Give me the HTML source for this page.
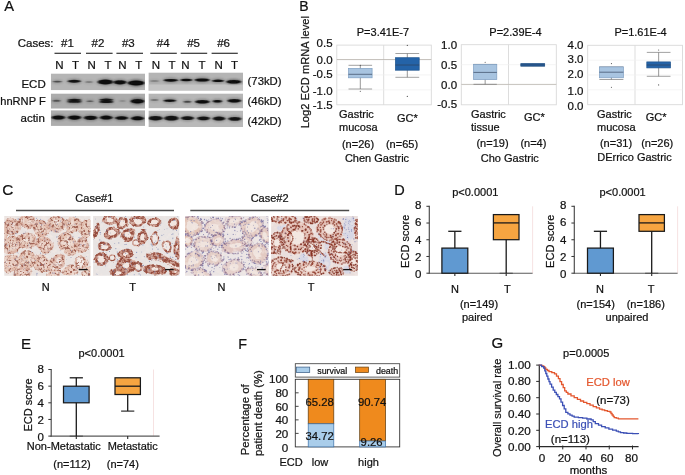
<!DOCTYPE html>
<html><head><meta charset="utf-8"><title>Figure</title>
<style>
html,body{margin:0;padding:0;background:#fff;}
body{width:685px;height:475px;overflow:hidden;}
svg{display:block;font-family:"Liberation Sans",Arial,sans-serif;}
svg text{opacity:0.995;}
</style></head><body>
<svg width="685" height="475" viewBox="0 0 685 475">
<rect width="685" height="475" fill="#fff"/>
<defs>
<filter id="b1" x="-20%" y="-60%" width="140%" height="220%"><feGaussianBlur stdDeviation="1.05 0.65"/></filter>
<filter id="b2" x="-20%" y="-60%" width="140%" height="220%"><feGaussianBlur stdDeviation="0.85 0.55"/></filter>
<filter id="halo" x="-30%" y="-100%" width="160%" height="300%"><feGaussianBlur stdDeviation="1.6 1.3"/></filter>
<filter id="bg" x="0" y="0" width="100%" height="100%"><feGaussianBlur stdDeviation="3"/></filter>
<filter id="soft" x="-10%" y="-10%" width="120%" height="120%"><feGaussianBlur stdDeviation="0.7"/></filter>
<filter id="soft2" x="-10%" y="-10%" width="120%" height="120%"><feGaussianBlur stdDeviation="1.2"/></filter>
<filter id="soft3" x="-10%" y="-10%" width="120%" height="120%"><feGaussianBlur stdDeviation="0.45"/></filter>
</defs>
<text x="4.20" y="11.16" font-size="14.7" text-anchor="start" fill="#111" stroke="#111" stroke-width="0.22">A</text>
<text x="17.70" y="47.42" font-size="11.5" text-anchor="start" fill="#111" stroke="#111" stroke-width="0.22">Cases:</text>
<text x="67.50" y="47.42" font-size="11.5" text-anchor="middle" fill="#111" stroke="#111" stroke-width="0.22">#1</text>
<text x="97.90" y="47.42" font-size="11.5" text-anchor="middle" fill="#111" stroke="#111" stroke-width="0.22">#2</text>
<text x="128.30" y="47.42" font-size="11.5" text-anchor="middle" fill="#111" stroke="#111" stroke-width="0.22">#3</text>
<text x="163.20" y="47.42" font-size="11.5" text-anchor="middle" fill="#111" stroke="#111" stroke-width="0.22">#4</text>
<text x="193.60" y="47.42" font-size="11.5" text-anchor="middle" fill="#111" stroke="#111" stroke-width="0.22">#5</text>
<text x="223.60" y="47.42" font-size="11.5" text-anchor="middle" fill="#111" stroke="#111" stroke-width="0.22">#6</text>
<line x1="54.50" y1="53.30" x2="81.00" y2="53.30" stroke="#333" stroke-width="1.2"/>
<line x1="86.00" y1="53.30" x2="112.60" y2="53.30" stroke="#333" stroke-width="1.2"/>
<line x1="116.40" y1="53.30" x2="143.00" y2="53.30" stroke="#333" stroke-width="1.2"/>
<line x1="150.30" y1="53.30" x2="176.80" y2="53.30" stroke="#333" stroke-width="1.2"/>
<line x1="180.70" y1="53.30" x2="207.20" y2="53.30" stroke="#333" stroke-width="1.2"/>
<line x1="211.60" y1="53.30" x2="237.80" y2="53.30" stroke="#333" stroke-width="1.2"/>
<text x="59.40" y="68.72" font-size="11.5" text-anchor="middle" fill="#111" stroke="#111" stroke-width="0.22">N</text>
<text x="75.50" y="68.72" font-size="11.5" text-anchor="middle" fill="#111" stroke="#111" stroke-width="0.22">T</text>
<text x="91.70" y="68.72" font-size="11.5" text-anchor="middle" fill="#111" stroke="#111" stroke-width="0.22">N</text>
<text x="108.00" y="68.72" font-size="11.5" text-anchor="middle" fill="#111" stroke="#111" stroke-width="0.22">T</text>
<text x="122.50" y="68.72" font-size="11.5" text-anchor="middle" fill="#111" stroke="#111" stroke-width="0.22">N</text>
<text x="138.80" y="68.72" font-size="11.5" text-anchor="middle" fill="#111" stroke="#111" stroke-width="0.22">T</text>
<text x="155.80" y="68.72" font-size="11.5" text-anchor="middle" fill="#111" stroke="#111" stroke-width="0.22">N</text>
<text x="171.90" y="68.72" font-size="11.5" text-anchor="middle" fill="#111" stroke="#111" stroke-width="0.22">T</text>
<text x="185.40" y="68.72" font-size="11.5" text-anchor="middle" fill="#111" stroke="#111" stroke-width="0.22">N</text>
<text x="201.90" y="68.72" font-size="11.5" text-anchor="middle" fill="#111" stroke="#111" stroke-width="0.22">T</text>
<text x="218.60" y="68.72" font-size="11.5" text-anchor="middle" fill="#111" stroke="#111" stroke-width="0.22">N</text>
<text x="234.40" y="68.72" font-size="11.5" text-anchor="middle" fill="#111" stroke="#111" stroke-width="0.22">T</text>
<text x="45.70" y="87.92" font-size="11.5" text-anchor="end" fill="#111" stroke="#111" stroke-width="0.22">ECD</text>
<text x="45.70" y="105.27" font-size="11.1" text-anchor="end" fill="#111" stroke="#111" stroke-width="0.22">hnRNP F</text>
<text x="44.80" y="121.92" font-size="11.5" text-anchor="end" fill="#111" stroke="#111" stroke-width="0.22">actin</text>
<text x="247.60" y="85.35" font-size="11.3" text-anchor="start" fill="#111" stroke="#111" stroke-width="0.22">(73kD)</text>
<text x="247.60" y="105.35" font-size="11.3" text-anchor="start" fill="#111" stroke="#111" stroke-width="0.22">(46kD)</text>
<text x="247.60" y="125.35" font-size="11.3" text-anchor="start" fill="#111" stroke="#111" stroke-width="0.22">(42kD)</text>
<clipPath id="cb1"><rect x="50.8" y="73.4" width="94.2" height="16.89999999999999"/></clipPath>
<g clip-path="url(#cb1)">
<rect x="50.80" y="73.40" width="94.20" height="16.90" fill="#b5b5b5" stroke="none" stroke-width="1"/>
<ellipse cx="57.3" cy="81.6" rx="5.4" ry="2.2" fill="#222" opacity="0.17" filter="url(#halo)"/>
<ellipse cx="57.3" cy="81.6" rx="4.2" ry="0.9" fill="#0a0a0a" opacity="0.55" filter="url(#b2)"/>
<ellipse cx="74.2" cy="81.3" rx="7.6000000000000005" ry="2.8" fill="#222" opacity="0.28" filter="url(#halo)"/>
<ellipse cx="74.2" cy="81.3" rx="6.4" ry="1.5" fill="#0a0a0a" opacity="0.95" filter="url(#b1)"/>
<ellipse cx="89" cy="82" rx="4.8" ry="2.0" fill="#222" opacity="0.10" filter="url(#halo)"/>
<ellipse cx="89" cy="82" rx="3.6" ry="0.7" fill="#0a0a0a" opacity="0.35" filter="url(#b2)"/>
<ellipse cx="105.4" cy="82" rx="8.799999999999999" ry="3.7" fill="#222" opacity="0.30" filter="url(#halo)"/>
<ellipse cx="105.4" cy="82" rx="7.6" ry="2.4" fill="#0a0a0a" opacity="1" filter="url(#b1)"/>
<ellipse cx="120" cy="82.3" rx="7.5" ry="3.4000000000000004" fill="#222" opacity="0.30" filter="url(#halo)"/>
<ellipse cx="120" cy="82.3" rx="6.3" ry="2.1" fill="#0a0a0a" opacity="1" filter="url(#b1)"/>
<ellipse cx="136.2" cy="83" rx="9.399999999999999" ry="3.9000000000000004" fill="#222" opacity="0.30" filter="url(#halo)"/>
<ellipse cx="136.2" cy="83" rx="8.2" ry="2.6" fill="#0a0a0a" opacity="1" filter="url(#b1)"/>
<ellipse cx="136" cy="83" rx="7.2" ry="2.9000000000000004" fill="#222" opacity="0.30" filter="url(#halo)"/>
<ellipse cx="136" cy="83" rx="6" ry="1.6" fill="#0a0a0a" opacity="1" filter="url(#b1)"/>
</g>
<clipPath id="cb2"><rect x="50.8" y="93.4" width="94.2" height="15.299999999999997"/></clipPath>
<g clip-path="url(#cb2)">
<rect x="50.80" y="93.40" width="94.20" height="15.30" fill="#acacac" stroke="none" stroke-width="1"/>
<ellipse cx="56.5" cy="100.7" rx="4.8" ry="2.3" fill="#222" opacity="0.15" filter="url(#halo)"/>
<ellipse cx="56.5" cy="100.7" rx="3.6" ry="1.0" fill="#0a0a0a" opacity="0.5" filter="url(#b2)"/>
<ellipse cx="74.4" cy="100" rx="8.0" ry="2.5" fill="#222" opacity="0.28" filter="url(#halo)"/>
<ellipse cx="74.4" cy="100" rx="6.8" ry="1.2" fill="#0a0a0a" opacity="0.95" filter="url(#b2)"/>
<ellipse cx="74.4" cy="101.8" rx="8.0" ry="2.3" fill="#222" opacity="0.27" filter="url(#halo)"/>
<ellipse cx="74.4" cy="101.8" rx="6.8" ry="1.0" fill="#0a0a0a" opacity="0.9" filter="url(#b2)"/>
<ellipse cx="90" cy="101.3" rx="4.4" ry="2.0" fill="#222" opacity="0.15" filter="url(#halo)"/>
<ellipse cx="90" cy="101.3" rx="3.2" ry="0.7" fill="#0a0a0a" opacity="0.5" filter="url(#b2)"/>
<ellipse cx="106.3" cy="99.8" rx="7.8" ry="2.5" fill="#222" opacity="0.28" filter="url(#halo)"/>
<ellipse cx="106.3" cy="99.8" rx="6.6" ry="1.2" fill="#0a0a0a" opacity="0.95" filter="url(#b2)"/>
<ellipse cx="106.3" cy="101.9" rx="7.8" ry="2.4000000000000004" fill="#222" opacity="0.28" filter="url(#halo)"/>
<ellipse cx="106.3" cy="101.9" rx="6.6" ry="1.1" fill="#0a0a0a" opacity="0.95" filter="url(#b2)"/>
<ellipse cx="122.5" cy="101" rx="4.4" ry="2.0" fill="#222" opacity="0.06" filter="url(#halo)"/>
<ellipse cx="122.5" cy="101" rx="3.2" ry="0.7" fill="#0a0a0a" opacity="0.2" filter="url(#b2)"/>
<ellipse cx="137.5" cy="101.3" rx="7.8" ry="3.5" fill="#222" opacity="0.30" filter="url(#halo)"/>
<ellipse cx="137.5" cy="101.3" rx="6.6" ry="2.2" fill="#0a0a0a" opacity="1" filter="url(#b1)"/>
<ellipse cx="137.5" cy="101.3" rx="6.2" ry="2.7" fill="#222" opacity="0.30" filter="url(#halo)"/>
<ellipse cx="137.5" cy="101.3" rx="5" ry="1.4" fill="#0a0a0a" opacity="1" filter="url(#b1)"/>
</g>
<clipPath id="cb3"><rect x="50.8" y="110.2" width="94.2" height="15.700000000000003"/></clipPath>
<g clip-path="url(#cb3)">
<rect x="50.80" y="110.20" width="94.20" height="15.70" fill="#adadad" stroke="none" stroke-width="1"/>
<ellipse cx="58.4" cy="117.5" rx="7.8" ry="3.3" fill="#222" opacity="0.30" filter="url(#halo)"/>
<ellipse cx="58.4" cy="117.5" rx="6.6" ry="2.0" fill="#0a0a0a" opacity="1" filter="url(#b1)"/>
<ellipse cx="74.5" cy="117.6" rx="7.8" ry="3.4000000000000004" fill="#222" opacity="0.30" filter="url(#halo)"/>
<ellipse cx="74.5" cy="117.6" rx="6.6" ry="2.1" fill="#0a0a0a" opacity="1" filter="url(#b1)"/>
<ellipse cx="90.6" cy="117.8" rx="7.8" ry="3.4000000000000004" fill="#222" opacity="0.30" filter="url(#halo)"/>
<ellipse cx="90.6" cy="117.8" rx="6.6" ry="2.1" fill="#0a0a0a" opacity="1" filter="url(#b1)"/>
<ellipse cx="106.2" cy="117.6" rx="7.5" ry="3.3" fill="#222" opacity="0.30" filter="url(#halo)"/>
<ellipse cx="106.2" cy="117.6" rx="6.3" ry="2.0" fill="#0a0a0a" opacity="1" filter="url(#b1)"/>
<ellipse cx="121.6" cy="118" rx="7.4" ry="3.1" fill="#222" opacity="0.30" filter="url(#halo)"/>
<ellipse cx="121.6" cy="118" rx="6.2" ry="1.8" fill="#0a0a0a" opacity="1" filter="url(#b1)"/>
<ellipse cx="137.5" cy="118.3" rx="7.6000000000000005" ry="3.3" fill="#222" opacity="0.30" filter="url(#halo)"/>
<ellipse cx="137.5" cy="118.3" rx="6.4" ry="2.0" fill="#0a0a0a" opacity="1" filter="url(#b1)"/>
</g>
<clipPath id="cb4"><rect x="148.4" y="72.4" width="94.6" height="18.39999999999999"/></clipPath>
<g clip-path="url(#cb4)">
<rect x="148.40" y="72.40" width="94.60" height="18.40" fill="#b4b4b4" stroke="none" stroke-width="1"/>
<ellipse cx="154.5" cy="81" rx="5.6000000000000005" ry="2.0" fill="#222" opacity="0.09" filter="url(#halo)"/>
<ellipse cx="154.5" cy="81" rx="4.4" ry="0.7" fill="#0a0a0a" opacity="0.3" filter="url(#b2)"/>
<ellipse cx="170.8" cy="80.3" rx="8.2" ry="2.7" fill="#222" opacity="0.30" filter="url(#halo)"/>
<ellipse cx="170.8" cy="80.3" rx="7" ry="1.4" fill="#0a0a0a" opacity="1" filter="url(#b1)"/>
<ellipse cx="186.3" cy="80" rx="6.8" ry="2.5" fill="#222" opacity="0.30" filter="url(#halo)"/>
<ellipse cx="186.3" cy="80" rx="5.6" ry="1.2" fill="#0a0a0a" opacity="1" filter="url(#b1)"/>
<ellipse cx="202.2" cy="80" rx="8.4" ry="2.9000000000000004" fill="#222" opacity="0.30" filter="url(#halo)"/>
<ellipse cx="202.2" cy="80" rx="7.2" ry="1.6" fill="#0a0a0a" opacity="1" filter="url(#b1)"/>
<ellipse cx="218" cy="80.8" rx="7.0" ry="2.5" fill="#222" opacity="0.30" filter="url(#halo)"/>
<ellipse cx="218" cy="80.8" rx="5.8" ry="1.2" fill="#0a0a0a" opacity="1" filter="url(#b1)"/>
<ellipse cx="233.8" cy="81.8" rx="8.4" ry="3.0" fill="#222" opacity="0.30" filter="url(#halo)"/>
<ellipse cx="233.8" cy="81.8" rx="7.2" ry="1.7" fill="#0a0a0a" opacity="1" filter="url(#b1)"/>
<ellipse cx="233.8" cy="81.8" rx="6.2" ry="2.3" fill="#222" opacity="0.30" filter="url(#halo)"/>
<ellipse cx="233.8" cy="81.8" rx="5" ry="1" fill="#0a0a0a" opacity="1" filter="url(#b1)"/>
</g>
<clipPath id="cb5"><rect x="148.4" y="93.4" width="94.6" height="15.0"/></clipPath>
<g clip-path="url(#cb5)">
<rect x="148.40" y="93.40" width="94.60" height="15.00" fill="#b6b6b6" stroke="none" stroke-width="1"/>
<ellipse cx="154.5" cy="100" rx="4.8" ry="2.2" fill="#222" opacity="0.10" filter="url(#halo)"/>
<ellipse cx="154.5" cy="100" rx="3.6" ry="0.9" fill="#0a0a0a" opacity="0.35" filter="url(#b2)"/>
<ellipse cx="169.8" cy="100.7" rx="7.2" ry="2.6" fill="#222" opacity="0.30" filter="url(#halo)"/>
<ellipse cx="169.8" cy="100.7" rx="6" ry="1.3" fill="#0a0a0a" opacity="1" filter="url(#b1)"/>
<ellipse cx="187.4" cy="101.8" rx="4.8" ry="2.3" fill="#222" opacity="0.18" filter="url(#halo)"/>
<ellipse cx="187.4" cy="101.8" rx="3.6" ry="1.0" fill="#0a0a0a" opacity="0.6" filter="url(#b2)"/>
<ellipse cx="202.4" cy="101.8" rx="8.2" ry="3.0" fill="#222" opacity="0.30" filter="url(#halo)"/>
<ellipse cx="202.4" cy="101.8" rx="7" ry="1.7" fill="#0a0a0a" opacity="1" filter="url(#b1)"/>
<ellipse cx="217.4" cy="101.3" rx="5.6000000000000005" ry="2.6" fill="#222" opacity="0.30" filter="url(#halo)"/>
<ellipse cx="217.4" cy="101.3" rx="4.4" ry="1.3" fill="#0a0a0a" opacity="1" filter="url(#b1)"/>
<ellipse cx="234.3" cy="100.7" rx="7.8" ry="3.0" fill="#222" opacity="0.30" filter="url(#halo)"/>
<ellipse cx="234.3" cy="100.7" rx="6.6" ry="1.7" fill="#0a0a0a" opacity="1" filter="url(#b1)"/>
</g>
<clipPath id="cb6"><rect x="148.4" y="110.5" width="94.6" height="16.599999999999994"/></clipPath>
<g clip-path="url(#cb6)">
<rect x="148.40" y="110.50" width="94.60" height="16.60" fill="#b9b9b9" stroke="none" stroke-width="1"/>
<ellipse cx="155.5" cy="118.2" rx="8.0" ry="3.5999999999999996" fill="#222" opacity="0.28" filter="url(#halo)"/>
<ellipse cx="155.5" cy="118.2" rx="6.8" ry="2.3" fill="#0a0a0a" opacity="0.95" filter="url(#b1)"/>
<ellipse cx="171.4" cy="118.2" rx="8.2" ry="3.7" fill="#222" opacity="0.28" filter="url(#halo)"/>
<ellipse cx="171.4" cy="118.2" rx="7" ry="2.4" fill="#0a0a0a" opacity="0.95" filter="url(#b1)"/>
<ellipse cx="187.5" cy="118.2" rx="7.4" ry="3.2" fill="#222" opacity="0.28" filter="url(#halo)"/>
<ellipse cx="187.5" cy="118.2" rx="6.2" ry="1.9" fill="#0a0a0a" opacity="0.95" filter="url(#b1)"/>
<ellipse cx="203.5" cy="118.3" rx="7.4" ry="3.2" fill="#222" opacity="0.28" filter="url(#halo)"/>
<ellipse cx="203.5" cy="118.3" rx="6.2" ry="1.9" fill="#0a0a0a" opacity="0.95" filter="url(#b1)"/>
<ellipse cx="219" cy="118.6" rx="7.4" ry="3.3" fill="#222" opacity="0.28" filter="url(#halo)"/>
<ellipse cx="219" cy="118.6" rx="6.2" ry="2.0" fill="#0a0a0a" opacity="0.95" filter="url(#b1)"/>
<ellipse cx="234.8" cy="118.8" rx="7.5" ry="3.2" fill="#222" opacity="0.28" filter="url(#halo)"/>
<ellipse cx="234.8" cy="118.8" rx="6.3" ry="1.9" fill="#0a0a0a" opacity="0.95" filter="url(#b1)"/>
</g>
<rect x="148.4" y="84.5" width="94.6" height="6.3" fill="#d2d2d2" opacity="0.55"/>
<text x="299.20" y="10.91" font-size="14" text-anchor="start" fill="#111" stroke="#111" stroke-width="0.22">B</text>
<text x="305.10" y="76.17" font-size="11.1" text-anchor="middle" fill="#111" stroke="#111" stroke-width="0.22" transform="rotate(-90 305.10 72.20)">Log2 ECD mRNA level</text>
<rect x="336.80" y="45.10" width="94.50" height="59.70" fill="#fff" stroke="#d9d9d9" stroke-width="0.9"/>
<line x1="383.70" y1="45.10" x2="383.70" y2="104.80" stroke="#d9d9d9" stroke-width="0.9"/>
<line x1="336.80" y1="60.02" x2="431.30" y2="60.02" stroke="#efefef" stroke-width="0.7"/>
<line x1="336.80" y1="74.95" x2="431.30" y2="74.95" stroke="#efefef" stroke-width="0.7"/>
<line x1="336.80" y1="89.88" x2="431.30" y2="89.88" stroke="#efefef" stroke-width="0.7"/>
<line x1="336.80" y1="59.50" x2="431.30" y2="59.50" stroke="#b6b0a9" stroke-width="0.75"/>
<text x="382.90" y="35.94" font-size="11" text-anchor="middle" fill="#111" stroke="#111" stroke-width="0.22">P=3.41E-7</text>
<text x="332.60" y="46.52" font-size="11.5" text-anchor="end" fill="#111" stroke="#111" stroke-width="0.22">0.5</text>
<text x="332.60" y="64.24" font-size="11.5" text-anchor="end" fill="#111" stroke="#111" stroke-width="0.22">0.0</text>
<text x="332.60" y="77.92" font-size="11.5" text-anchor="end" fill="#111" stroke="#111" stroke-width="0.22">-0.5</text>
<text x="332.60" y="94.89" font-size="11.5" text-anchor="end" fill="#111" stroke="#111" stroke-width="0.22">-1.0</text>
<text x="332.60" y="109.22" font-size="11.5" text-anchor="end" fill="#111" stroke="#111" stroke-width="0.22">-1.5</text>
<line x1="360.30" y1="65.30" x2="360.30" y2="89.00" stroke="#606060" stroke-width="0.65"/>
<line x1="348.50" y1="65.30" x2="372.10" y2="65.30" stroke="#707070" stroke-width="0.65"/>
<line x1="348.50" y1="89.00" x2="372.10" y2="89.00" stroke="#707070" stroke-width="0.65"/>
<rect x="348.50" y="68.40" width="23.60" height="9.40" fill="#a8c4e0" stroke="#7f9fc2" stroke-width="0.7"/>
<line x1="348.50" y1="74.30" x2="372.10" y2="74.30" stroke="#2e3e55" stroke-width="0.65"/>
<circle cx="360.3" cy="65.3" r="0.55" fill="#444"/>
<circle cx="360.3" cy="91.3" r="0.55" fill="#444"/>
<line x1="407.30" y1="53.50" x2="407.30" y2="77.30" stroke="#606060" stroke-width="0.65"/>
<line x1="395.40" y1="53.50" x2="419.20" y2="53.50" stroke="#707070" stroke-width="0.65"/>
<line x1="395.40" y1="77.30" x2="419.20" y2="77.30" stroke="#707070" stroke-width="0.65"/>
<rect x="395.40" y="57.70" width="23.80" height="12.50" fill="#2463a8" stroke="#1f558f" stroke-width="0.7"/>
<line x1="395.40" y1="65.00" x2="419.20" y2="65.00" stroke="#2e3e55" stroke-width="0.65"/>
<circle cx="407.29999999999995" cy="45.4" r="0.55" fill="#444"/>
<circle cx="407.29999999999995" cy="96.4" r="0.55" fill="#444"/>
<text x="339.00" y="118.14" font-size="11" text-anchor="start" fill="#111" stroke="#111" stroke-width="0.22">Gastric</text>
<text x="339.00" y="131.34" font-size="11" text-anchor="start" fill="#111" stroke="#111" stroke-width="0.22">mucosa</text>
<text x="397.00" y="121.94" font-size="11" text-anchor="start" fill="#111" stroke="#111" stroke-width="0.22">GC*</text>
<text x="358.00" y="147.54" font-size="11" text-anchor="middle" fill="#111" stroke="#111" stroke-width="0.22">(n=26)</text>
<text x="402.00" y="147.54" font-size="11" text-anchor="middle" fill="#111" stroke="#111" stroke-width="0.22">(n=65)</text>
<text x="377.00" y="161.94" font-size="11" text-anchor="middle" fill="#111" stroke="#111" stroke-width="0.22">Chen Gastric</text>
<rect x="461.30" y="44.70" width="95.00" height="60.10" fill="#fff" stroke="#d9d9d9" stroke-width="0.9"/>
<line x1="508.50" y1="44.70" x2="508.50" y2="104.80" stroke="#d9d9d9" stroke-width="0.9"/>
<line x1="461.30" y1="64.73" x2="556.30" y2="64.73" stroke="#efefef" stroke-width="0.7"/>
<line x1="461.30" y1="84.77" x2="556.30" y2="84.77" stroke="#efefef" stroke-width="0.7"/>
<line x1="461.30" y1="84.40" x2="556.30" y2="84.40" stroke="#b6b0a9" stroke-width="0.75"/>
<text x="515.50" y="35.94" font-size="11" text-anchor="middle" fill="#111" stroke="#111" stroke-width="0.22">P=2.39E-4</text>
<text x="457.10" y="49.22" font-size="11.5" text-anchor="end" fill="#111" stroke="#111" stroke-width="0.22">1.0</text>
<text x="457.10" y="68.55" font-size="11.5" text-anchor="end" fill="#111" stroke="#111" stroke-width="0.22">0.5</text>
<text x="457.10" y="89.28" font-size="11.5" text-anchor="end" fill="#111" stroke="#111" stroke-width="0.22">0.0</text>
<text x="457.10" y="108.02" font-size="11.5" text-anchor="end" fill="#111" stroke="#111" stroke-width="0.22">-0.5</text>
<line x1="485.15" y1="64.40" x2="485.15" y2="84.30" stroke="#606060" stroke-width="0.65"/>
<line x1="473.50" y1="64.40" x2="496.80" y2="64.40" stroke="#707070" stroke-width="0.65"/>
<line x1="473.50" y1="84.30" x2="496.80" y2="84.30" stroke="#707070" stroke-width="0.65"/>
<rect x="473.50" y="64.40" width="23.30" height="15.20" fill="#a8c4e0" stroke="#7f9fc2" stroke-width="0.7"/>
<line x1="473.50" y1="72.40" x2="496.80" y2="72.40" stroke="#2e3e55" stroke-width="0.65"/>
<circle cx="485.15" cy="62.3" r="0.55" fill="#444"/>
<line x1="532.75" y1="63.70" x2="532.75" y2="66.10" stroke="#606060" stroke-width="0.65"/>
<line x1="520.80" y1="63.70" x2="544.70" y2="63.70" stroke="#707070" stroke-width="0.65"/>
<line x1="520.80" y1="66.10" x2="544.70" y2="66.10" stroke="#707070" stroke-width="0.65"/>
<rect x="520.80" y="63.70" width="23.90" height="2.40" fill="#2463a8" stroke="#1f558f" stroke-width="0.7"/>
<line x1="520.80" y1="64.90" x2="544.70" y2="64.90" stroke="#2e3e55" stroke-width="0.65"/>
<text x="471.00" y="118.14" font-size="11" text-anchor="start" fill="#111" stroke="#111" stroke-width="0.22">Gastric</text>
<text x="471.00" y="131.34" font-size="11" text-anchor="start" fill="#111" stroke="#111" stroke-width="0.22">tissue</text>
<text x="524.00" y="121.14" font-size="11" text-anchor="start" fill="#111" stroke="#111" stroke-width="0.22">GC*</text>
<text x="492.50" y="146.54" font-size="11" text-anchor="middle" fill="#111" stroke="#111" stroke-width="0.22">(n=19)</text>
<text x="533.40" y="146.54" font-size="11" text-anchor="middle" fill="#111" stroke="#111" stroke-width="0.22">(n=4)</text>
<text x="509.80" y="161.54" font-size="11" text-anchor="middle" fill="#111" stroke="#111" stroke-width="0.22">Cho Gastric</text>
<rect x="587.70" y="45.30" width="94.80" height="59.40" fill="#fff" stroke="#d9d9d9" stroke-width="0.9"/>
<line x1="635.00" y1="45.30" x2="635.00" y2="104.70" stroke="#d9d9d9" stroke-width="0.9"/>
<line x1="587.70" y1="60.15" x2="682.50" y2="60.15" stroke="#efefef" stroke-width="0.7"/>
<line x1="587.70" y1="75.00" x2="682.50" y2="75.00" stroke="#efefef" stroke-width="0.7"/>
<line x1="587.70" y1="89.85" x2="682.50" y2="89.85" stroke="#efefef" stroke-width="0.7"/>
<text x="640.60" y="35.94" font-size="11" text-anchor="middle" fill="#111" stroke="#111" stroke-width="0.22">P=1.61E-4</text>
<text x="583.50" y="48.72" font-size="11.5" text-anchor="end" fill="#111" stroke="#111" stroke-width="0.22">4.0</text>
<text x="583.50" y="63.27" font-size="11.5" text-anchor="end" fill="#111" stroke="#111" stroke-width="0.22">3.0</text>
<text x="583.50" y="77.92" font-size="11.5" text-anchor="end" fill="#111" stroke="#111" stroke-width="0.22">2.0</text>
<text x="583.50" y="95.27" font-size="11.5" text-anchor="end" fill="#111" stroke="#111" stroke-width="0.22">1.0</text>
<text x="583.50" y="109.82" font-size="11.5" text-anchor="end" fill="#111" stroke="#111" stroke-width="0.22">0.0</text>
<line x1="611.40" y1="66.90" x2="611.40" y2="79.50" stroke="#606060" stroke-width="0.65"/>
<line x1="599.40" y1="66.90" x2="623.40" y2="66.90" stroke="#707070" stroke-width="0.65"/>
<line x1="599.40" y1="79.50" x2="623.40" y2="79.50" stroke="#707070" stroke-width="0.65"/>
<rect x="599.40" y="66.90" width="24.00" height="10.90" fill="#a8c4e0" stroke="#7f9fc2" stroke-width="0.7"/>
<line x1="599.40" y1="72.20" x2="623.40" y2="72.20" stroke="#2e3e55" stroke-width="0.65"/>
<circle cx="611.4" cy="63.6" r="0.55" fill="#444"/>
<circle cx="611.4" cy="87.3" r="0.55" fill="#444"/>
<line x1="658.65" y1="52.40" x2="658.65" y2="76.30" stroke="#606060" stroke-width="0.65"/>
<line x1="646.80" y1="52.40" x2="670.50" y2="52.40" stroke="#707070" stroke-width="0.65"/>
<line x1="646.80" y1="76.30" x2="670.50" y2="76.30" stroke="#707070" stroke-width="0.65"/>
<rect x="646.80" y="61.90" width="23.70" height="6.00" fill="#2463a8" stroke="#1f558f" stroke-width="0.7"/>
<line x1="646.80" y1="65.00" x2="670.50" y2="65.00" stroke="#2e3e55" stroke-width="0.65"/>
<circle cx="658.65" cy="50" r="0.55" fill="#444"/>
<circle cx="658.65" cy="84.9" r="0.55" fill="#444"/>
<text x="597.00" y="118.14" font-size="11" text-anchor="start" fill="#111" stroke="#111" stroke-width="0.22">Gastric</text>
<text x="597.00" y="131.34" font-size="11" text-anchor="start" fill="#111" stroke="#111" stroke-width="0.22">mucosa</text>
<text x="645.70" y="121.14" font-size="11" text-anchor="start" fill="#111" stroke="#111" stroke-width="0.22">GC*</text>
<text x="616.00" y="146.54" font-size="11" text-anchor="middle" fill="#111" stroke="#111" stroke-width="0.22">(n=31)</text>
<text x="657.20" y="146.54" font-size="11" text-anchor="middle" fill="#111" stroke="#111" stroke-width="0.22">(n=26)</text>
<text x="634.50" y="161.44" font-size="11" text-anchor="middle" fill="#111" stroke="#111" stroke-width="0.22">DErrico Gastric</text>
<text x="394.20" y="195.04" font-size="14.5" text-anchor="start" fill="#111" stroke="#111" stroke-width="0.22">D</text>
<text x="475.30" y="196.34" font-size="11" text-anchor="middle" fill="#111" stroke="#111" stroke-width="0.22">p&lt;0.0001</text>
<line x1="532.60" y1="206.30" x2="532.60" y2="273.20" stroke="#f5dfdf" stroke-width="0.9"/>
<line x1="429.30" y1="205.75" x2="429.30" y2="273.75" stroke="#4a4a4a" stroke-width="1.15"/>
<line x1="428.75" y1="273.20" x2="532.60" y2="273.20" stroke="#5a5a5a" stroke-width="1.15"/>
<line x1="426.40" y1="206.30" x2="429.30" y2="206.30" stroke="#3a3a3a" stroke-width="1.05"/>
<text x="421.50" y="209.12" font-size="11.5" text-anchor="end" fill="#111" stroke="#111" stroke-width="0.22">8</text>
<line x1="426.40" y1="223.03" x2="429.30" y2="223.03" stroke="#3a3a3a" stroke-width="1.05"/>
<text x="421.50" y="226.34" font-size="11.5" text-anchor="end" fill="#111" stroke="#111" stroke-width="0.22">6</text>
<line x1="426.40" y1="239.75" x2="429.30" y2="239.75" stroke="#3a3a3a" stroke-width="1.05"/>
<text x="421.50" y="243.57" font-size="11.5" text-anchor="end" fill="#111" stroke="#111" stroke-width="0.22">4</text>
<line x1="426.40" y1="256.48" x2="429.30" y2="256.48" stroke="#3a3a3a" stroke-width="1.05"/>
<text x="421.50" y="260.79" font-size="11.5" text-anchor="end" fill="#111" stroke="#111" stroke-width="0.22">2</text>
<line x1="426.40" y1="273.20" x2="429.30" y2="273.20" stroke="#3a3a3a" stroke-width="1.05"/>
<text x="421.50" y="278.02" font-size="11.5" text-anchor="end" fill="#111" stroke="#111" stroke-width="0.22">0</text>
<text x="405.40" y="245.24" font-size="11" text-anchor="middle" fill="#111" stroke="#111" stroke-width="0.22" transform="rotate(-90 405.40 241.30)">ECD score</text>
<line x1="454.85" y1="231.30" x2="454.85" y2="273.20" stroke="#1a1a1a" stroke-width="1.3"/>
<line x1="448.25" y1="231.30" x2="461.45" y2="231.30" stroke="#1a1a1a" stroke-width="1.3"/>
<rect x="441.90" y="248.10" width="25.90" height="25.10" fill="#6099d1" stroke="#1a1a1a" stroke-width="1.25"/>
<line x1="454.85" y1="273.20" x2="454.85" y2="276.00" stroke="#2a2a2a" stroke-width="1.1"/>
<line x1="506.20" y1="214.60" x2="506.20" y2="273.20" stroke="#1a1a1a" stroke-width="1.3"/>
<line x1="499.60" y1="273.20" x2="512.80" y2="273.20" stroke="#1a1a1a" stroke-width="0.6"/>
<rect x="493.40" y="214.60" width="25.60" height="25.10" fill="#f6a541" stroke="#1a1a1a" stroke-width="1.25"/>
<line x1="493.40" y1="222.90" x2="519.00" y2="222.90" stroke="#1a1a1a" stroke-width="1.3"/>
<line x1="506.20" y1="273.20" x2="506.20" y2="276.00" stroke="#2a2a2a" stroke-width="1.1"/>
<text x="455.10" y="292.84" font-size="11" text-anchor="middle" fill="#111" stroke="#111" stroke-width="0.22">N</text>
<text x="507.30" y="292.84" font-size="11" text-anchor="middle" fill="#111" stroke="#111" stroke-width="0.22">T</text>
<text x="479.00" y="307.84" font-size="11" text-anchor="middle" fill="#111" stroke="#111" stroke-width="0.22">(n=149)</text>
<text x="477.20" y="321.14" font-size="11" text-anchor="middle" fill="#111" stroke="#111" stroke-width="0.22">paired</text>
<text x="622.60" y="196.34" font-size="11" text-anchor="middle" fill="#111" stroke="#111" stroke-width="0.22">p&lt;0.0001</text>
<line x1="677.60" y1="206.30" x2="677.60" y2="273.20" stroke="#f5dfdf" stroke-width="0.9"/>
<line x1="574.30" y1="205.75" x2="574.30" y2="273.75" stroke="#4a4a4a" stroke-width="1.15"/>
<line x1="573.75" y1="273.20" x2="677.60" y2="273.20" stroke="#5a5a5a" stroke-width="1.15"/>
<line x1="571.40" y1="206.30" x2="574.30" y2="206.30" stroke="#3a3a3a" stroke-width="1.05"/>
<text x="566.50" y="209.12" font-size="11.5" text-anchor="end" fill="#111" stroke="#111" stroke-width="0.22">8</text>
<line x1="571.40" y1="223.03" x2="574.30" y2="223.03" stroke="#3a3a3a" stroke-width="1.05"/>
<text x="566.50" y="226.34" font-size="11.5" text-anchor="end" fill="#111" stroke="#111" stroke-width="0.22">6</text>
<line x1="571.40" y1="239.75" x2="574.30" y2="239.75" stroke="#3a3a3a" stroke-width="1.05"/>
<text x="566.50" y="243.57" font-size="11.5" text-anchor="end" fill="#111" stroke="#111" stroke-width="0.22">4</text>
<line x1="571.40" y1="256.48" x2="574.30" y2="256.48" stroke="#3a3a3a" stroke-width="1.05"/>
<text x="566.50" y="260.79" font-size="11.5" text-anchor="end" fill="#111" stroke="#111" stroke-width="0.22">2</text>
<line x1="571.40" y1="273.20" x2="574.30" y2="273.20" stroke="#3a3a3a" stroke-width="1.05"/>
<text x="566.50" y="278.02" font-size="11.5" text-anchor="end" fill="#111" stroke="#111" stroke-width="0.22">0</text>
<text x="550.30" y="245.24" font-size="11" text-anchor="middle" fill="#111" stroke="#111" stroke-width="0.22" transform="rotate(-90 550.30 241.30)">ECD score</text>
<line x1="600.45" y1="231.30" x2="600.45" y2="273.20" stroke="#1a1a1a" stroke-width="1.3"/>
<line x1="593.85" y1="231.30" x2="607.05" y2="231.30" stroke="#1a1a1a" stroke-width="1.3"/>
<rect x="587.50" y="248.10" width="25.90" height="25.10" fill="#6099d1" stroke="#1a1a1a" stroke-width="1.25"/>
<line x1="600.45" y1="273.20" x2="600.45" y2="276.00" stroke="#2a2a2a" stroke-width="1.1"/>
<line x1="651.70" y1="214.60" x2="651.70" y2="273.20" stroke="#1a1a1a" stroke-width="1.3"/>
<line x1="645.10" y1="273.20" x2="658.30" y2="273.20" stroke="#1a1a1a" stroke-width="0.6"/>
<rect x="639.00" y="214.60" width="25.40" height="16.70" fill="#f6a541" stroke="#1a1a1a" stroke-width="1.25"/>
<line x1="639.00" y1="222.90" x2="664.40" y2="222.90" stroke="#1a1a1a" stroke-width="1.3"/>
<line x1="651.70" y1="273.20" x2="651.70" y2="276.00" stroke="#2a2a2a" stroke-width="1.1"/>
<text x="600.10" y="292.84" font-size="11" text-anchor="middle" fill="#111" stroke="#111" stroke-width="0.22">N</text>
<text x="651.10" y="292.84" font-size="11" text-anchor="middle" fill="#111" stroke="#111" stroke-width="0.22">T</text>
<text x="595.70" y="307.84" font-size="11" text-anchor="middle" fill="#111" stroke="#111" stroke-width="0.22">(n=154)</text>
<text x="645.80" y="307.84" font-size="11" text-anchor="middle" fill="#111" stroke="#111" stroke-width="0.22">(n=186)</text>
<text x="627.00" y="321.14" font-size="11" text-anchor="middle" fill="#111" stroke="#111" stroke-width="0.22">unpaired</text>
<text x="21.10" y="348.77" font-size="15" text-anchor="start" fill="#111" stroke="#111" stroke-width="0.22">E</text>
<text x="101.60" y="356.84" font-size="11" text-anchor="middle" fill="#111" stroke="#111" stroke-width="0.22">p&lt;0.0001</text>
<line x1="153.50" y1="369.50" x2="153.50" y2="436.10" stroke="#f5dfdf" stroke-width="0.9"/>
<line x1="51.20" y1="368.95" x2="51.20" y2="436.65" stroke="#4a4a4a" stroke-width="1.15"/>
<line x1="50.65" y1="436.10" x2="159.60" y2="436.10" stroke="#5a5a5a" stroke-width="1.15"/>
<line x1="48.30" y1="369.50" x2="51.20" y2="369.50" stroke="#3a3a3a" stroke-width="1.05"/>
<text x="44.00" y="373.42" font-size="11.5" text-anchor="end" fill="#111" stroke="#111" stroke-width="0.22">8</text>
<line x1="48.30" y1="386.15" x2="51.20" y2="386.15" stroke="#3a3a3a" stroke-width="1.05"/>
<text x="44.00" y="390.22" font-size="11.5" text-anchor="end" fill="#111" stroke="#111" stroke-width="0.22">6</text>
<line x1="48.30" y1="402.80" x2="51.20" y2="402.80" stroke="#3a3a3a" stroke-width="1.05"/>
<text x="44.00" y="407.02" font-size="11.5" text-anchor="end" fill="#111" stroke="#111" stroke-width="0.22">4</text>
<line x1="48.30" y1="419.45" x2="51.20" y2="419.45" stroke="#3a3a3a" stroke-width="1.05"/>
<text x="44.00" y="423.82" font-size="11.5" text-anchor="end" fill="#111" stroke="#111" stroke-width="0.22">2</text>
<line x1="48.30" y1="436.10" x2="51.20" y2="436.10" stroke="#3a3a3a" stroke-width="1.05"/>
<text x="44.00" y="440.62" font-size="11.5" text-anchor="end" fill="#111" stroke="#111" stroke-width="0.22">0</text>
<text x="28.20" y="408.94" font-size="11" text-anchor="middle" fill="#111" stroke="#111" stroke-width="0.22" transform="rotate(-90 28.20 405.00)">ECD score</text>
<line x1="76.30" y1="377.80" x2="76.30" y2="436.10" stroke="#1a1a1a" stroke-width="1.3"/>
<line x1="69.70" y1="377.80" x2="82.90" y2="377.80" stroke="#1a1a1a" stroke-width="1.3"/>
<line x1="69.70" y1="436.10" x2="82.90" y2="436.10" stroke="#1a1a1a" stroke-width="0.6"/>
<rect x="63.50" y="386.20" width="25.60" height="16.60" fill="#6099d1" stroke="#1a1a1a" stroke-width="1.25"/>
<line x1="76.30" y1="436.10" x2="76.30" y2="438.90" stroke="#2a2a2a" stroke-width="1.1"/>
<line x1="127.70" y1="377.80" x2="127.70" y2="411.10" stroke="#1a1a1a" stroke-width="1.3"/>
<line x1="121.10" y1="411.10" x2="134.30" y2="411.10" stroke="#1a1a1a" stroke-width="1.1"/>
<rect x="115.00" y="377.80" width="25.40" height="16.70" fill="#f6a541" stroke="#1a1a1a" stroke-width="1.25"/>
<line x1="115.00" y1="386.20" x2="140.40" y2="386.20" stroke="#1a1a1a" stroke-width="1.3"/>
<line x1="127.70" y1="436.10" x2="127.70" y2="438.90" stroke="#2a2a2a" stroke-width="1.1"/>
<text x="63.80" y="450.04" font-size="11" text-anchor="middle" fill="#111" stroke="#111" stroke-width="0.22">Non-Metastatic</text>
<text x="132.70" y="450.04" font-size="11" text-anchor="middle" fill="#111" stroke="#111" stroke-width="0.22">Metastatic</text>
<text x="72.00" y="467.64" font-size="11" text-anchor="middle" fill="#111" stroke="#111" stroke-width="0.22">(n=112)</text>
<text x="122.80" y="467.64" font-size="11" text-anchor="middle" fill="#111" stroke="#111" stroke-width="0.22">(n=74)</text>
<text x="238.20" y="348.97" font-size="14.3" text-anchor="start" fill="#111" stroke="#111" stroke-width="0.22">F</text>
<rect x="295.30" y="363.70" width="104.40" height="13.40" fill="#fff" stroke="#444" stroke-width="0.85"/>
<rect x="296.30" y="367.10" width="13.40" height="5.30" fill="#a9cdea" stroke="#3a5f88" stroke-width="0.75"/>
<text x="317.20" y="373.59" font-size="8.9" text-anchor="start" fill="#111" stroke="#111" stroke-width="0.22">survival</text>
<rect x="355.60" y="367.10" width="12.80" height="5.30" fill="#ef8a1d" stroke="#6a4210" stroke-width="0.75"/>
<text x="376.00" y="373.59" font-size="8.9" text-anchor="start" fill="#111" stroke="#111" stroke-width="0.22">death</text>
<rect x="295.30" y="379.30" width="104.40" height="67.60" fill="#fff" stroke="#333" stroke-width="0.9"/>
<rect x="308.20" y="379.30" width="25.60" height="44.50" fill="#ef8a1d" stroke="#5a3a10" stroke-width="0.7"/>
<rect x="308.20" y="423.80" width="25.60" height="23.10" fill="#a9cdea" stroke="#3a6fa8" stroke-width="0.7"/>
<rect x="359.70" y="379.30" width="25.90" height="61.70" fill="#ef8a1d" stroke="#5a3a10" stroke-width="0.7"/>
<rect x="359.70" y="441.00" width="25.90" height="5.90" fill="#a9cdea" stroke="#3a6fa8" stroke-width="0.7"/>
<text x="288.30" y="383.05" font-size="11.6" text-anchor="end" fill="#111" stroke="#111" stroke-width="0.22">100</text>
<line x1="295.30" y1="392.82" x2="298.60" y2="392.82" stroke="#333" stroke-width="0.9"/>
<text x="288.30" y="397.27" font-size="11.6" text-anchor="end" fill="#111" stroke="#111" stroke-width="0.22">80</text>
<line x1="295.30" y1="406.34" x2="298.60" y2="406.34" stroke="#333" stroke-width="0.9"/>
<text x="288.30" y="410.79" font-size="11.6" text-anchor="end" fill="#111" stroke="#111" stroke-width="0.22">60</text>
<line x1="295.30" y1="419.86" x2="298.60" y2="419.86" stroke="#333" stroke-width="0.9"/>
<text x="288.30" y="424.31" font-size="11.6" text-anchor="end" fill="#111" stroke="#111" stroke-width="0.22">40</text>
<line x1="295.30" y1="433.38" x2="298.60" y2="433.38" stroke="#333" stroke-width="0.9"/>
<text x="288.30" y="437.83" font-size="11.6" text-anchor="end" fill="#111" stroke="#111" stroke-width="0.22">20</text>
<text x="288.30" y="451.75" font-size="11.6" text-anchor="end" fill="#111" stroke="#111" stroke-width="0.22">0</text>
<text x="244.90" y="423.88" font-size="11.4" text-anchor="middle" fill="#111" stroke="#111" stroke-width="0.22" transform="rotate(-90 244.90 419.80)">Percentage of</text>
<text x="257.80" y="417.23" font-size="11.25" text-anchor="middle" fill="#111" stroke="#111" stroke-width="0.22" transform="rotate(-90 257.80 413.20)">patient death (%)</text>
<text x="319.70" y="406.35" font-size="11.3" text-anchor="middle" fill="#111" stroke="#111" stroke-width="0.22">65.28</text>
<text x="319.70" y="439.95" font-size="11.3" text-anchor="middle" fill="#111" stroke="#111" stroke-width="0.22">34.72</text>
<text x="372.20" y="406.35" font-size="11.3" text-anchor="middle" fill="#111" stroke="#111" stroke-width="0.22">90.74</text>
<text x="371.60" y="446.35" font-size="11.3" text-anchor="middle" fill="#111" stroke="#111" stroke-width="0.22">9.26</text>
<text x="279.40" y="466.04" font-size="11" text-anchor="start" fill="#111" stroke="#111" stroke-width="0.22">ECD</text>
<text x="311.80" y="466.04" font-size="11" text-anchor="start" fill="#111" stroke="#111" stroke-width="0.22">low</text>
<text x="358.10" y="466.04" font-size="11" text-anchor="start" fill="#111" stroke="#111" stroke-width="0.22">high</text>
<text x="491.60" y="348.37" font-size="15" text-anchor="start" fill="#111" stroke="#111" stroke-width="0.22">G</text>
<text x="586.20" y="356.84" font-size="11" text-anchor="middle" fill="#111" stroke="#111" stroke-width="0.22">p=0.0005</text>
<line x1="539.30" y1="364.50" x2="539.30" y2="447.20" stroke="#2a2a2a" stroke-width="1.2"/>
<line x1="538.70" y1="446.60" x2="638.60" y2="446.60" stroke="#2a2a2a" stroke-width="1.2"/>
<line x1="536.20" y1="365.10" x2="539.30" y2="365.10" stroke="#2a2a2a" stroke-width="1.0"/>
<text x="530.80" y="368.89" font-size="11.7" text-anchor="end" fill="#111" stroke="#111" stroke-width="0.22">1.00</text>
<line x1="536.20" y1="381.40" x2="539.30" y2="381.40" stroke="#2a2a2a" stroke-width="1.0"/>
<text x="530.80" y="385.19" font-size="11.7" text-anchor="end" fill="#111" stroke="#111" stroke-width="0.22">0.80</text>
<line x1="536.20" y1="397.70" x2="539.30" y2="397.70" stroke="#2a2a2a" stroke-width="1.0"/>
<text x="530.80" y="402.19" font-size="11.7" text-anchor="end" fill="#111" stroke="#111" stroke-width="0.22">0.60</text>
<line x1="536.20" y1="414.00" x2="539.30" y2="414.00" stroke="#2a2a2a" stroke-width="1.0"/>
<text x="530.80" y="418.49" font-size="11.7" text-anchor="end" fill="#111" stroke="#111" stroke-width="0.22">0.40</text>
<line x1="536.20" y1="430.30" x2="539.30" y2="430.30" stroke="#2a2a2a" stroke-width="1.0"/>
<text x="530.80" y="434.79" font-size="11.7" text-anchor="end" fill="#111" stroke="#111" stroke-width="0.22">0.20</text>
<line x1="536.20" y1="446.60" x2="539.30" y2="446.60" stroke="#2a2a2a" stroke-width="1.0"/>
<text x="530.80" y="451.09" font-size="11.7" text-anchor="end" fill="#111" stroke="#111" stroke-width="0.22">0.00</text>
<line x1="539.50" y1="445.50" x2="539.50" y2="449.40" stroke="#2a2a2a" stroke-width="1.0"/>
<text x="542.10" y="462.39" font-size="11.7" text-anchor="middle" fill="#111" stroke="#111" stroke-width="0.22">0</text>
<line x1="562.75" y1="445.50" x2="562.75" y2="449.40" stroke="#2a2a2a" stroke-width="1.0"/>
<text x="564.20" y="462.39" font-size="11.7" text-anchor="middle" fill="#111" stroke="#111" stroke-width="0.22">20</text>
<line x1="586.00" y1="445.50" x2="586.00" y2="449.40" stroke="#2a2a2a" stroke-width="1.0"/>
<text x="585.70" y="462.39" font-size="11.7" text-anchor="middle" fill="#111" stroke="#111" stroke-width="0.22">40</text>
<line x1="609.25" y1="445.50" x2="609.25" y2="449.40" stroke="#2a2a2a" stroke-width="1.0"/>
<text x="606.90" y="462.39" font-size="11.7" text-anchor="middle" fill="#111" stroke="#111" stroke-width="0.22">60</text>
<line x1="632.50" y1="445.50" x2="632.50" y2="449.40" stroke="#2a2a2a" stroke-width="1.0"/>
<text x="631.60" y="462.39" font-size="11.7" text-anchor="middle" fill="#111" stroke="#111" stroke-width="0.22">80</text>
<text x="588.50" y="474.42" font-size="11.5" text-anchor="middle" fill="#111" stroke="#111" stroke-width="0.22">months</text>
<text x="496.80" y="411.79" font-size="11.15" text-anchor="middle" fill="#111" stroke="#111" stroke-width="0.22" transform="rotate(-90 496.80 407.80)">Overall survival rate</text>
<path d="M539.5,365.1 H541.6 V365.9 H543.7 V366.6 H544.8 V368.0 H545.8 V369.4 H547.4 V370.5 H549.0 V371.6 H551.8 V372.7 H554.5 V373.8 H556.5 V376.2 H558.4 V378.6 H560.0 V381.6 H561.6 V384.5 H563.2 V387.6 H564.7 V390.8 H566.3 V392.4 H567.9 V394.0 H571.0 V395.8 H574.2 V397.6 H577.4 V399.3 H580.5 V401.0 H583.6 V402.3 H586.8 V403.6 H590.0 V405.1 H593.2 V406.6 H596.4 V407.9 H599.5 V409.2 H602.1 V409.9 H604.7 V410.6 H607.4 V411.3 H610.0 V412.0 H611.0 V413.5 H612.1 V415.0 H613.2 V416.3 H614.2 V417.6 H616.3 V418.2 H618.4 V418.8 H628.4 V418.8 H638.4 V418.8" fill="none" stroke="#e4572e" stroke-width="1.3"/>
<path d="M539.5,365.1 H541.6 V366.6 H543.7 V368.2 H544.8 V370.9 H545.8 V373.5 H546.8 V376.2 H547.9 V379.0 H549.0 V381.6 H550.0 V384.2 H551.6 V387.2 H553.2 V390.2 H554.8 V392.4 H556.3 V394.5 H557.9 V396.6 H559.5 V398.8 H561.0 V402.1 H562.6 V405.5 H564.2 V408.9 H565.8 V412.4 H567.9 V413.8 H570.0 V415.2 H572.1 V416.1 H574.2 V417.1 H578.4 V417.6 H582.6 V418.2 H586.9 V419.0 H591.1 V419.8 H593.2 V421.7 H595.3 V423.6 H598.5 V425.1 H601.6 V426.6 H605.2 V427.9 H608.9 V429.2 H612.6 V430.2 H616.3 V431.2 H618.4 V431.9 H620.5 V432.6 H623.6 V433.0 H626.8 V433.4 H632.6 V433.6 H638.4 V433.9" fill="none" stroke="#3b4fb5" stroke-width="1.3"/>
<text x="608.00" y="385.91" font-size="11.2" text-anchor="middle" fill="#e4572e" stroke="#e4572e" stroke-width="0.22">ECD low</text>
<text x="613.00" y="403.92" font-size="11.5" text-anchor="middle" fill="#111" stroke="#111" stroke-width="0.22">(n=73)</text>
<text x="569.00" y="428.21" font-size="11.2" text-anchor="middle" fill="#3b4fb5" stroke="#3b4fb5" stroke-width="0.22">ECD high</text>
<text x="570.40" y="443.32" font-size="11.5" text-anchor="middle" fill="#111" stroke="#111" stroke-width="0.22">(n=113)</text>
<text x="2.30" y="195.03" font-size="15.3" text-anchor="start" fill="#111" stroke="#111" stroke-width="0.22">C</text>
<text x="94.30" y="201.94" font-size="11" text-anchor="middle" fill="#111" stroke="#111" stroke-width="0.22">Case#1</text>
<text x="269.60" y="201.94" font-size="11" text-anchor="middle" fill="#111" stroke="#111" stroke-width="0.22">Case#2</text>
<line x1="16.00" y1="210.50" x2="174.00" y2="210.50" stroke="#4a4a4a" stroke-width="1.4"/>
<line x1="190.30" y1="210.50" x2="349.20" y2="210.50" stroke="#4a4a4a" stroke-width="1.4"/>
<text x="45.80" y="290.74" font-size="11" text-anchor="middle" fill="#111" stroke="#111" stroke-width="0.22">N</text>
<text x="132.60" y="290.74" font-size="11" text-anchor="middle" fill="#111" stroke="#111" stroke-width="0.22">T</text>
<text x="221.60" y="290.74" font-size="11" text-anchor="middle" fill="#111" stroke="#111" stroke-width="0.22">N</text>
<text x="311.00" y="290.74" font-size="11" text-anchor="middle" fill="#111" stroke="#111" stroke-width="0.22">T</text>
<filter id="warp" x="-5%" y="-5%" width="110%" height="110%">
<feTurbulence type="fractalNoise" baseFrequency="0.07" numOctaves="2" seed="3" result="n"/>
<feDisplacementMap in="SourceGraphic" in2="n" scale="7" xChannelSelector="R" yChannelSelector="G"/>
<feGaussianBlur stdDeviation="0.7"/></filter>
<filter id="warp2" x="-5%" y="-5%" width="110%" height="110%">
<feTurbulence type="fractalNoise" baseFrequency="0.09" numOctaves="2" seed="11" result="n"/>
<feDisplacementMap in="SourceGraphic" in2="n" scale="4.5" xChannelSelector="R" yChannelSelector="G"/>
<feGaussianBlur stdDeviation="0.6"/></filter>
<filter id="gran" color-interpolation-filters="sRGB" x="0" y="0" width="100%" height="100%">
<feTurbulence type="fractalNoise" baseFrequency="0.42" numOctaves="2" seed="9" result="t"/>
<feColorMatrix in="t" type="matrix" values="0 0 0 0 0.63  0 0 0 0 0.39  0 0 0 0 0.33  0 0 0 8 -4.1" result="sp"/>
<feGaussianBlur in="sp" stdDeviation="0.42" result="spb"/>
<feComposite in="spb" in2="SourceGraphic" operator="in" result="spc"/>
<feMerge><feMergeNode in="SourceGraphic"/><feMergeNode in="spc"/></feMerge></filter>
<filter id="gran2" color-interpolation-filters="sRGB" x="0" y="0" width="100%" height="100%">
<feTurbulence type="fractalNoise" baseFrequency="0.4" numOctaves="2" seed="15" result="t"/>
<feColorMatrix in="t" type="matrix" values="0 0 0 0 0.58  0 0 0 0 0.29  0 0 0 0 0.23  0 0 0 9 -3.75" result="sp"/>
<feGaussianBlur in="sp" stdDeviation="0.32" result="spb"/>
<feComposite in="spb" in2="SourceGraphic" operator="in" result="spc"/>
<feMerge><feMergeNode in="SourceGraphic"/><feMergeNode in="spc"/></feMerge></filter>
<filter id="dotblur" x="-5%" y="-5%" width="110%" height="110%"><feGaussianBlur stdDeviation="0.3"/></filter>
<filter id="mottL" color-interpolation-filters="sRGB" x="0" y="0" width="100%" height="100%"><feTurbulence type="fractalNoise" baseFrequency="0.24" numOctaves="2" seed="4"/>
<feColorMatrix type="matrix" values="0 0 0 0 0.96  0 0 0 0 0.92  0 0 0 0 0.90  0 0 0 3.6 -1.6"/><feGaussianBlur stdDeviation="0.35"/></filter>
<filter id="mottD" color-interpolation-filters="sRGB" x="0" y="0" width="100%" height="100%"><feTurbulence type="fractalNoise" baseFrequency="0.3" numOctaves="2" seed="9"/>
<feColorMatrix type="matrix" values="0 0 0 0 0.66  0 0 0 0 0.30  0 0 0 0 0.22  0 0 0 3.6 -1.6"/><feGaussianBlur stdDeviation="0.35"/></filter>
<filter id="mottB" color-interpolation-filters="sRGB" x="0" y="0" width="100%" height="100%"><feTurbulence type="fractalNoise" baseFrequency="0.38" numOctaves="1" seed="21"/>
<feColorMatrix type="matrix" values="0 0 0 0 0.42  0 0 0 0 0.44  0 0 0 0 0.68  0 0 0 6.0 -3.5"/><feGaussianBlur stdDeviation="0.3"/></filter>
<clipPath id="ci1"><rect x="4.3" y="216" width="86.10000000000001" height="59.7"/></clipPath>
<g clip-path="url(#ci1)">
<rect x="2.30" y="214.00" width="90.10" height="63.70" fill="#e9e3e1" stroke="none" stroke-width="1"/>
<g filter="url(#gran)"><g filter="url(#warp)">
<ellipse cx="12.2" cy="226.9" rx="9.3" ry="8.8" fill="#d8ac9c" opacity="0.95" transform="rotate(7 12.2 226.9)"/>
<ellipse cx="12.0" cy="227.1" rx="5.4" ry="5.0" fill="#e4c5b8" opacity="0.95" transform="rotate(7 12.0 227.1)"/>
<ellipse cx="27.0" cy="222.3" rx="7.9" ry="7.0" fill="#d8ac9c" opacity="0.95" transform="rotate(9 27.0 222.3)"/>
<ellipse cx="26.5" cy="222.2" rx="4.5" ry="4.0" fill="#e7cbbe" opacity="0.95" transform="rotate(9 26.5 222.2)"/>
<ellipse cx="41.1" cy="227.7" rx="8.8" ry="8.8" fill="#dcb2a2" opacity="0.95" transform="rotate(9 41.1 227.7)"/>
<ellipse cx="40.6" cy="227.6" rx="5.0" ry="5.0" fill="#e7cbbe" opacity="0.95" transform="rotate(9 40.6 227.6)"/>
<ellipse cx="56.8" cy="224.2" rx="9.3" ry="8.2" fill="#dcb2a2" opacity="0.95" transform="rotate(-7 56.8 224.2)"/>
<ellipse cx="56.8" cy="223.6" rx="5.4" ry="4.7" fill="#e7cbbe" opacity="0.95" transform="rotate(-7 56.8 223.6)"/>
<ellipse cx="56.6" cy="223.2" rx="2.8" ry="1.7" fill="#efe4de" opacity="0.95" transform="rotate(-7 56.6 223.2)"/>
<ellipse cx="72.4" cy="225.0" rx="8.8" ry="8.2" fill="#dfb8a8" opacity="0.95" transform="rotate(-19 72.4 225.0)"/>
<ellipse cx="72.0" cy="225.3" rx="5.0" ry="4.7" fill="#e7cbbe" opacity="0.95" transform="rotate(-19 72.0 225.3)"/>
<ellipse cx="85.9" cy="228.8" rx="6.4" ry="8.8" fill="#dfb8a8" opacity="0.95" transform="rotate(7 85.9 228.8)"/>
<ellipse cx="85.5" cy="228.2" rx="3.7" ry="5.0" fill="#e7cbbe" opacity="0.95" transform="rotate(7 85.5 228.2)"/>
<ellipse cx="11.4" cy="245.0" rx="8.8" ry="8.2" fill="#dcb2a2" opacity="0.95" transform="rotate(-17 11.4 245.0)"/>
<ellipse cx="11.9" cy="244.6" rx="5.0" ry="4.7" fill="#e7cbbe" opacity="0.95" transform="rotate(-17 11.9 244.6)"/>
<ellipse cx="27.0" cy="241.2" rx="10.5" ry="7.6" fill="#dcb2a2" opacity="0.95" transform="rotate(-13 27.0 241.2)"/>
<ellipse cx="27.1" cy="241.4" rx="6.0" ry="4.4" fill="#e7cbbe" opacity="0.95" transform="rotate(-13 27.1 241.4)"/>
<ellipse cx="26.4" cy="240.2" rx="3.1" ry="1.5" fill="#efe4de" opacity="0.95" transform="rotate(-13 26.4 240.2)"/>
<ellipse cx="44.6" cy="245.0" rx="9.3" ry="8.8" fill="#dcb2a2" opacity="0.95" transform="rotate(28 44.6 245.0)"/>
<ellipse cx="45.2" cy="245.4" rx="5.4" ry="5.0" fill="#eacfc4" opacity="0.95" transform="rotate(28 45.2 245.4)"/>
<ellipse cx="67.6" cy="243.9" rx="9.3" ry="12.3" fill="#dfb8a8" opacity="0.95" transform="rotate(-29 67.6 243.9)"/>
<ellipse cx="67.2" cy="243.5" rx="5.4" ry="7.0" fill="#e7cbbe" opacity="0.95" transform="rotate(-29 67.2 243.5)"/>
<ellipse cx="67.2" cy="242.9" rx="2.8" ry="2.5" fill="#efe4de" opacity="0.95" transform="rotate(-29 67.2 242.9)"/>
<ellipse cx="82.4" cy="245.0" rx="7.0" ry="8.2" fill="#d8ac9c" opacity="0.95" transform="rotate(19 82.4 245.0)"/>
<ellipse cx="81.8" cy="245.2" rx="4.0" ry="4.7" fill="#eacfc4" opacity="0.95" transform="rotate(19 81.8 245.2)"/>
<ellipse cx="10.3" cy="262.8" rx="8.8" ry="8.8" fill="#dfb8a8" opacity="0.95" transform="rotate(-26 10.3 262.8)"/>
<ellipse cx="10.7" cy="262.8" rx="5.0" ry="5.0" fill="#eacfc4" opacity="0.95" transform="rotate(-26 10.7 262.8)"/>
<ellipse cx="27.0" cy="259.3" rx="9.3" ry="8.8" fill="#dfb8a8" opacity="0.95" transform="rotate(-19 27.0 259.3)"/>
<ellipse cx="27.3" cy="258.8" rx="5.4" ry="5.0" fill="#e7cbbe" opacity="0.95" transform="rotate(-19 27.3 258.8)"/>
<ellipse cx="43.2" cy="263.9" rx="10.5" ry="8.8" fill="#dfb8a8" opacity="0.95" transform="rotate(27 43.2 263.9)"/>
<ellipse cx="43.7" cy="263.3" rx="6.0" ry="5.0" fill="#eacfc4" opacity="0.95" transform="rotate(27 43.7 263.3)"/>
<ellipse cx="58.1" cy="261.2" rx="7.0" ry="7.0" fill="#d8ac9c" opacity="0.95" transform="rotate(-8 58.1 261.2)"/>
<ellipse cx="58.5" cy="261.1" rx="4.0" ry="4.0" fill="#e4c5b8" opacity="0.95" transform="rotate(-8 58.5 261.1)"/>
<ellipse cx="58.1" cy="261.2" rx="2.7" ry="2.7" fill="#efe4de" opacity="0.95" transform="rotate(-8 58.1 261.2)"/>
<ellipse cx="81.1" cy="262.3" rx="6.4" ry="6.4" fill="#dcb2a2" opacity="0.95" transform="rotate(-19 81.1 262.3)"/>
<ellipse cx="80.6" cy="262.0" rx="3.7" ry="3.7" fill="#eacfc4" opacity="0.95" transform="rotate(-19 80.6 262.0)"/>
<ellipse cx="81.1" cy="262.3" rx="4.0" ry="4.0" fill="#f1e9e5" opacity="0.98" transform="rotate(-19 81.1 262.3)"/>
<ellipse cx="70.8" cy="270.9" rx="7.6" ry="6.4" fill="#dfb8a8" opacity="0.95" transform="rotate(-9 70.8 270.9)"/>
<ellipse cx="71.3" cy="270.6" rx="4.4" ry="3.7" fill="#eacfc4" opacity="0.95" transform="rotate(-9 71.3 270.6)"/>
<ellipse cx="22.2" cy="273.6" rx="9.3" ry="7.0" fill="#d8ac9c" opacity="0.95" transform="rotate(-24 22.2 273.6)"/>
<ellipse cx="22.5" cy="273.5" rx="5.4" ry="4.0" fill="#eacfc4" opacity="0.95" transform="rotate(-24 22.5 273.5)"/>
<ellipse cx="54.1" cy="274.7" rx="8.8" ry="5.3" fill="#dcb2a2" opacity="0.95" transform="rotate(-28 54.1 274.7)"/>
<ellipse cx="53.7" cy="274.7" rx="5.0" ry="3.0" fill="#eacfc4" opacity="0.95" transform="rotate(-28 53.7 274.7)"/>
<ellipse cx="87.8" cy="272.8" rx="5.3" ry="7.0" fill="#dfb8a8" opacity="0.95" transform="rotate(25 87.8 272.8)"/>
<ellipse cx="87.6" cy="273.1" rx="3.0" ry="4.0" fill="#e7cbbe" opacity="0.95" transform="rotate(25 87.6 273.1)"/>
<ellipse cx="2.7" cy="235.0" rx="4.1" ry="8.8" fill="#dfb8a8" opacity="0.95" transform="rotate(-11 2.7 235.0)"/>
<ellipse cx="2.5" cy="235.3" rx="2.3" ry="5.0" fill="#e4c5b8" opacity="0.95" transform="rotate(-11 2.5 235.3)"/>
</g></g>
<rect x="4.3" y="216" width="86.10000000000001" height="59.7" filter="url(#mottL)" opacity="0.6"/>
<g fill="#7b82b0" opacity="0.7" filter="url(#dotblur)"><circle cx="17.1" cy="257.1" r="0.65"/><circle cx="18.2" cy="218.9" r="0.65"/><circle cx="50.2" cy="240.2" r="0.42"/><circle cx="55.4" cy="265.3" r="0.49"/><circle cx="40.6" cy="219.3" r="0.62"/><circle cx="7.1" cy="245.5" r="0.60"/><circle cx="15.5" cy="259.7" r="0.63"/><circle cx="58.6" cy="263.0" r="0.38"/><circle cx="41.7" cy="224.9" r="0.60"/><circle cx="29.7" cy="243.1" r="0.65"/><circle cx="77.7" cy="274.3" r="0.49"/><circle cx="46.3" cy="259.6" r="0.49"/><circle cx="29.4" cy="240.1" r="0.39"/><circle cx="36.8" cy="275.0" r="0.64"/><circle cx="58.3" cy="245.8" r="0.45"/><circle cx="12.0" cy="232.3" r="0.58"/><circle cx="79.0" cy="237.6" r="0.59"/><circle cx="71.0" cy="257.5" r="0.55"/><circle cx="69.7" cy="237.7" r="0.56"/><circle cx="28.5" cy="245.0" r="0.58"/><circle cx="63.8" cy="233.5" r="0.63"/><circle cx="60.2" cy="250.7" r="0.35"/><circle cx="51.4" cy="231.0" r="0.55"/><circle cx="44.2" cy="264.8" r="0.54"/><circle cx="73.0" cy="236.8" r="0.54"/><circle cx="67.8" cy="265.4" r="0.46"/><circle cx="76.9" cy="267.9" r="0.56"/><circle cx="88.3" cy="273.1" r="0.51"/><circle cx="49.9" cy="225.9" r="0.60"/><circle cx="85.0" cy="244.5" r="0.56"/><circle cx="66.3" cy="259.6" r="0.40"/><circle cx="71.5" cy="250.7" r="0.55"/><circle cx="40.5" cy="253.2" r="0.58"/><circle cx="59.1" cy="259.0" r="0.36"/><circle cx="18.1" cy="242.3" r="0.55"/><circle cx="23.2" cy="257.0" r="0.54"/><circle cx="7.9" cy="244.2" r="0.42"/><circle cx="9.0" cy="224.0" r="0.45"/><circle cx="19.9" cy="227.5" r="0.36"/><circle cx="44.4" cy="238.7" r="0.53"/><circle cx="55.1" cy="230.2" r="0.62"/><circle cx="4.4" cy="240.2" r="0.43"/><circle cx="39.6" cy="222.9" r="0.60"/><circle cx="36.5" cy="218.2" r="0.53"/><circle cx="12.5" cy="248.5" r="0.45"/><circle cx="54.3" cy="273.2" r="0.60"/><circle cx="40.4" cy="264.5" r="0.54"/><circle cx="36.1" cy="224.5" r="0.53"/><circle cx="52.8" cy="273.1" r="0.64"/><circle cx="56.7" cy="237.0" r="0.62"/><circle cx="4.4" cy="222.4" r="0.52"/><circle cx="57.3" cy="224.4" r="0.54"/><circle cx="81.0" cy="238.4" r="0.48"/><circle cx="23.8" cy="233.4" r="0.64"/><circle cx="37.0" cy="273.4" r="0.62"/><circle cx="55.6" cy="231.5" r="0.64"/><circle cx="47.0" cy="240.8" r="0.45"/><circle cx="89.0" cy="245.4" r="0.44"/><circle cx="45.4" cy="223.3" r="0.54"/><circle cx="42.5" cy="233.5" r="0.58"/><circle cx="75.5" cy="216.8" r="0.51"/><circle cx="27.9" cy="271.8" r="0.58"/><circle cx="25.5" cy="232.0" r="0.40"/><circle cx="89.4" cy="233.5" r="0.53"/><circle cx="45.2" cy="254.5" r="0.53"/><circle cx="68.3" cy="223.1" r="0.58"/><circle cx="30.2" cy="247.8" r="0.45"/><circle cx="29.9" cy="247.6" r="0.49"/><circle cx="35.4" cy="260.5" r="0.53"/><circle cx="7.4" cy="231.1" r="0.49"/><circle cx="83.2" cy="269.0" r="0.51"/><circle cx="5.6" cy="262.5" r="0.48"/><circle cx="53.9" cy="258.3" r="0.54"/><circle cx="45.8" cy="270.4" r="0.47"/><circle cx="38.0" cy="266.9" r="0.41"/><circle cx="29.8" cy="265.6" r="0.37"/><circle cx="76.3" cy="257.5" r="0.48"/><circle cx="29.0" cy="262.6" r="0.62"/><circle cx="16.6" cy="244.6" r="0.51"/><circle cx="47.2" cy="235.7" r="0.40"/><circle cx="54.7" cy="264.5" r="0.37"/><circle cx="24.1" cy="264.9" r="0.59"/><circle cx="61.4" cy="217.5" r="0.57"/><circle cx="88.6" cy="275.6" r="0.56"/><circle cx="8.5" cy="266.3" r="0.42"/><circle cx="59.9" cy="272.8" r="0.56"/><circle cx="15.9" cy="233.5" r="0.63"/><circle cx="17.2" cy="252.5" r="0.47"/><circle cx="18.2" cy="253.2" r="0.36"/><circle cx="13.6" cy="238.6" r="0.37"/><circle cx="9.3" cy="250.3" r="0.57"/><circle cx="79.9" cy="224.0" r="0.48"/><circle cx="31.4" cy="251.8" r="0.50"/><circle cx="85.1" cy="238.3" r="0.37"/><circle cx="64.3" cy="225.0" r="0.54"/><circle cx="47.9" cy="270.4" r="0.52"/><circle cx="57.8" cy="231.7" r="0.52"/><circle cx="26.2" cy="260.8" r="0.51"/><circle cx="15.8" cy="230.0" r="0.46"/><circle cx="67.7" cy="226.7" r="0.56"/><circle cx="60.7" cy="221.1" r="0.55"/><circle cx="12.2" cy="223.5" r="0.53"/><circle cx="24.8" cy="268.4" r="0.49"/><circle cx="32.1" cy="263.5" r="0.36"/><circle cx="66.7" cy="219.2" r="0.40"/><circle cx="86.3" cy="256.7" r="0.42"/><circle cx="14.3" cy="274.1" r="0.55"/><circle cx="75.0" cy="224.3" r="0.54"/><circle cx="34.8" cy="230.0" r="0.45"/><circle cx="57.1" cy="236.8" r="0.47"/><circle cx="16.0" cy="265.6" r="0.54"/><circle cx="73.6" cy="241.9" r="0.61"/><circle cx="48.9" cy="251.4" r="0.52"/><circle cx="68.0" cy="239.6" r="0.38"/><circle cx="7.2" cy="228.1" r="0.36"/><circle cx="80.9" cy="244.7" r="0.58"/><circle cx="4.3" cy="244.1" r="0.62"/><circle cx="57.6" cy="241.6" r="0.49"/><circle cx="12.9" cy="225.2" r="0.40"/><circle cx="36.6" cy="239.0" r="0.61"/></g>
</g>
<clipPath id="ci2"><rect x="93.1" y="216" width="86.30000000000001" height="59.7"/></clipPath>
<g clip-path="url(#ci2)">
<rect x="91.10" y="214.00" width="90.30" height="63.70" fill="#e8e4e3" stroke="none" stroke-width="1"/>
<g filter="url(#gran2)"><g filter="url(#warp2)">
<ellipse cx="110.0" cy="219.9" rx="7.1" ry="4.9" fill="#ca9383" opacity="0.95" transform="rotate(0 110.0 219.9)"/>
<ellipse cx="122.2" cy="222.7" rx="5.9" ry="5.6" fill="#ca9383" opacity="0.95" transform="rotate(20 122.2 222.7)"/>
<ellipse cx="137.9" cy="221.3" rx="8.5" ry="6.5" fill="#c68d7d" opacity="0.95" transform="rotate(-10 137.9 221.3)"/>
<ellipse cx="154.4" cy="222.0" rx="7.0" ry="4.9" fill="#c68d7d" opacity="0.95" transform="rotate(10 154.4 222.0)"/>
<ellipse cx="173.7" cy="223.4" rx="5.9" ry="7.0" fill="#c68d7d" opacity="0.95" transform="rotate(0 173.7 223.4)"/>
<ellipse cx="112.2" cy="232.7" rx="8.5" ry="5.6" fill="#c68d7d" opacity="0.95" transform="rotate(-15 112.2 232.7)"/>
<ellipse cx="127.9" cy="235.6" rx="7.7" ry="6.2" fill="#ca9383" opacity="0.95" transform="rotate(-20 127.9 235.6)"/>
<ellipse cx="142.9" cy="237.0" rx="5.6" ry="7.1" fill="#ca9383" opacity="0.95" transform="rotate(10 142.9 237.0)"/>
<ellipse cx="104.3" cy="246.3" rx="6.5" ry="4.6" fill="#c08777" opacity="0.95" transform="rotate(10 104.3 246.3)"/>
<ellipse cx="100.7" cy="259.2" rx="8.0" ry="6.8" fill="#c08777" opacity="0.95" transform="rotate(0 100.7 259.2)"/>
<ellipse cx="125.8" cy="253.5" rx="8.5" ry="5.6" fill="#c68d7d" opacity="0.95" transform="rotate(-10 125.8 253.5)"/>
<ellipse cx="125.8" cy="265.6" rx="10.0" ry="7.7" fill="#c68d7d" opacity="0.95" transform="rotate(0 125.8 265.6)"/>
<ellipse cx="118.6" cy="272.8" rx="9.0" ry="4.6" fill="#c08777" opacity="0.95" transform="rotate(0 118.6 272.8)"/>
<ellipse cx="137.9" cy="267.1" rx="4.9" ry="4.9" fill="#c08777" opacity="0.95" transform="rotate(0 137.9 267.1)"/>
<ellipse cx="154.4" cy="269.9" rx="11.6" ry="5.6" fill="#c08777" opacity="0.95" transform="rotate(5 154.4 269.9)"/>
<ellipse cx="95.7" cy="230.6" rx="2.8" ry="8.0" fill="#c08777" opacity="0.95" transform="rotate(10 95.7 230.6)"/>
<ellipse cx="177.3" cy="247.8" rx="2.8" ry="11.6" fill="#c68d7d" opacity="0.95" transform="rotate(0 177.3 247.8)"/>
<ellipse cx="174.4" cy="272.1" rx="6.2" ry="3.9" fill="#ca9383" opacity="0.95" transform="rotate(0 174.4 272.1)"/>
<ellipse cx="155.1" cy="238.5" rx="4.0" ry="7.2" fill="#c98876" opacity="0.9" transform="rotate(5 155.1 238.5)"/>
<ellipse cx="167.3" cy="246.3" rx="5.4" ry="6.9" fill="#c98876" opacity="0.9" transform="rotate(-10 167.3 246.3)"/>
<ellipse cx="112.2" cy="257.8" rx="3.4" ry="3.4" fill="#c98876" opacity="0.9" transform="rotate(0 112.2 257.8)"/>
<ellipse cx="135.8" cy="242.8" rx="3.6" ry="3.4" fill="#c98876" opacity="0.9" transform="rotate(0 135.8 242.8)"/>
<path d="M146.5,255.6 Q161.5,254.9 180.8,267.8" stroke="#c68d7d" stroke-width="6.2" fill="none" opacity="0.95"/>
<path d="M151.5,258.5 Q163.0,258.5 178.7,269.2" stroke="#f2e6e0" stroke-width="1.5" fill="none" opacity="0.9"/>
</g></g>
<g filter="url(#warp2)">
<ellipse cx="110.0" cy="219.9" rx="3.5" ry="2.4" fill="#f2e6e0" opacity="1" transform="rotate(0 110.0 219.9)"/>
<ellipse cx="122.2" cy="222.7" rx="2.7" ry="2.6" fill="#f2e6e0" opacity="1" transform="rotate(20 122.2 222.7)"/>
<ellipse cx="137.9" cy="221.3" rx="4.3" ry="3.3" fill="#f2e6e0" opacity="1" transform="rotate(-10 137.9 221.3)"/>
<ellipse cx="154.4" cy="222.0" rx="3.4" ry="2.4" fill="#f2e6e0" opacity="1" transform="rotate(10 154.4 222.0)"/>
<ellipse cx="173.7" cy="223.4" rx="3.0" ry="3.5" fill="#f2e6e0" opacity="1" transform="rotate(0 173.7 223.4)"/>
<ellipse cx="112.2" cy="232.7" rx="4.2" ry="2.7" fill="#f2e6e0" opacity="1" transform="rotate(-15 112.2 232.7)"/>
<ellipse cx="127.9" cy="235.6" rx="3.4" ry="2.7" fill="#f2e6e0" opacity="1" transform="rotate(-20 127.9 235.6)"/>
<ellipse cx="142.9" cy="237.0" rx="2.7" ry="3.5" fill="#f2e6e0" opacity="1" transform="rotate(10 142.9 237.0)"/>
<ellipse cx="104.3" cy="246.3" rx="3.3" ry="2.4" fill="#f2e6e0" opacity="1" transform="rotate(10 104.3 246.3)"/>
<ellipse cx="100.7" cy="259.2" rx="4.1" ry="3.5" fill="#f2e6e0" opacity="1" transform="rotate(0 100.7 259.2)"/>
<ellipse cx="125.8" cy="253.5" rx="3.3" ry="2.1" fill="#f2e6e0" opacity="1" transform="rotate(-10 125.8 253.5)"/>
<ellipse cx="125.8" cy="265.6" rx="3.5" ry="2.7" fill="#f2e6e0" opacity="1" transform="rotate(0 125.8 265.6)"/>
<ellipse cx="118.6" cy="272.8" rx="3.1" ry="1.6" fill="#f2e6e0" opacity="1" transform="rotate(0 118.6 272.8)"/>
<ellipse cx="137.9" cy="267.1" rx="2.5" ry="2.5" fill="#f2e6e0" opacity="1" transform="rotate(0 137.9 267.1)"/>
<ellipse cx="154.4" cy="269.9" rx="4.0" ry="1.9" fill="#f2e6e0" opacity="1" transform="rotate(5 154.4 269.9)"/>
<ellipse cx="95.7" cy="230.6" rx="0.7" ry="2.1" fill="#f2e6e0" opacity="1" transform="rotate(10 95.7 230.6)"/>
<ellipse cx="177.3" cy="247.8" rx="0.7" ry="3.0" fill="#f2e6e0" opacity="1" transform="rotate(0 177.3 247.8)"/>
<ellipse cx="174.4" cy="272.1" rx="1.6" ry="1.0" fill="#f2e6e0" opacity="1" transform="rotate(0 174.4 272.1)"/>
<ellipse cx="155.1" cy="238.5" rx="2.7" ry="4.9" fill="#efe8e5" opacity="1" transform="rotate(5 155.1 238.5)"/>
<ellipse cx="167.3" cy="246.3" rx="3.7" ry="4.7" fill="#efe8e5" opacity="1" transform="rotate(-10 167.3 246.3)"/>
<ellipse cx="112.2" cy="257.8" rx="2.3" ry="2.3" fill="#efe8e5" opacity="1" transform="rotate(0 112.2 257.8)"/>
<ellipse cx="135.8" cy="242.8" rx="2.4" ry="2.3" fill="#efe8e5" opacity="1" transform="rotate(0 135.8 242.8)"/>
<path d="M151.5,258.5 Q163.0,258.5 178.7,269.2" stroke="#f2e6e0" stroke-width="1.5" fill="none" opacity="0.9"/>
</g>
<rect x="93.1" y="216" width="86.30000000000001" height="59.7" filter="url(#mottL)" opacity="0.4"/>
<g fill="#7a84b2" opacity="0.75" filter="url(#dotblur)"><circle cx="106.2" cy="231.2" r="0.45"/><circle cx="107.0" cy="233.1" r="0.44"/><circle cx="134.7" cy="217.9" r="0.65"/><circle cx="124.9" cy="272.0" r="0.58"/><circle cx="151.3" cy="244.2" r="0.66"/><circle cx="103.3" cy="255.9" r="0.45"/><circle cx="151.3" cy="259.5" r="0.41"/><circle cx="110.4" cy="217.5" r="0.44"/><circle cx="99.8" cy="239.9" r="0.67"/><circle cx="124.5" cy="234.6" r="0.51"/><circle cx="117.5" cy="259.7" r="0.59"/><circle cx="107.2" cy="230.4" r="0.57"/><circle cx="174.3" cy="254.6" r="0.50"/><circle cx="177.3" cy="216.4" r="0.38"/><circle cx="160.4" cy="240.5" r="0.38"/><circle cx="140.4" cy="275.1" r="0.53"/><circle cx="123.3" cy="221.6" r="0.39"/><circle cx="170.7" cy="245.3" r="0.66"/><circle cx="97.7" cy="230.5" r="0.38"/><circle cx="127.4" cy="219.6" r="0.44"/><circle cx="128.3" cy="234.3" r="0.38"/><circle cx="96.3" cy="274.0" r="0.42"/><circle cx="137.0" cy="240.0" r="0.53"/><circle cx="100.4" cy="234.7" r="0.40"/><circle cx="139.9" cy="271.0" r="0.55"/><circle cx="167.0" cy="228.8" r="0.37"/><circle cx="139.7" cy="245.0" r="0.54"/><circle cx="125.6" cy="253.3" r="0.59"/><circle cx="171.9" cy="234.4" r="0.50"/><circle cx="164.4" cy="229.4" r="0.40"/><circle cx="120.0" cy="221.2" r="0.60"/><circle cx="163.8" cy="234.7" r="0.40"/><circle cx="100.2" cy="230.6" r="0.39"/><circle cx="130.1" cy="250.4" r="0.44"/><circle cx="98.4" cy="257.8" r="0.38"/><circle cx="110.3" cy="233.1" r="0.48"/><circle cx="101.6" cy="241.1" r="0.46"/><circle cx="158.0" cy="249.2" r="0.64"/><circle cx="149.5" cy="261.4" r="0.54"/><circle cx="131.3" cy="264.8" r="0.57"/><circle cx="175.5" cy="259.5" r="0.58"/><circle cx="116.2" cy="264.5" r="0.48"/><circle cx="104.3" cy="219.9" r="0.42"/><circle cx="115.8" cy="256.4" r="0.45"/><circle cx="98.6" cy="261.6" r="0.54"/><circle cx="95.5" cy="219.0" r="0.40"/><circle cx="123.9" cy="267.3" r="0.66"/><circle cx="145.9" cy="229.8" r="0.50"/><circle cx="124.4" cy="235.7" r="0.37"/><circle cx="143.5" cy="265.4" r="0.59"/><circle cx="101.3" cy="247.7" r="0.42"/><circle cx="154.3" cy="242.6" r="0.66"/><circle cx="161.7" cy="223.1" r="0.46"/><circle cx="172.1" cy="243.5" r="0.50"/><circle cx="131.2" cy="261.8" r="0.66"/><circle cx="139.1" cy="273.9" r="0.55"/><circle cx="102.0" cy="264.6" r="0.49"/><circle cx="97.6" cy="274.4" r="0.37"/><circle cx="142.9" cy="244.8" r="0.64"/><circle cx="127.0" cy="228.9" r="0.45"/><circle cx="110.5" cy="249.6" r="0.48"/><circle cx="157.9" cy="230.4" r="0.47"/><circle cx="114.5" cy="274.7" r="0.63"/><circle cx="166.4" cy="252.9" r="0.49"/><circle cx="105.4" cy="265.7" r="0.52"/><circle cx="96.4" cy="226.1" r="0.39"/><circle cx="155.0" cy="269.7" r="0.43"/><circle cx="161.9" cy="235.3" r="0.58"/><circle cx="167.6" cy="253.2" r="0.61"/><circle cx="125.6" cy="216.6" r="0.52"/><circle cx="143.7" cy="227.0" r="0.49"/><circle cx="120.5" cy="217.6" r="0.46"/><circle cx="126.1" cy="244.4" r="0.58"/><circle cx="127.5" cy="274.6" r="0.62"/><circle cx="172.8" cy="257.4" r="0.57"/><circle cx="139.4" cy="263.7" r="0.48"/><circle cx="144.3" cy="256.6" r="0.53"/><circle cx="117.6" cy="220.6" r="0.39"/><circle cx="123.8" cy="250.6" r="0.60"/><circle cx="154.8" cy="234.3" r="0.65"/><circle cx="116.8" cy="258.7" r="0.39"/><circle cx="158.1" cy="256.0" r="0.66"/><circle cx="170.5" cy="257.1" r="0.63"/><circle cx="156.8" cy="252.5" r="0.43"/><circle cx="137.7" cy="269.5" r="0.44"/><circle cx="177.2" cy="248.5" r="0.49"/><circle cx="93.4" cy="239.3" r="0.42"/><circle cx="149.5" cy="269.7" r="0.65"/><circle cx="146.0" cy="239.1" r="0.40"/><circle cx="152.5" cy="249.0" r="0.59"/><circle cx="125.4" cy="268.9" r="0.43"/><circle cx="119.5" cy="232.0" r="0.56"/><circle cx="170.5" cy="226.0" r="0.56"/><circle cx="159.2" cy="229.4" r="0.38"/><circle cx="141.9" cy="265.6" r="0.64"/><circle cx="155.9" cy="240.9" r="0.50"/><circle cx="138.7" cy="270.0" r="0.46"/><circle cx="117.3" cy="252.1" r="0.67"/><circle cx="109.3" cy="217.8" r="0.40"/><circle cx="141.7" cy="252.0" r="0.42"/><circle cx="109.5" cy="251.5" r="0.57"/><circle cx="152.7" cy="259.5" r="0.38"/><circle cx="134.9" cy="265.8" r="0.66"/><circle cx="120.6" cy="266.8" r="0.57"/><circle cx="173.1" cy="229.7" r="0.58"/><circle cx="165.7" cy="244.5" r="0.40"/><circle cx="109.8" cy="225.4" r="0.39"/><circle cx="106.2" cy="252.8" r="0.40"/><circle cx="158.5" cy="260.0" r="0.62"/><circle cx="162.5" cy="258.6" r="0.65"/><circle cx="175.7" cy="253.3" r="0.67"/><circle cx="102.0" cy="222.1" r="0.38"/><circle cx="110.9" cy="238.4" r="0.51"/><circle cx="151.8" cy="260.4" r="0.39"/><circle cx="127.9" cy="248.4" r="0.48"/><circle cx="103.2" cy="251.6" r="0.48"/><circle cx="152.1" cy="245.6" r="0.66"/><circle cx="174.7" cy="220.3" r="0.60"/><circle cx="155.3" cy="233.7" r="0.40"/><circle cx="134.4" cy="237.1" r="0.59"/><circle cx="172.4" cy="238.8" r="0.45"/><circle cx="136.1" cy="257.6" r="0.61"/><circle cx="142.8" cy="233.7" r="0.47"/><circle cx="166.3" cy="247.0" r="0.38"/><circle cx="129.4" cy="230.2" r="0.57"/><circle cx="99.4" cy="232.2" r="0.39"/><circle cx="134.3" cy="274.8" r="0.53"/><circle cx="126.4" cy="271.8" r="0.39"/><circle cx="123.8" cy="264.4" r="0.37"/><circle cx="159.2" cy="237.6" r="0.37"/><circle cx="114.7" cy="243.4" r="0.48"/><circle cx="137.7" cy="219.2" r="0.43"/><circle cx="177.2" cy="242.4" r="0.51"/><circle cx="100.5" cy="232.7" r="0.66"/><circle cx="152.4" cy="246.3" r="0.38"/><circle cx="127.0" cy="262.5" r="0.50"/><circle cx="144.3" cy="269.9" r="0.57"/><circle cx="148.0" cy="218.2" r="0.37"/><circle cx="159.5" cy="240.7" r="0.64"/><circle cx="164.4" cy="270.6" r="0.48"/><circle cx="179.3" cy="261.1" r="0.64"/><circle cx="105.9" cy="262.6" r="0.50"/><circle cx="177.0" cy="275.4" r="0.43"/><circle cx="129.5" cy="232.2" r="0.51"/><circle cx="117.8" cy="255.8" r="0.40"/><circle cx="107.7" cy="243.3" r="0.39"/><circle cx="126.0" cy="269.6" r="0.64"/><circle cx="110.1" cy="217.1" r="0.62"/><circle cx="176.0" cy="251.8" r="0.41"/><circle cx="113.5" cy="270.9" r="0.66"/><circle cx="95.8" cy="227.0" r="0.50"/><circle cx="116.1" cy="261.0" r="0.48"/><circle cx="160.0" cy="225.1" r="0.53"/><circle cx="177.2" cy="257.9" r="0.39"/><circle cx="102.7" cy="254.4" r="0.48"/><circle cx="124.9" cy="244.5" r="0.55"/><circle cx="176.5" cy="230.4" r="0.54"/><circle cx="115.8" cy="248.6" r="0.59"/><circle cx="104.6" cy="244.7" r="0.58"/><circle cx="93.8" cy="262.0" r="0.49"/><circle cx="136.6" cy="252.4" r="0.61"/><circle cx="97.9" cy="245.9" r="0.38"/><circle cx="126.4" cy="236.6" r="0.37"/><circle cx="118.8" cy="242.9" r="0.57"/><circle cx="172.9" cy="238.1" r="0.53"/><circle cx="154.6" cy="272.0" r="0.66"/><circle cx="178.4" cy="234.0" r="0.42"/><circle cx="173.5" cy="220.6" r="0.50"/><circle cx="156.6" cy="247.6" r="0.49"/><circle cx="172.9" cy="233.9" r="0.54"/></g>
</g>
<clipPath id="ci3"><rect x="185" y="216" width="83.69999999999999" height="59.7"/></clipPath>
<g clip-path="url(#ci3)">
<rect x="183.00" y="214.00" width="87.70" height="63.70" fill="#ebe5e5" stroke="none" stroke-width="1"/>
<g filter="url(#warp)">
<ellipse cx="192.2" cy="225.6" rx="11.5" ry="10.3" fill="#b59aae" opacity="0.6" transform="rotate(20 192.2 225.6)"/>
<ellipse cx="192.2" cy="225.6" rx="10.7" ry="9.5" fill="#e3c4b7" opacity="0.97" transform="rotate(20 192.2 225.6)"/>
<ellipse cx="192.2" cy="225.6" rx="5.4" ry="4.7" fill="#f0e4de" opacity="1" transform="rotate(20 192.2 225.6)"/>
<ellipse cx="215.1" cy="227.0" rx="10.3" ry="9.2" fill="#b59aae" opacity="0.6" transform="rotate(-22 215.1 227.0)"/>
<ellipse cx="215.1" cy="227.0" rx="9.5" ry="8.4" fill="#e7d2cb" opacity="0.97" transform="rotate(-22 215.1 227.0)"/>
<ellipse cx="215.1" cy="227.0" rx="4.7" ry="4.2" fill="#f0e4de" opacity="1" transform="rotate(-22 215.1 227.0)"/>
<ellipse cx="252.2" cy="227.0" rx="11.8" ry="9.6" fill="#b59aae" opacity="0.6" transform="rotate(-9 252.2 227.0)"/>
<ellipse cx="252.2" cy="227.0" rx="11.0" ry="8.8" fill="#e4cbc3" opacity="0.97" transform="rotate(-9 252.2 227.0)"/>
<ellipse cx="252.2" cy="227.0" rx="5.5" ry="4.4" fill="#f0e4de" opacity="1" transform="rotate(-9 252.2 227.0)"/>
<ellipse cx="203.6" cy="244.2" rx="9.9" ry="8.4" fill="#b59aae" opacity="0.6" transform="rotate(-0 203.6 244.2)"/>
<ellipse cx="203.6" cy="244.2" rx="9.1" ry="7.6" fill="#e6d1c9" opacity="0.97" transform="rotate(-0 203.6 244.2)"/>
<ellipse cx="203.6" cy="244.2" rx="4.6" ry="3.8" fill="#f0e4de" opacity="1" transform="rotate(-0 203.6 244.2)"/>
<ellipse cx="217.9" cy="239.9" rx="7.4" ry="7.4" fill="#b59aae" opacity="0.6" transform="rotate(4 217.9 239.9)"/>
<ellipse cx="217.9" cy="239.9" rx="6.6" ry="6.6" fill="#e4cac3" opacity="0.97" transform="rotate(4 217.9 239.9)"/>
<ellipse cx="217.9" cy="239.9" rx="3.3" ry="3.3" fill="#f0e4de" opacity="1" transform="rotate(4 217.9 239.9)"/>
<ellipse cx="235.1" cy="246.3" rx="12.3" ry="7.7" fill="#b59aae" opacity="0.6" transform="rotate(-18 235.1 246.3)"/>
<ellipse cx="235.1" cy="246.3" rx="11.5" ry="6.9" fill="#e1c5c0" opacity="0.97" transform="rotate(-18 235.1 246.3)"/>
<ellipse cx="235.1" cy="246.3" rx="5.8" ry="3.5" fill="#f0e4de" opacity="1" transform="rotate(-18 235.1 246.3)"/>
<ellipse cx="258.0" cy="253.5" rx="10.7" ry="9.9" fill="#b59aae" opacity="0.6" transform="rotate(-3 258.0 253.5)"/>
<ellipse cx="258.0" cy="253.5" rx="9.9" ry="9.1" fill="#e4cbc3" opacity="0.97" transform="rotate(-3 258.0 253.5)"/>
<ellipse cx="258.0" cy="253.5" rx="5.0" ry="4.6" fill="#f0e4de" opacity="1" transform="rotate(-3 258.0 253.5)"/>
<ellipse cx="192.9" cy="261.4" rx="10.7" ry="8.7" fill="#b59aae" opacity="0.6" transform="rotate(-26 192.9 261.4)"/>
<ellipse cx="192.9" cy="261.4" rx="9.9" ry="7.9" fill="#e6cec5" opacity="0.97" transform="rotate(-26 192.9 261.4)"/>
<ellipse cx="192.9" cy="261.4" rx="5.0" ry="3.9" fill="#f0e4de" opacity="1" transform="rotate(-26 192.9 261.4)"/>
<ellipse cx="213.6" cy="258.5" rx="9.6" ry="7.7" fill="#b59aae" opacity="0.6" transform="rotate(-25 213.6 258.5)"/>
<ellipse cx="213.6" cy="258.5" rx="8.8" ry="6.9" fill="#e4ccc4" opacity="0.97" transform="rotate(-25 213.6 258.5)"/>
<ellipse cx="213.6" cy="258.5" rx="4.4" ry="3.5" fill="#f0e4de" opacity="1" transform="rotate(-25 213.6 258.5)"/>
<ellipse cx="233.6" cy="267.1" rx="10.7" ry="7.7" fill="#b59aae" opacity="0.6" transform="rotate(-9 233.6 267.1)"/>
<ellipse cx="233.6" cy="267.1" rx="9.9" ry="6.9" fill="#e7d3cc" opacity="0.97" transform="rotate(-9 233.6 267.1)"/>
<ellipse cx="233.6" cy="267.1" rx="5.0" ry="3.5" fill="#f0e4de" opacity="1" transform="rotate(-9 233.6 267.1)"/>
<ellipse cx="247.2" cy="239.9" rx="5.9" ry="6.5" fill="#b59aae" opacity="0.6" transform="rotate(-21 247.2 239.9)"/>
<ellipse cx="247.2" cy="239.9" rx="5.1" ry="5.7" fill="#e6d2cc" opacity="0.97" transform="rotate(-21 247.2 239.9)"/>
<ellipse cx="247.2" cy="239.9" rx="2.5" ry="2.8" fill="#f0e4de" opacity="1" transform="rotate(-21 247.2 239.9)"/>
<ellipse cx="187.2" cy="240.6" rx="5.9" ry="6.8" fill="#b59aae" opacity="0.6" transform="rotate(28 187.2 240.6)"/>
<ellipse cx="187.2" cy="240.6" rx="5.1" ry="6.0" fill="#e2c1b2" opacity="0.97" transform="rotate(28 187.2 240.6)"/>
<ellipse cx="187.2" cy="240.6" rx="2.5" ry="3.0" fill="#f0e4de" opacity="1" transform="rotate(28 187.2 240.6)"/>
<ellipse cx="234.4" cy="221.3" rx="8.7" ry="6.2" fill="#b59aae" opacity="0.6" transform="rotate(-14 234.4 221.3)"/>
<ellipse cx="234.4" cy="221.3" rx="7.9" ry="5.4" fill="#e7d5cf" opacity="0.97" transform="rotate(-14 234.4 221.3)"/>
<ellipse cx="234.4" cy="221.3" rx="3.9" ry="2.7" fill="#f0e4de" opacity="1" transform="rotate(-14 234.4 221.3)"/>
<ellipse cx="265.8" cy="234.9" rx="5.2" ry="8.7" fill="#b59aae" opacity="0.6" transform="rotate(-13 265.8 234.9)"/>
<ellipse cx="265.8" cy="234.9" rx="4.4" ry="7.9" fill="#e3c8bf" opacity="0.97" transform="rotate(-13 265.8 234.9)"/>
<ellipse cx="265.8" cy="234.9" rx="2.2" ry="3.9" fill="#f0e4de" opacity="1" transform="rotate(-13 265.8 234.9)"/>
<ellipse cx="253.7" cy="272.1" rx="8.7" ry="5.2" fill="#b59aae" opacity="0.6" transform="rotate(17 253.7 272.1)"/>
<ellipse cx="253.7" cy="272.1" rx="7.9" ry="4.4" fill="#e6d1ca" opacity="0.97" transform="rotate(17 253.7 272.1)"/>
<ellipse cx="253.7" cy="272.1" rx="3.9" ry="2.2" fill="#f0e4de" opacity="1" transform="rotate(17 253.7 272.1)"/>
<ellipse cx="201.5" cy="273.5" rx="10.7" ry="4.3" fill="#b59aae" opacity="0.6" transform="rotate(14 201.5 273.5)"/>
<ellipse cx="201.5" cy="273.5" rx="9.9" ry="3.5" fill="#e6d1ca" opacity="0.97" transform="rotate(14 201.5 273.5)"/>
<ellipse cx="201.5" cy="273.5" rx="5.0" ry="1.7" fill="#f0e4de" opacity="1" transform="rotate(14 201.5 273.5)"/>
<ellipse cx="268.7" cy="269.2" rx="5.2" ry="6.8" fill="#b59aae" opacity="0.6" transform="rotate(-14 268.7 269.2)"/>
<ellipse cx="268.7" cy="269.2" rx="4.4" ry="6.0" fill="#e6d1ca" opacity="0.97" transform="rotate(-14 268.7 269.2)"/>
<ellipse cx="268.7" cy="269.2" rx="2.2" ry="3.0" fill="#f0e4de" opacity="1" transform="rotate(-14 268.7 269.2)"/>
</g>
<g fill="#84627f" opacity="0.75" filter="url(#dotblur)"><circle cx="201.8" cy="229.7" r="0.66"/><circle cx="202.2" cy="230.6" r="0.87"/><circle cx="200.1" cy="231.0" r="0.82"/><circle cx="197.3" cy="232.9" r="0.84"/><circle cx="196.8" cy="234.2" r="0.77"/><circle cx="195.1" cy="235.3" r="0.77"/><circle cx="193.2" cy="234.7" r="0.60"/><circle cx="188.0" cy="233.2" r="0.73"/><circle cx="187.0" cy="233.7" r="0.60"/><circle cx="185.5" cy="231.2" r="0.82"/><circle cx="183.9" cy="229.9" r="0.82"/><circle cx="183.1" cy="228.4" r="0.63"/><circle cx="181.3" cy="227.6" r="0.64"/><circle cx="181.7" cy="224.4" r="0.71"/><circle cx="182.7" cy="221.2" r="0.62"/><circle cx="183.5" cy="220.2" r="0.76"/><circle cx="185.0" cy="217.2" r="0.74"/><circle cx="187.1" cy="217.6" r="0.79"/><circle cx="188.4" cy="217.3" r="0.67"/><circle cx="189.1" cy="215.8" r="0.86"/><circle cx="192.4" cy="216.4" r="0.89"/><circle cx="194.7" cy="216.3" r="0.61"/><circle cx="198.4" cy="218.4" r="0.59"/><circle cx="200.1" cy="220.4" r="0.81"/><circle cx="200.4" cy="220.0" r="0.61"/><circle cx="201.8" cy="221.7" r="0.86"/><circle cx="202.1" cy="223.1" r="0.88"/><circle cx="203.2" cy="228.2" r="0.61"/></g>
<g fill="#6c6aa2" opacity="0.8" filter="url(#dotblur)"><circle cx="203.2" cy="228.3" r="0.63"/><circle cx="201.5" cy="231.4" r="0.73"/><circle cx="198.5" cy="234.3" r="0.69"/><circle cx="198.3" cy="234.5" r="0.75"/><circle cx="193.4" cy="235.8" r="0.63"/><circle cx="188.7" cy="234.9" r="0.62"/><circle cx="185.5" cy="234.3" r="0.73"/><circle cx="185.3" cy="233.6" r="0.52"/><circle cx="183.9" cy="231.9" r="0.60"/><circle cx="180.7" cy="226.3" r="0.56"/><circle cx="180.1" cy="223.6" r="0.68"/><circle cx="180.7" cy="220.5" r="0.67"/><circle cx="181.9" cy="219.1" r="0.52"/><circle cx="183.1" cy="217.1" r="0.65"/><circle cx="188.0" cy="215.3" r="0.51"/><circle cx="190.7" cy="214.4" r="0.49"/><circle cx="194.0" cy="215.6" r="0.57"/><circle cx="197.8" cy="216.5" r="0.72"/><circle cx="200.7" cy="218.8" r="0.72"/><circle cx="201.3" cy="219.5" r="0.74"/><circle cx="203.2" cy="223.0" r="0.68"/><circle cx="204.7" cy="225.0" r="0.71"/></g>
<g fill="#84627f" opacity="0.75" filter="url(#dotblur)"><circle cx="224.8" cy="228.8" r="0.69"/><circle cx="223.3" cy="231.5" r="0.78"/><circle cx="221.3" cy="232.8" r="0.58"/><circle cx="220.5" cy="234.8" r="0.59"/><circle cx="218.8" cy="234.1" r="0.64"/><circle cx="216.0" cy="235.0" r="0.84"/><circle cx="213.6" cy="235.4" r="0.65"/><circle cx="211.6" cy="235.0" r="0.76"/><circle cx="209.3" cy="233.2" r="0.68"/><circle cx="207.4" cy="232.0" r="0.82"/><circle cx="207.3" cy="229.9" r="0.66"/><circle cx="205.3" cy="226.8" r="0.58"/><circle cx="205.1" cy="225.6" r="0.72"/><circle cx="206.3" cy="223.8" r="0.58"/><circle cx="207.9" cy="222.3" r="0.85"/><circle cx="208.9" cy="221.5" r="0.78"/><circle cx="209.7" cy="221.4" r="0.64"/><circle cx="211.1" cy="218.6" r="0.70"/><circle cx="213.2" cy="217.8" r="0.71"/><circle cx="216.9" cy="218.8" r="0.63"/><circle cx="221.0" cy="220.8" r="0.65"/><circle cx="220.9" cy="220.7" r="0.58"/><circle cx="223.1" cy="222.9" r="0.85"/><circle cx="224.3" cy="225.7" r="0.87"/><circle cx="224.2" cy="227.5" r="0.79"/></g>
<g fill="#6c6aa2" opacity="0.8" filter="url(#dotblur)"><circle cx="225.6" cy="229.8" r="0.53"/><circle cx="224.1" cy="231.6" r="0.69"/><circle cx="222.9" cy="234.2" r="0.58"/><circle cx="220.8" cy="235.1" r="0.52"/><circle cx="215.9" cy="235.6" r="0.59"/><circle cx="212.8" cy="236.3" r="0.74"/><circle cx="208.1" cy="235.0" r="0.50"/><circle cx="206.7" cy="232.4" r="0.64"/><circle cx="204.8" cy="229.8" r="0.60"/><circle cx="204.8" cy="225.7" r="0.53"/><circle cx="204.8" cy="224.5" r="0.54"/><circle cx="207.0" cy="220.7" r="0.62"/><circle cx="208.8" cy="219.7" r="0.51"/><circle cx="212.9" cy="217.3" r="0.71"/><circle cx="216.2" cy="218.0" r="0.51"/><circle cx="218.3" cy="218.6" r="0.73"/><circle cx="221.5" cy="220.3" r="0.61"/><circle cx="223.5" cy="222.0" r="0.60"/><circle cx="225.5" cy="224.0" r="0.56"/></g>
<g fill="#84627f" opacity="0.75" filter="url(#dotblur)"><circle cx="262.5" cy="221.4" r="0.61"/><circle cx="263.1" cy="223.0" r="0.69"/><circle cx="263.1" cy="225.4" r="0.61"/><circle cx="261.7" cy="229.8" r="0.72"/><circle cx="259.7" cy="231.2" r="0.67"/><circle cx="260.9" cy="231.4" r="0.69"/><circle cx="258.6" cy="233.6" r="0.72"/><circle cx="255.5" cy="234.9" r="0.71"/><circle cx="254.9" cy="236.1" r="0.68"/><circle cx="251.9" cy="236.2" r="0.63"/><circle cx="249.1" cy="235.2" r="0.61"/><circle cx="246.4" cy="234.2" r="0.60"/><circle cx="244.3" cy="234.8" r="0.59"/><circle cx="242.8" cy="233.3" r="0.80"/><circle cx="243.1" cy="231.8" r="0.78"/><circle cx="241.1" cy="229.0" r="0.68"/><circle cx="241.4" cy="228.2" r="0.70"/><circle cx="243.6" cy="225.2" r="0.70"/><circle cx="244.4" cy="221.8" r="0.82"/><circle cx="245.0" cy="221.0" r="0.63"/><circle cx="246.9" cy="220.0" r="0.66"/><circle cx="249.0" cy="219.2" r="0.72"/><circle cx="249.7" cy="219.3" r="0.79"/><circle cx="252.5" cy="218.1" r="0.74"/><circle cx="257.1" cy="217.7" r="0.69"/><circle cx="257.8" cy="219.6" r="0.59"/><circle cx="259.3" cy="219.7" r="0.59"/><circle cx="261.6" cy="220.4" r="0.65"/></g>
<g fill="#6c6aa2" opacity="0.8" filter="url(#dotblur)"><circle cx="262.1" cy="221.6" r="0.53"/><circle cx="263.4" cy="226.1" r="0.50"/><circle cx="265.0" cy="226.8" r="0.73"/><circle cx="262.0" cy="231.2" r="0.53"/><circle cx="259.6" cy="232.8" r="0.67"/><circle cx="256.2" cy="235.7" r="0.71"/><circle cx="253.2" cy="237.4" r="0.73"/><circle cx="250.0" cy="237.6" r="0.56"/><circle cx="248.0" cy="237.3" r="0.51"/><circle cx="244.7" cy="236.1" r="0.74"/><circle cx="242.8" cy="233.5" r="0.64"/><circle cx="240.5" cy="230.9" r="0.65"/><circle cx="241.1" cy="225.9" r="0.52"/><circle cx="240.7" cy="225.5" r="0.48"/><circle cx="242.0" cy="221.9" r="0.66"/><circle cx="245.8" cy="219.8" r="0.54"/><circle cx="249.8" cy="217.7" r="0.67"/><circle cx="253.5" cy="217.4" r="0.65"/><circle cx="255.5" cy="216.7" r="0.61"/><circle cx="258.6" cy="218.6" r="0.57"/><circle cx="261.8" cy="220.1" r="0.56"/></g>
<g fill="#84627f" opacity="0.75" filter="url(#dotblur)"><circle cx="212.9" cy="244.7" r="0.67"/><circle cx="212.4" cy="247.0" r="0.62"/><circle cx="211.3" cy="247.9" r="0.61"/><circle cx="207.6" cy="250.5" r="0.67"/><circle cx="208.1" cy="250.0" r="0.71"/><circle cx="203.1" cy="251.4" r="0.80"/><circle cx="201.4" cy="251.0" r="0.67"/><circle cx="199.1" cy="250.2" r="0.73"/><circle cx="197.4" cy="250.2" r="0.81"/><circle cx="196.4" cy="249.0" r="0.89"/><circle cx="194.2" cy="246.4" r="0.79"/><circle cx="195.0" cy="244.8" r="0.78"/><circle cx="195.0" cy="243.1" r="0.81"/><circle cx="196.2" cy="239.8" r="0.77"/><circle cx="196.3" cy="239.3" r="0.65"/><circle cx="198.8" cy="238.2" r="0.82"/><circle cx="201.7" cy="236.9" r="0.76"/><circle cx="204.4" cy="237.2" r="0.89"/><circle cx="205.3" cy="237.1" r="0.75"/><circle cx="209.5" cy="237.6" r="0.73"/><circle cx="210.6" cy="240.2" r="0.84"/><circle cx="211.2" cy="241.3" r="0.87"/><circle cx="213.1" cy="243.4" r="0.83"/></g>
<g fill="#6c6aa2" opacity="0.8" filter="url(#dotblur)"><circle cx="214.1" cy="245.2" r="0.71"/><circle cx="213.7" cy="248.3" r="0.61"/><circle cx="210.9" cy="249.6" r="0.74"/><circle cx="208.8" cy="250.9" r="0.53"/><circle cx="203.1" cy="252.4" r="0.70"/><circle cx="202.4" cy="252.9" r="0.72"/><circle cx="197.8" cy="250.9" r="0.58"/><circle cx="195.7" cy="249.5" r="0.56"/><circle cx="194.5" cy="245.6" r="0.55"/><circle cx="193.6" cy="244.1" r="0.51"/><circle cx="193.8" cy="239.8" r="0.69"/><circle cx="195.2" cy="239.4" r="0.63"/><circle cx="199.6" cy="236.9" r="0.49"/><circle cx="203.5" cy="234.5" r="0.55"/><circle cx="207.7" cy="236.7" r="0.70"/><circle cx="207.5" cy="236.3" r="0.73"/><circle cx="211.7" cy="240.9" r="0.63"/><circle cx="212.4" cy="241.1" r="0.62"/></g>
<g fill="#84627f" opacity="0.75" filter="url(#dotblur)"><circle cx="225.2" cy="239.1" r="0.68"/><circle cx="223.5" cy="242.1" r="0.61"/><circle cx="224.4" cy="243.4" r="0.75"/><circle cx="221.8" cy="245.4" r="0.69"/><circle cx="219.6" cy="245.3" r="0.71"/><circle cx="218.9" cy="246.1" r="0.65"/><circle cx="215.9" cy="245.6" r="0.85"/><circle cx="212.9" cy="244.2" r="0.86"/><circle cx="211.9" cy="243.5" r="0.59"/><circle cx="212.2" cy="240.8" r="0.59"/><circle cx="212.0" cy="239.4" r="0.64"/><circle cx="211.0" cy="237.6" r="0.63"/><circle cx="213.9" cy="236.1" r="0.74"/><circle cx="214.9" cy="234.7" r="0.86"/><circle cx="217.7" cy="233.0" r="0.89"/><circle cx="219.7" cy="234.0" r="0.88"/><circle cx="220.8" cy="234.1" r="0.79"/><circle cx="223.6" cy="235.4" r="0.69"/><circle cx="223.2" cy="236.7" r="0.74"/></g>
<g fill="#6c6aa2" opacity="0.8" filter="url(#dotblur)"><circle cx="225.1" cy="239.1" r="0.74"/><circle cx="225.5" cy="244.0" r="0.49"/><circle cx="221.5" cy="245.7" r="0.68"/><circle cx="219.7" cy="247.4" r="0.67"/><circle cx="216.1" cy="247.0" r="0.51"/><circle cx="215.3" cy="247.6" r="0.57"/><circle cx="210.8" cy="244.3" r="0.61"/><circle cx="211.1" cy="241.9" r="0.49"/><circle cx="210.2" cy="237.3" r="0.58"/><circle cx="212.1" cy="234.7" r="0.62"/><circle cx="216.2" cy="232.4" r="0.74"/><circle cx="219.7" cy="233.1" r="0.65"/><circle cx="223.2" cy="234.1" r="0.53"/><circle cx="223.9" cy="235.1" r="0.67"/></g>
<g fill="#84627f" opacity="0.75" filter="url(#dotblur)"><circle cx="245.2" cy="243.1" r="0.79"/><circle cx="246.3" cy="246.0" r="0.87"/><circle cx="245.0" cy="249.0" r="0.64"/><circle cx="244.3" cy="249.0" r="0.86"/><circle cx="242.4" cy="250.2" r="0.85"/><circle cx="241.1" cy="252.0" r="0.68"/><circle cx="238.3" cy="253.5" r="0.79"/><circle cx="235.2" cy="253.5" r="0.66"/><circle cx="233.0" cy="253.6" r="0.77"/><circle cx="228.7" cy="253.2" r="0.90"/><circle cx="227.4" cy="252.3" r="0.70"/><circle cx="225.3" cy="250.2" r="0.89"/><circle cx="224.9" cy="249.9" r="0.77"/><circle cx="223.0" cy="247.7" r="0.81"/><circle cx="223.3" cy="247.7" r="0.82"/><circle cx="224.6" cy="243.9" r="0.82"/><circle cx="225.7" cy="244.2" r="0.66"/><circle cx="226.8" cy="243.3" r="0.77"/><circle cx="231.1" cy="240.7" r="0.72"/><circle cx="232.3" cy="239.4" r="0.75"/><circle cx="236.3" cy="239.4" r="0.74"/><circle cx="238.6" cy="239.1" r="0.66"/><circle cx="240.6" cy="239.0" r="0.63"/><circle cx="242.7" cy="240.4" r="0.73"/><circle cx="244.6" cy="241.7" r="0.82"/><circle cx="245.9" cy="243.8" r="0.58"/></g>
<g fill="#6c6aa2" opacity="0.8" filter="url(#dotblur)"><circle cx="248.3" cy="244.8" r="0.53"/><circle cx="247.3" cy="248.2" r="0.57"/><circle cx="246.1" cy="250.5" r="0.57"/><circle cx="243.2" cy="251.7" r="0.50"/><circle cx="238.3" cy="253.1" r="0.74"/><circle cx="237.0" cy="253.8" r="0.55"/><circle cx="233.9" cy="253.8" r="0.72"/><circle cx="228.0" cy="253.2" r="0.68"/><circle cx="225.0" cy="251.6" r="0.64"/><circle cx="223.2" cy="249.2" r="0.53"/><circle cx="221.6" cy="247.5" r="0.58"/><circle cx="222.5" cy="245.8" r="0.63"/><circle cx="224.2" cy="243.3" r="0.62"/><circle cx="227.7" cy="241.0" r="0.63"/><circle cx="230.1" cy="238.5" r="0.71"/><circle cx="234.1" cy="239.2" r="0.64"/><circle cx="239.2" cy="237.9" r="0.51"/><circle cx="242.5" cy="238.7" r="0.55"/><circle cx="244.8" cy="239.4" r="0.54"/><circle cx="247.9" cy="242.0" r="0.53"/></g>
<g fill="#84627f" opacity="0.75" filter="url(#dotblur)"><circle cx="267.5" cy="255.8" r="0.66"/><circle cx="266.2" cy="257.4" r="0.75"/><circle cx="266.5" cy="258.9" r="0.87"/><circle cx="264.3" cy="259.8" r="0.68"/><circle cx="260.2" cy="262.9" r="0.89"/><circle cx="258.7" cy="262.3" r="0.63"/><circle cx="258.1" cy="261.9" r="0.80"/><circle cx="254.9" cy="261.6" r="0.62"/><circle cx="254.3" cy="261.0" r="0.75"/><circle cx="252.5" cy="260.1" r="0.85"/><circle cx="250.1" cy="256.9" r="0.88"/><circle cx="249.5" cy="256.5" r="0.75"/><circle cx="248.9" cy="254.8" r="0.86"/><circle cx="248.4" cy="250.8" r="0.66"/><circle cx="248.4" cy="250.4" r="0.58"/><circle cx="250.2" cy="249.3" r="0.80"/><circle cx="251.5" cy="247.3" r="0.83"/><circle cx="252.7" cy="246.3" r="0.75"/><circle cx="254.9" cy="244.9" r="0.73"/><circle cx="259.3" cy="245.5" r="0.88"/><circle cx="257.6" cy="244.0" r="0.84"/><circle cx="261.7" cy="244.5" r="0.66"/><circle cx="262.1" cy="246.0" r="0.64"/><circle cx="265.1" cy="246.6" r="0.85"/><circle cx="267.4" cy="250.6" r="0.81"/><circle cx="267.2" cy="250.8" r="0.70"/><circle cx="267.5" cy="255.4" r="0.78"/></g>
<g fill="#6c6aa2" opacity="0.8" filter="url(#dotblur)"><circle cx="268.3" cy="254.9" r="0.69"/><circle cx="267.4" cy="258.0" r="0.60"/><circle cx="266.2" cy="261.7" r="0.56"/><circle cx="262.9" cy="262.2" r="0.59"/><circle cx="260.5" cy="264.4" r="0.72"/><circle cx="255.0" cy="263.4" r="0.63"/><circle cx="253.4" cy="262.6" r="0.53"/><circle cx="250.4" cy="260.6" r="0.57"/><circle cx="248.5" cy="258.1" r="0.56"/><circle cx="246.8" cy="254.4" r="0.72"/><circle cx="247.2" cy="251.4" r="0.66"/><circle cx="247.4" cy="249.3" r="0.52"/><circle cx="250.7" cy="245.0" r="0.60"/><circle cx="252.0" cy="245.0" r="0.49"/><circle cx="256.3" cy="243.2" r="0.53"/><circle cx="262.4" cy="243.5" r="0.67"/><circle cx="264.2" cy="245.1" r="0.72"/><circle cx="265.9" cy="247.1" r="0.67"/><circle cx="266.5" cy="249.5" r="0.73"/><circle cx="268.0" cy="253.6" r="0.75"/></g>
<g fill="#84627f" opacity="0.75" filter="url(#dotblur)"><circle cx="201.9" cy="264.9" r="0.88"/><circle cx="200.9" cy="265.1" r="0.88"/><circle cx="200.5" cy="267.4" r="0.61"/><circle cx="197.6" cy="268.6" r="0.65"/><circle cx="195.6" cy="269.8" r="0.72"/><circle cx="193.5" cy="269.2" r="0.68"/><circle cx="191.9" cy="269.8" r="0.62"/><circle cx="189.1" cy="267.8" r="0.86"/><circle cx="185.1" cy="266.1" r="0.70"/><circle cx="185.1" cy="266.0" r="0.78"/><circle cx="183.0" cy="262.9" r="0.70"/><circle cx="184.0" cy="262.5" r="0.65"/><circle cx="183.4" cy="258.8" r="0.90"/><circle cx="183.7" cy="258.1" r="0.67"/><circle cx="185.7" cy="256.5" r="0.66"/><circle cx="187.3" cy="254.3" r="0.79"/><circle cx="188.9" cy="253.8" r="0.84"/><circle cx="189.9" cy="253.0" r="0.62"/><circle cx="195.3" cy="253.8" r="0.65"/><circle cx="197.5" cy="254.3" r="0.67"/><circle cx="197.5" cy="254.5" r="0.70"/><circle cx="198.4" cy="255.9" r="0.67"/><circle cx="202.5" cy="259.8" r="0.67"/><circle cx="201.9" cy="261.5" r="0.71"/><circle cx="202.9" cy="263.2" r="0.82"/></g>
<g fill="#6c6aa2" opacity="0.8" filter="url(#dotblur)"><circle cx="202.9" cy="263.7" r="0.74"/><circle cx="202.4" cy="265.7" r="0.60"/><circle cx="198.2" cy="268.7" r="0.48"/><circle cx="197.4" cy="270.2" r="0.65"/><circle cx="192.7" cy="270.2" r="0.49"/><circle cx="188.7" cy="268.4" r="0.53"/><circle cx="185.4" cy="267.8" r="0.68"/><circle cx="185.3" cy="266.0" r="0.52"/><circle cx="182.9" cy="261.7" r="0.58"/><circle cx="181.8" cy="258.7" r="0.75"/><circle cx="183.1" cy="258.7" r="0.75"/><circle cx="183.8" cy="254.6" r="0.53"/><circle cx="188.8" cy="253.2" r="0.61"/><circle cx="192.1" cy="251.7" r="0.54"/><circle cx="195.8" cy="253.4" r="0.75"/><circle cx="198.8" cy="254.8" r="0.62"/><circle cx="199.6" cy="256.0" r="0.62"/><circle cx="202.1" cy="258.4" r="0.65"/><circle cx="203.5" cy="261.8" r="0.65"/></g>
<g fill="#84627f" opacity="0.75" filter="url(#dotblur)"><circle cx="223.0" cy="259.7" r="0.81"/><circle cx="221.3" cy="260.7" r="0.66"/><circle cx="222.2" cy="261.1" r="0.84"/><circle cx="218.5" cy="263.2" r="0.63"/><circle cx="217.3" cy="264.5" r="0.77"/><circle cx="216.1" cy="265.6" r="0.83"/><circle cx="212.4" cy="264.4" r="0.66"/><circle cx="209.5" cy="264.1" r="0.89"/><circle cx="207.7" cy="263.8" r="0.86"/><circle cx="206.0" cy="261.9" r="0.89"/><circle cx="204.4" cy="260.2" r="0.78"/><circle cx="205.3" cy="258.5" r="0.82"/><circle cx="205.4" cy="255.8" r="0.87"/><circle cx="207.4" cy="253.8" r="0.81"/><circle cx="207.2" cy="253.7" r="0.73"/><circle cx="208.7" cy="252.4" r="0.65"/><circle cx="211.2" cy="251.2" r="0.58"/><circle cx="215.2" cy="252.6" r="0.71"/><circle cx="216.1" cy="252.0" r="0.59"/><circle cx="218.5" cy="253.0" r="0.81"/><circle cx="220.8" cy="255.2" r="0.88"/><circle cx="221.1" cy="255.7" r="0.86"/></g>
<g fill="#6c6aa2" opacity="0.8" filter="url(#dotblur)"><circle cx="223.9" cy="258.9" r="0.65"/><circle cx="223.1" cy="260.2" r="0.61"/><circle cx="221.7" cy="264.4" r="0.62"/><circle cx="217.3" cy="265.3" r="0.66"/><circle cx="214.7" cy="266.2" r="0.61"/><circle cx="212.1" cy="267.4" r="0.62"/><circle cx="208.0" cy="265.6" r="0.62"/><circle cx="205.5" cy="262.6" r="0.66"/><circle cx="204.3" cy="260.0" r="0.65"/><circle cx="203.7" cy="257.8" r="0.48"/><circle cx="204.5" cy="255.7" r="0.70"/><circle cx="209.0" cy="252.6" r="0.53"/><circle cx="209.1" cy="251.7" r="0.53"/><circle cx="213.2" cy="251.3" r="0.54"/><circle cx="217.4" cy="251.4" r="0.49"/><circle cx="221.1" cy="253.2" r="0.62"/><circle cx="223.8" cy="256.9" r="0.57"/></g>
<g fill="#84627f" opacity="0.75" filter="url(#dotblur)"><circle cx="241.7" cy="263.1" r="0.73"/><circle cx="243.6" cy="264.9" r="0.80"/><circle cx="243.3" cy="265.8" r="0.65"/><circle cx="241.5" cy="269.1" r="0.64"/><circle cx="240.3" cy="271.1" r="0.85"/><circle cx="239.0" cy="271.7" r="0.65"/><circle cx="236.3" cy="272.4" r="0.59"/><circle cx="233.8" cy="274.3" r="0.69"/><circle cx="233.2" cy="274.4" r="0.87"/><circle cx="230.4" cy="274.9" r="0.83"/><circle cx="227.2" cy="274.2" r="0.76"/><circle cx="225.9" cy="272.7" r="0.85"/><circle cx="225.3" cy="272.3" r="0.81"/><circle cx="224.1" cy="270.7" r="0.67"/><circle cx="224.2" cy="269.0" r="0.79"/><circle cx="226.0" cy="264.9" r="0.86"/><circle cx="226.5" cy="265.6" r="0.68"/><circle cx="226.6" cy="262.6" r="0.81"/><circle cx="231.1" cy="261.4" r="0.58"/><circle cx="231.7" cy="260.0" r="0.59"/><circle cx="234.3" cy="259.7" r="0.75"/><circle cx="237.8" cy="259.6" r="0.87"/><circle cx="239.1" cy="259.6" r="0.87"/><circle cx="241.7" cy="261.1" r="0.70"/></g>
<g fill="#6c6aa2" opacity="0.8" filter="url(#dotblur)"><circle cx="243.6" cy="262.0" r="0.59"/><circle cx="244.1" cy="264.3" r="0.58"/><circle cx="243.2" cy="268.4" r="0.59"/><circle cx="242.3" cy="269.8" r="0.50"/><circle cx="238.6" cy="272.5" r="0.57"/><circle cx="234.3" cy="275.2" r="0.52"/><circle cx="233.2" cy="276.4" r="0.66"/><circle cx="226.7" cy="274.5" r="0.57"/><circle cx="224.8" cy="274.2" r="0.73"/><circle cx="222.5" cy="270.9" r="0.74"/><circle cx="222.6" cy="270.0" r="0.54"/><circle cx="223.6" cy="268.2" r="0.50"/><circle cx="225.1" cy="264.3" r="0.72"/><circle cx="229.1" cy="259.6" r="0.67"/><circle cx="230.7" cy="259.1" r="0.72"/><circle cx="235.1" cy="258.2" r="0.54"/><circle cx="238.3" cy="258.0" r="0.63"/><circle cx="241.8" cy="259.4" r="0.65"/></g>
<g fill="#84627f" opacity="0.75" filter="url(#dotblur)"><circle cx="251.7" cy="239.0" r="0.64"/><circle cx="251.4" cy="240.2" r="0.75"/><circle cx="251.4" cy="243.3" r="0.68"/><circle cx="250.7" cy="244.8" r="0.82"/><circle cx="247.9" cy="245.1" r="0.74"/><circle cx="247.5" cy="245.9" r="0.87"/><circle cx="244.5" cy="244.3" r="0.67"/><circle cx="242.6" cy="243.3" r="0.74"/><circle cx="243.3" cy="240.8" r="0.64"/><circle cx="242.9" cy="237.6" r="0.86"/><circle cx="242.9" cy="236.5" r="0.64"/><circle cx="245.1" cy="234.2" r="0.62"/><circle cx="246.9" cy="235.1" r="0.83"/><circle cx="249.9" cy="235.7" r="0.68"/><circle cx="251.2" cy="235.5" r="0.78"/></g>
<g fill="#6c6aa2" opacity="0.8" filter="url(#dotblur)"><circle cx="252.3" cy="238.5" r="0.70"/><circle cx="253.3" cy="243.0" r="0.49"/><circle cx="252.0" cy="245.6" r="0.60"/><circle cx="249.6" cy="245.7" r="0.53"/><circle cx="246.2" cy="245.5" r="0.63"/><circle cx="243.1" cy="245.5" r="0.56"/><circle cx="240.9" cy="240.6" r="0.74"/><circle cx="240.0" cy="238.4" r="0.57"/><circle cx="241.6" cy="237.1" r="0.55"/><circle cx="244.7" cy="232.6" r="0.48"/><circle cx="248.5" cy="232.9" r="0.55"/><circle cx="250.7" cy="234.0" r="0.53"/></g>
<g fill="#84627f" opacity="0.75" filter="url(#dotblur)"><circle cx="191.8" cy="240.8" r="0.64"/><circle cx="191.1" cy="243.5" r="0.88"/><circle cx="190.8" cy="244.5" r="0.82"/><circle cx="189.7" cy="245.9" r="0.71"/><circle cx="186.6" cy="246.3" r="0.65"/><circle cx="186.7" cy="245.9" r="0.81"/><circle cx="185.2" cy="245.4" r="0.82"/><circle cx="183.3" cy="244.3" r="0.67"/><circle cx="182.1" cy="242.1" r="0.82"/><circle cx="182.0" cy="240.2" r="0.67"/><circle cx="183.7" cy="237.8" r="0.72"/><circle cx="185.7" cy="235.7" r="0.64"/><circle cx="187.9" cy="235.2" r="0.75"/><circle cx="189.5" cy="235.8" r="0.84"/><circle cx="191.1" cy="236.9" r="0.74"/><circle cx="191.5" cy="236.8" r="0.68"/></g>
<g fill="#6c6aa2" opacity="0.8" filter="url(#dotblur)"><circle cx="193.3" cy="240.6" r="0.70"/><circle cx="192.0" cy="245.6" r="0.57"/><circle cx="191.4" cy="247.3" r="0.62"/><circle cx="187.7" cy="247.3" r="0.65"/><circle cx="182.8" cy="245.8" r="0.72"/><circle cx="181.9" cy="245.0" r="0.60"/><circle cx="180.8" cy="242.3" r="0.65"/><circle cx="180.7" cy="238.5" r="0.50"/><circle cx="184.0" cy="235.8" r="0.67"/><circle cx="187.0" cy="233.9" r="0.64"/><circle cx="190.4" cy="234.6" r="0.55"/><circle cx="191.7" cy="236.5" r="0.65"/></g>
<g fill="#84627f" opacity="0.75" filter="url(#dotblur)"><circle cx="241.0" cy="218.5" r="0.66"/><circle cx="241.6" cy="218.8" r="0.75"/><circle cx="240.1" cy="222.0" r="0.64"/><circle cx="240.2" cy="223.7" r="0.89"/><circle cx="239.8" cy="224.1" r="0.64"/><circle cx="234.9" cy="227.1" r="0.79"/><circle cx="232.6" cy="226.7" r="0.78"/><circle cx="232.2" cy="227.5" r="0.59"/><circle cx="229.8" cy="225.9" r="0.76"/><circle cx="228.5" cy="225.0" r="0.61"/><circle cx="227.1" cy="224.2" r="0.64"/><circle cx="227.3" cy="221.2" r="0.82"/><circle cx="228.4" cy="221.3" r="0.66"/><circle cx="228.8" cy="219.4" r="0.89"/><circle cx="232.3" cy="216.4" r="0.86"/><circle cx="235.1" cy="215.3" r="0.74"/><circle cx="235.5" cy="214.5" r="0.76"/><circle cx="237.9" cy="215.7" r="0.67"/><circle cx="239.1" cy="215.9" r="0.81"/></g>
<g fill="#6c6aa2" opacity="0.8" filter="url(#dotblur)"><circle cx="243.7" cy="217.8" r="0.55"/><circle cx="243.4" cy="220.7" r="0.52"/><circle cx="241.9" cy="222.5" r="0.73"/><circle cx="239.2" cy="224.9" r="0.72"/><circle cx="234.9" cy="227.4" r="0.71"/><circle cx="229.5" cy="227.8" r="0.66"/><circle cx="227.1" cy="228.0" r="0.66"/><circle cx="225.8" cy="225.8" r="0.61"/><circle cx="226.8" cy="223.2" r="0.52"/><circle cx="227.8" cy="219.8" r="0.74"/><circle cx="229.7" cy="216.3" r="0.52"/><circle cx="233.5" cy="215.6" r="0.65"/><circle cx="238.5" cy="214.5" r="0.68"/><circle cx="240.6" cy="215.2" r="0.49"/></g>
<g fill="#84627f" opacity="0.75" filter="url(#dotblur)"><circle cx="269.9" cy="233.9" r="0.85"/><circle cx="271.1" cy="236.4" r="0.85"/><circle cx="270.7" cy="238.2" r="0.77"/><circle cx="269.5" cy="240.0" r="0.83"/><circle cx="268.2" cy="242.5" r="0.72"/><circle cx="266.5" cy="242.2" r="0.89"/><circle cx="263.9" cy="240.7" r="0.86"/><circle cx="264.0" cy="240.1" r="0.77"/><circle cx="261.5" cy="237.5" r="0.66"/><circle cx="261.3" cy="236.0" r="0.84"/><circle cx="261.7" cy="231.2" r="0.70"/><circle cx="261.7" cy="230.0" r="0.74"/><circle cx="262.7" cy="228.9" r="0.60"/><circle cx="263.5" cy="228.0" r="0.78"/><circle cx="264.4" cy="227.4" r="0.78"/><circle cx="267.6" cy="228.2" r="0.78"/><circle cx="267.6" cy="230.3" r="0.61"/></g>
<g fill="#6c6aa2" opacity="0.8" filter="url(#dotblur)"><circle cx="270.2" cy="233.5" r="0.58"/><circle cx="271.6" cy="238.0" r="0.55"/><circle cx="270.5" cy="242.8" r="0.69"/><circle cx="268.2" cy="244.6" r="0.66"/><circle cx="266.6" cy="243.3" r="0.74"/><circle cx="263.6" cy="240.1" r="0.62"/><circle cx="260.8" cy="239.1" r="0.68"/><circle cx="260.0" cy="236.0" r="0.72"/><circle cx="260.1" cy="230.2" r="0.64"/><circle cx="260.5" cy="227.1" r="0.49"/><circle cx="262.7" cy="225.9" r="0.57"/><circle cx="265.1" cy="226.3" r="0.74"/><circle cx="269.3" cy="229.2" r="0.74"/></g>
<g fill="#84627f" opacity="0.75" filter="url(#dotblur)"><circle cx="261.3" cy="275.8" r="0.86"/><circle cx="260.5" cy="275.6" r="0.88"/><circle cx="259.5" cy="276.5" r="0.69"/><circle cx="255.4" cy="276.4" r="0.62"/><circle cx="251.6" cy="275.9" r="0.85"/><circle cx="250.5" cy="274.7" r="0.88"/><circle cx="248.3" cy="273.5" r="0.81"/><circle cx="246.3" cy="271.8" r="0.82"/><circle cx="246.2" cy="270.1" r="0.88"/><circle cx="247.8" cy="268.5" r="0.86"/><circle cx="248.7" cy="267.8" r="0.63"/><circle cx="248.4" cy="267.8" r="0.71"/><circle cx="253.0" cy="268.1" r="0.81"/><circle cx="255.9" cy="267.8" r="0.88"/><circle cx="258.3" cy="269.5" r="0.62"/><circle cx="259.9" cy="272.1" r="0.66"/><circle cx="261.1" cy="273.4" r="0.87"/></g>
<g fill="#6c6aa2" opacity="0.8" filter="url(#dotblur)"><circle cx="262.5" cy="274.8" r="0.75"/><circle cx="261.2" cy="276.2" r="0.57"/><circle cx="256.9" cy="277.9" r="0.58"/><circle cx="254.5" cy="277.7" r="0.51"/><circle cx="249.4" cy="276.6" r="0.59"/><circle cx="246.8" cy="274.2" r="0.61"/><circle cx="244.8" cy="269.6" r="0.49"/><circle cx="245.2" cy="267.6" r="0.53"/><circle cx="248.5" cy="267.1" r="0.61"/><circle cx="251.9" cy="266.7" r="0.68"/><circle cx="255.8" cy="265.9" r="0.49"/><circle cx="259.5" cy="269.5" r="0.62"/><circle cx="261.3" cy="272.8" r="0.74"/></g>
<g fill="#84627f" opacity="0.75" filter="url(#dotblur)"><circle cx="211.6" cy="276.7" r="0.65"/><circle cx="210.1" cy="275.9" r="0.70"/><circle cx="207.9" cy="276.7" r="0.69"/><circle cx="206.5" cy="278.5" r="0.84"/><circle cx="204.3" cy="277.2" r="0.77"/><circle cx="199.2" cy="276.5" r="0.66"/><circle cx="195.5" cy="275.5" r="0.64"/><circle cx="195.1" cy="275.4" r="0.78"/><circle cx="193.1" cy="272.8" r="0.79"/><circle cx="191.2" cy="272.4" r="0.59"/><circle cx="191.8" cy="270.4" r="0.76"/><circle cx="192.8" cy="270.1" r="0.81"/><circle cx="194.6" cy="268.6" r="0.74"/><circle cx="199.3" cy="269.2" r="0.86"/><circle cx="202.8" cy="269.7" r="0.63"/><circle cx="204.4" cy="271.2" r="0.81"/><circle cx="205.8" cy="271.0" r="0.72"/><circle cx="210.6" cy="273.9" r="0.58"/><circle cx="210.3" cy="274.4" r="0.88"/></g>
<g fill="#6c6aa2" opacity="0.8" filter="url(#dotblur)"><circle cx="211.9" cy="276.4" r="0.73"/><circle cx="211.3" cy="278.0" r="0.51"/><circle cx="208.0" cy="278.3" r="0.67"/><circle cx="201.5" cy="278.1" r="0.75"/><circle cx="196.5" cy="276.6" r="0.62"/><circle cx="195.0" cy="276.2" r="0.61"/><circle cx="192.0" cy="273.1" r="0.67"/><circle cx="191.5" cy="270.2" r="0.74"/><circle cx="192.2" cy="269.4" r="0.53"/><circle cx="197.0" cy="268.8" r="0.57"/><circle cx="199.2" cy="267.6" r="0.51"/><circle cx="204.6" cy="269.7" r="0.71"/><circle cx="210.1" cy="272.0" r="0.72"/><circle cx="210.9" cy="274.3" r="0.51"/></g>
<g fill="#84627f" opacity="0.75" filter="url(#dotblur)"><circle cx="272.4" cy="269.3" r="0.82"/><circle cx="273.4" cy="269.9" r="0.85"/><circle cx="272.5" cy="273.4" r="0.72"/><circle cx="271.9" cy="273.0" r="0.76"/><circle cx="269.8" cy="274.9" r="0.80"/><circle cx="267.3" cy="274.2" r="0.83"/><circle cx="266.9" cy="274.3" r="0.78"/><circle cx="264.6" cy="272.6" r="0.83"/><circle cx="265.2" cy="269.0" r="0.71"/><circle cx="264.1" cy="265.4" r="0.70"/><circle cx="265.1" cy="265.4" r="0.64"/><circle cx="267.0" cy="264.0" r="0.83"/><circle cx="269.2" cy="262.8" r="0.76"/><circle cx="270.1" cy="264.3" r="0.74"/><circle cx="270.9" cy="265.4" r="0.71"/></g>
<g fill="#6c6aa2" opacity="0.8" filter="url(#dotblur)"><circle cx="275.3" cy="268.9" r="0.72"/><circle cx="273.9" cy="273.0" r="0.49"/><circle cx="272.8" cy="274.7" r="0.64"/><circle cx="271.1" cy="275.8" r="0.60"/><circle cx="267.9" cy="276.3" r="0.59"/><circle cx="263.7" cy="272.9" r="0.65"/><circle cx="262.2" cy="268.1" r="0.74"/><circle cx="263.7" cy="265.4" r="0.51"/><circle cx="266.7" cy="262.0" r="0.61"/><circle cx="269.0" cy="261.9" r="0.64"/><circle cx="271.7" cy="265.5" r="0.69"/></g>
<g fill="#7472a6" opacity="0.75" filter="url(#dotblur)"><circle cx="234.9" cy="230.5" r="0.69"/><circle cx="203.5" cy="275.7" r="0.57"/><circle cx="261.1" cy="248.6" r="0.58"/><circle cx="263.8" cy="242.1" r="0.49"/><circle cx="266.0" cy="275.4" r="0.43"/><circle cx="256.9" cy="261.4" r="0.45"/><circle cx="204.5" cy="219.5" r="0.66"/><circle cx="191.8" cy="265.9" r="0.65"/><circle cx="267.6" cy="222.7" r="0.65"/><circle cx="192.0" cy="222.6" r="0.66"/><circle cx="196.8" cy="260.0" r="0.71"/><circle cx="225.4" cy="241.2" r="0.68"/><circle cx="238.3" cy="274.8" r="0.61"/><circle cx="222.3" cy="218.7" r="0.68"/><circle cx="248.2" cy="224.3" r="0.61"/><circle cx="207.6" cy="242.3" r="0.44"/><circle cx="191.9" cy="243.9" r="0.62"/><circle cx="244.5" cy="266.8" r="0.69"/><circle cx="247.4" cy="230.9" r="0.64"/><circle cx="246.4" cy="222.9" r="0.39"/><circle cx="261.3" cy="226.3" r="0.67"/><circle cx="264.3" cy="241.1" r="0.56"/><circle cx="191.1" cy="220.6" r="0.67"/><circle cx="237.2" cy="231.5" r="0.45"/><circle cx="191.4" cy="261.7" r="0.47"/><circle cx="189.5" cy="265.2" r="0.49"/><circle cx="199.2" cy="249.8" r="0.51"/><circle cx="229.0" cy="243.4" r="0.56"/><circle cx="207.3" cy="245.9" r="0.70"/><circle cx="202.7" cy="241.0" r="0.54"/><circle cx="222.7" cy="236.4" r="0.59"/><circle cx="263.1" cy="225.0" r="0.53"/><circle cx="267.0" cy="216.1" r="0.61"/><circle cx="215.8" cy="246.2" r="0.62"/><circle cx="206.4" cy="220.0" r="0.60"/><circle cx="267.7" cy="243.2" r="0.69"/><circle cx="228.0" cy="256.6" r="0.60"/><circle cx="249.2" cy="254.8" r="0.61"/><circle cx="244.6" cy="231.1" r="0.68"/><circle cx="236.0" cy="245.9" r="0.59"/><circle cx="213.8" cy="230.3" r="0.69"/><circle cx="202.7" cy="237.4" r="0.58"/><circle cx="226.5" cy="221.5" r="0.47"/><circle cx="249.1" cy="224.2" r="0.54"/><circle cx="194.2" cy="220.6" r="0.71"/><circle cx="221.8" cy="243.9" r="0.41"/><circle cx="198.4" cy="246.8" r="0.69"/><circle cx="263.5" cy="239.8" r="0.55"/><circle cx="203.5" cy="265.8" r="0.43"/><circle cx="210.6" cy="227.4" r="0.63"/><circle cx="257.6" cy="242.3" r="0.49"/><circle cx="261.7" cy="221.9" r="0.64"/><circle cx="211.6" cy="270.2" r="0.47"/><circle cx="257.9" cy="266.8" r="0.49"/><circle cx="202.1" cy="253.8" r="0.41"/><circle cx="233.3" cy="234.4" r="0.61"/><circle cx="193.8" cy="257.1" r="0.47"/><circle cx="233.2" cy="259.1" r="0.44"/><circle cx="212.3" cy="258.6" r="0.61"/><circle cx="259.6" cy="217.8" r="0.51"/><circle cx="214.2" cy="268.8" r="0.55"/><circle cx="212.5" cy="225.5" r="0.53"/><circle cx="213.4" cy="217.3" r="0.59"/><circle cx="259.4" cy="240.3" r="0.53"/><circle cx="258.6" cy="273.0" r="0.70"/><circle cx="247.5" cy="226.9" r="0.50"/><circle cx="213.4" cy="263.9" r="0.64"/><circle cx="253.5" cy="225.2" r="0.46"/><circle cx="268.1" cy="236.3" r="0.58"/><circle cx="220.8" cy="258.8" r="0.39"/><circle cx="252.6" cy="270.3" r="0.61"/><circle cx="214.4" cy="257.4" r="0.45"/><circle cx="249.4" cy="263.7" r="0.58"/><circle cx="247.9" cy="257.4" r="0.64"/><circle cx="260.6" cy="261.3" r="0.69"/><circle cx="244.6" cy="221.0" r="0.45"/><circle cx="261.2" cy="221.3" r="0.67"/><circle cx="245.1" cy="224.4" r="0.68"/><circle cx="244.9" cy="228.9" r="0.50"/><circle cx="241.9" cy="253.3" r="0.58"/><circle cx="256.4" cy="235.0" r="0.67"/><circle cx="265.8" cy="266.8" r="0.53"/><circle cx="205.5" cy="245.9" r="0.52"/><circle cx="240.8" cy="221.3" r="0.48"/><circle cx="192.7" cy="223.3" r="0.49"/><circle cx="230.3" cy="263.2" r="0.51"/><circle cx="259.3" cy="245.7" r="0.70"/><circle cx="213.0" cy="235.3" r="0.44"/><circle cx="251.2" cy="251.3" r="0.70"/><circle cx="226.6" cy="261.7" r="0.44"/><circle cx="263.0" cy="220.4" r="0.45"/><circle cx="267.8" cy="220.2" r="0.70"/><circle cx="268.2" cy="219.8" r="0.52"/><circle cx="251.4" cy="273.9" r="0.56"/><circle cx="260.9" cy="241.3" r="0.63"/><circle cx="190.8" cy="255.2" r="0.45"/><circle cx="245.5" cy="232.9" r="0.39"/><circle cx="222.6" cy="229.8" r="0.55"/><circle cx="185.6" cy="241.8" r="0.46"/><circle cx="215.2" cy="252.5" r="0.63"/><circle cx="225.3" cy="241.5" r="0.48"/><circle cx="235.9" cy="260.2" r="0.46"/><circle cx="195.6" cy="258.0" r="0.47"/><circle cx="248.3" cy="249.1" r="0.42"/><circle cx="213.7" cy="271.7" r="0.66"/><circle cx="239.6" cy="275.5" r="0.71"/><circle cx="250.7" cy="268.1" r="0.55"/><circle cx="259.8" cy="233.1" r="0.70"/><circle cx="267.1" cy="264.9" r="0.70"/><circle cx="242.0" cy="256.6" r="0.42"/><circle cx="245.7" cy="221.2" r="0.68"/><circle cx="252.4" cy="268.3" r="0.63"/><circle cx="208.3" cy="251.9" r="0.55"/><circle cx="258.4" cy="251.7" r="0.52"/><circle cx="245.1" cy="262.5" r="0.59"/><circle cx="216.0" cy="255.8" r="0.57"/><circle cx="193.9" cy="232.2" r="0.43"/><circle cx="227.9" cy="222.7" r="0.64"/><circle cx="234.5" cy="224.2" r="0.62"/><circle cx="250.7" cy="218.0" r="0.63"/><circle cx="224.7" cy="269.7" r="0.69"/><circle cx="236.7" cy="263.5" r="0.45"/><circle cx="246.8" cy="257.8" r="0.63"/><circle cx="222.8" cy="230.0" r="0.51"/><circle cx="199.0" cy="255.5" r="0.61"/><circle cx="237.0" cy="263.0" r="0.48"/><circle cx="235.8" cy="263.6" r="0.59"/><circle cx="199.7" cy="233.1" r="0.49"/><circle cx="211.2" cy="256.8" r="0.51"/><circle cx="202.4" cy="272.6" r="0.58"/><circle cx="261.2" cy="241.7" r="0.42"/><circle cx="190.9" cy="270.4" r="0.39"/><circle cx="191.3" cy="251.7" r="0.52"/><circle cx="188.3" cy="236.3" r="0.58"/><circle cx="198.8" cy="238.4" r="0.47"/><circle cx="227.3" cy="269.0" r="0.58"/><circle cx="248.2" cy="264.7" r="0.39"/><circle cx="193.3" cy="264.9" r="0.55"/><circle cx="219.9" cy="267.5" r="0.47"/><circle cx="225.1" cy="263.7" r="0.62"/><circle cx="190.6" cy="231.6" r="0.67"/><circle cx="236.3" cy="239.6" r="0.68"/><circle cx="229.2" cy="268.6" r="0.47"/><circle cx="236.4" cy="238.6" r="0.39"/><circle cx="240.1" cy="246.7" r="0.49"/><circle cx="211.5" cy="240.9" r="0.59"/><circle cx="266.0" cy="259.4" r="0.70"/><circle cx="210.5" cy="217.5" r="0.44"/><circle cx="255.3" cy="222.0" r="0.64"/><circle cx="267.9" cy="263.0" r="0.55"/><circle cx="202.1" cy="266.2" r="0.45"/><circle cx="185.6" cy="244.6" r="0.69"/><circle cx="268.4" cy="246.7" r="0.40"/><circle cx="224.0" cy="242.2" r="0.60"/><circle cx="216.6" cy="240.3" r="0.67"/><circle cx="251.7" cy="230.9" r="0.56"/><circle cx="188.7" cy="246.0" r="0.39"/><circle cx="237.8" cy="239.2" r="0.69"/><circle cx="227.4" cy="225.9" r="0.63"/><circle cx="217.7" cy="249.2" r="0.62"/><circle cx="218.6" cy="247.6" r="0.40"/><circle cx="210.9" cy="220.3" r="0.55"/><circle cx="225.4" cy="228.6" r="0.50"/><circle cx="185.9" cy="272.6" r="0.67"/><circle cx="211.1" cy="275.1" r="0.63"/><circle cx="227.6" cy="234.3" r="0.62"/><circle cx="254.4" cy="263.1" r="0.53"/><circle cx="258.1" cy="229.0" r="0.65"/><circle cx="267.1" cy="218.5" r="0.44"/><circle cx="241.6" cy="256.3" r="0.43"/><circle cx="186.8" cy="271.4" r="0.71"/><circle cx="261.3" cy="219.8" r="0.63"/><circle cx="222.2" cy="238.0" r="0.48"/><circle cx="244.5" cy="239.8" r="0.44"/><circle cx="187.7" cy="219.0" r="0.52"/><circle cx="245.7" cy="250.3" r="0.70"/><circle cx="259.1" cy="269.4" r="0.56"/><circle cx="228.2" cy="257.4" r="0.59"/><circle cx="199.6" cy="248.7" r="0.54"/><circle cx="226.4" cy="245.2" r="0.55"/><circle cx="235.7" cy="234.7" r="0.44"/><circle cx="268.4" cy="260.9" r="0.48"/><circle cx="254.3" cy="262.8" r="0.49"/><circle cx="208.8" cy="227.7" r="0.39"/><circle cx="205.8" cy="270.4" r="0.71"/><circle cx="237.9" cy="274.2" r="0.40"/><circle cx="230.8" cy="273.9" r="0.47"/><circle cx="186.9" cy="271.6" r="0.59"/><circle cx="263.3" cy="221.0" r="0.66"/><circle cx="234.0" cy="267.7" r="0.49"/><circle cx="187.4" cy="253.8" r="0.50"/><circle cx="198.1" cy="225.2" r="0.42"/><circle cx="235.8" cy="262.4" r="0.42"/><circle cx="201.0" cy="265.1" r="0.47"/><circle cx="234.2" cy="227.2" r="0.65"/><circle cx="233.7" cy="221.3" r="0.50"/><circle cx="241.1" cy="230.2" r="0.43"/><circle cx="218.2" cy="217.3" r="0.40"/><circle cx="194.6" cy="233.9" r="0.65"/><circle cx="259.8" cy="239.6" r="0.63"/><circle cx="254.0" cy="274.2" r="0.46"/><circle cx="243.6" cy="269.5" r="0.63"/><circle cx="188.6" cy="265.8" r="0.64"/><circle cx="235.0" cy="218.5" r="0.41"/><circle cx="185.6" cy="249.0" r="0.58"/><circle cx="193.5" cy="265.8" r="0.52"/><circle cx="196.6" cy="251.0" r="0.47"/><circle cx="203.0" cy="228.6" r="0.65"/><circle cx="193.3" cy="230.1" r="0.43"/><circle cx="240.8" cy="256.4" r="0.53"/><circle cx="197.9" cy="217.2" r="0.69"/><circle cx="235.4" cy="219.6" r="0.60"/><circle cx="254.8" cy="228.2" r="0.70"/><circle cx="199.1" cy="242.3" r="0.53"/><circle cx="265.6" cy="244.7" r="0.63"/><circle cx="245.4" cy="232.9" r="0.54"/><circle cx="223.6" cy="235.8" r="0.45"/><circle cx="198.7" cy="275.0" r="0.69"/><circle cx="198.5" cy="275.3" r="0.50"/><circle cx="248.6" cy="243.9" r="0.54"/><circle cx="220.6" cy="218.0" r="0.56"/><circle cx="206.2" cy="270.9" r="0.59"/><circle cx="208.6" cy="266.0" r="0.58"/><circle cx="238.2" cy="260.0" r="0.63"/><circle cx="203.1" cy="267.8" r="0.63"/><circle cx="248.5" cy="260.4" r="0.46"/><circle cx="267.1" cy="259.4" r="0.69"/><circle cx="208.8" cy="234.3" r="0.68"/><circle cx="268.5" cy="257.7" r="0.43"/><circle cx="209.1" cy="248.4" r="0.39"/></g>
<rect x="185" y="216" width="83.69999999999999" height="59.7" filter="url(#mottL)" opacity="0.5"/>
</g>
<clipPath id="ci4"><rect x="271.1" y="216" width="86.69999999999999" height="59.7"/></clipPath>
<g clip-path="url(#ci4)">
<rect x="269.10" y="214.00" width="90.70" height="63.70" fill="#e9dedc" stroke="none" stroke-width="1"/>
<g filter="url(#warp2)">
<ellipse cx="348.8" cy="229.2" rx="6.0" ry="12.9" fill="#d6d6e6" opacity="0.95" transform="rotate(0 348.8 229.2)"/>
<ellipse cx="324.5" cy="262.1" rx="5.4" ry="9.3" fill="#d6d6e6" opacity="0.95" transform="rotate(0 324.5 262.1)"/>
<ellipse cx="303.8" cy="257.8" rx="4.6" ry="3.4" fill="#d6d6e6" opacity="0.95" transform="rotate(0 303.8 257.8)"/>
<ellipse cx="282.3" cy="227.0" rx="5.4" ry="2.9" fill="#d6d6e6" opacity="0.95" transform="rotate(0 282.3 227.0)"/>
<ellipse cx="322.4" cy="237.0" rx="4.0" ry="4.6" fill="#d6d6e6" opacity="0.95" transform="rotate(0 322.4 237.0)"/>
<ellipse cx="328.1" cy="244.9" rx="3.1" ry="4.6" fill="#d6d6e6" opacity="0.95" transform="rotate(0 328.1 244.9)"/>
<ellipse cx="348.1" cy="269.2" rx="4.6" ry="4.6" fill="#d6d6e6" opacity="0.95" transform="rotate(0 348.1 269.2)"/>
<ellipse cx="293.8" cy="217.7" rx="4.6" ry="1.4" fill="#d6d6e6" opacity="0.95" transform="rotate(0 293.8 217.7)"/>
<ellipse cx="296.6" cy="237.8" rx="17.2" ry="16.5" fill="#e3beb3" opacity="0.95" transform="rotate(-10 296.6 237.8)"/>
<ellipse cx="296.6" cy="237.8" rx="7.2" ry="6.9" fill="#f3e7e1" opacity="1" transform="rotate(-10 296.6 237.8)"/>
<ellipse cx="276.9" cy="242.8" rx="7.9" ry="10.7" fill="#e6c4ba" opacity="0.95" transform="rotate(0 276.9 242.8)"/>
<ellipse cx="276.9" cy="242.8" rx="2.7" ry="3.6" fill="#f3e7e1" opacity="1" transform="rotate(0 276.9 242.8)"/>
<ellipse cx="283.7" cy="219.2" rx="13.6" ry="4.3" fill="#e9cac0" opacity="0.95" transform="rotate(0 283.7 219.2)"/>
<ellipse cx="283.7" cy="219.2" rx="0.7" ry="0.2" fill="#f3e7e1" opacity="1" transform="rotate(0 283.7 219.2)"/>
<ellipse cx="310.9" cy="219.9" rx="7.9" ry="4.3" fill="#e3beb3" opacity="0.95" transform="rotate(0 310.9 219.9)"/>
<ellipse cx="310.9" cy="219.9" rx="0.4" ry="0.2" fill="#f3e7e1" opacity="1" transform="rotate(0 310.9 219.9)"/>
<ellipse cx="329.8" cy="229.2" rx="13.2" ry="11.7" fill="#e3beb3" opacity="0.95" transform="rotate(10 329.8 229.2)"/>
<ellipse cx="329.8" cy="229.2" rx="5.3" ry="4.7" fill="#f3e7e1" opacity="1" transform="rotate(10 329.8 229.2)"/>
<ellipse cx="312.6" cy="247.1" rx="8.9" ry="9.2" fill="#e9cac0" opacity="0.95" transform="rotate(0 312.6 247.1)"/>
<ellipse cx="312.6" cy="247.1" rx="3.4" ry="3.5" fill="#f3e7e1" opacity="1" transform="rotate(0 312.6 247.1)"/>
<ellipse cx="340.2" cy="251.3" rx="12.0" ry="13.2" fill="#e6c4ba" opacity="0.95" transform="rotate(-10 340.2 251.3)"/>
<ellipse cx="340.2" cy="251.3" rx="4.8" ry="5.3" fill="#f3e7e1" opacity="1" transform="rotate(-10 340.2 251.3)"/>
<ellipse cx="310.2" cy="269.2" rx="16.5" ry="8.3" fill="#e9cac0" opacity="0.95" transform="rotate(0 310.2 269.2)"/>
<ellipse cx="310.2" cy="269.2" rx="5.9" ry="3.0" fill="#f3e7e1" opacity="1" transform="rotate(0 310.2 269.2)"/>
<ellipse cx="280.9" cy="267.1" rx="12.9" ry="10.3" fill="#e6c4ba" opacity="0.95" transform="rotate(0 280.9 267.1)"/>
<ellipse cx="280.9" cy="267.1" rx="4.1" ry="3.3" fill="#f3e7e1" opacity="1" transform="rotate(0 280.9 267.1)"/>
<ellipse cx="336.7" cy="272.1" rx="7.9" ry="4.6" fill="#e9cac0" opacity="0.95" transform="rotate(0 336.7 272.1)"/>
<ellipse cx="336.7" cy="272.1" rx="0.4" ry="0.2" fill="#f3e7e1" opacity="1" transform="rotate(0 336.7 272.1)"/>
<ellipse cx="353.8" cy="261.4" rx="6.0" ry="10.3" fill="#e9cac0" opacity="0.95" transform="rotate(0 353.8 261.4)"/>
<ellipse cx="353.8" cy="261.4" rx="2.0" ry="3.5" fill="#f3e7e1" opacity="1" transform="rotate(0 353.8 261.4)"/>
<ellipse cx="357.0" cy="229.2" rx="2.6" ry="10.3" fill="#e6c4ba" opacity="0.95" transform="rotate(0 357.0 229.2)"/>
<ellipse cx="357.0" cy="229.2" rx="0.1" ry="0.5" fill="#f3e7e1" opacity="1" transform="rotate(0 357.0 229.2)"/>
</g>
<g fill="#8f3c2d" opacity="0.92" filter="url(#dotblur)"><circle cx="312.3" cy="233.5" r="0.66"/><circle cx="312.0" cy="237.6" r="0.69"/><circle cx="313.1" cy="237.7" r="0.73"/><circle cx="312.7" cy="241.0" r="0.93"/><circle cx="311.7" cy="239.4" r="0.88"/><circle cx="310.8" cy="243.0" r="0.77"/><circle cx="311.6" cy="242.9" r="0.79"/><circle cx="310.3" cy="246.4" r="0.87"/><circle cx="308.3" cy="248.0" r="0.73"/><circle cx="309.7" cy="246.8" r="0.99"/><circle cx="307.8" cy="248.1" r="0.86"/><circle cx="307.7" cy="249.4" r="0.79"/><circle cx="305.4" cy="251.1" r="0.72"/><circle cx="302.6" cy="251.6" r="0.67"/><circle cx="303.7" cy="251.0" r="0.89"/><circle cx="302.9" cy="251.7" r="0.85"/><circle cx="299.1" cy="252.5" r="0.94"/><circle cx="295.6" cy="252.6" r="0.98"/><circle cx="294.6" cy="253.6" r="0.88"/><circle cx="292.8" cy="252.3" r="0.97"/><circle cx="293.7" cy="253.4" r="0.66"/><circle cx="294.3" cy="253.2" r="0.85"/><circle cx="290.6" cy="251.7" r="0.79"/><circle cx="288.8" cy="251.9" r="0.99"/><circle cx="287.3" cy="250.4" r="0.87"/><circle cx="287.0" cy="249.7" r="0.80"/><circle cx="285.9" cy="250.4" r="0.94"/><circle cx="283.1" cy="246.9" r="0.92"/><circle cx="284.8" cy="248.3" r="0.87"/><circle cx="282.5" cy="245.5" r="0.77"/><circle cx="282.1" cy="244.3" r="0.68"/><circle cx="280.9" cy="241.7" r="0.99"/><circle cx="281.2" cy="243.1" r="0.66"/><circle cx="281.4" cy="242.0" r="0.72"/><circle cx="280.9" cy="239.2" r="0.91"/><circle cx="280.1" cy="236.0" r="0.92"/><circle cx="281.1" cy="236.7" r="0.94"/><circle cx="281.3" cy="234.3" r="0.90"/><circle cx="281.8" cy="233.1" r="0.78"/><circle cx="282.7" cy="231.0" r="0.76"/><circle cx="282.0" cy="232.2" r="0.83"/><circle cx="282.9" cy="230.1" r="0.71"/><circle cx="283.8" cy="228.4" r="0.84"/><circle cx="284.8" cy="227.8" r="0.74"/><circle cx="287.2" cy="225.7" r="0.81"/><circle cx="288.5" cy="225.1" r="0.98"/><circle cx="287.9" cy="225.0" r="0.82"/><circle cx="290.5" cy="223.3" r="0.75"/><circle cx="291.1" cy="223.1" r="1.01"/><circle cx="293.4" cy="222.2" r="0.89"/><circle cx="295.2" cy="221.9" r="0.88"/><circle cx="297.8" cy="222.7" r="0.79"/><circle cx="296.9" cy="222.8" r="0.93"/><circle cx="299.4" cy="222.3" r="1.02"/><circle cx="298.6" cy="222.2" r="0.95"/><circle cx="304.4" cy="224.5" r="0.73"/><circle cx="305.6" cy="225.5" r="0.67"/><circle cx="304.4" cy="223.7" r="0.66"/><circle cx="305.8" cy="225.3" r="0.73"/><circle cx="308.2" cy="226.8" r="0.89"/><circle cx="307.9" cy="227.0" r="0.86"/><circle cx="309.0" cy="227.3" r="0.89"/><circle cx="309.8" cy="229.0" r="0.98"/><circle cx="311.3" cy="229.9" r="0.80"/><circle cx="310.9" cy="230.7" r="0.79"/><circle cx="312.5" cy="233.8" r="1.00"/></g>
<g fill="#7e2f22" opacity="0.92" filter="url(#dotblur)"><circle cx="309.2" cy="237.2" r="0.81"/><circle cx="308.5" cy="238.0" r="0.86"/><circle cx="308.0" cy="239.4" r="1.02"/><circle cx="308.0" cy="241.4" r="0.67"/><circle cx="307.7" cy="244.1" r="0.67"/><circle cx="308.1" cy="243.0" r="1.02"/><circle cx="305.4" cy="245.1" r="0.74"/><circle cx="306.5" cy="245.9" r="0.89"/><circle cx="303.1" cy="247.4" r="0.77"/><circle cx="301.3" cy="248.2" r="0.73"/><circle cx="300.6" cy="249.4" r="0.74"/><circle cx="298.8" cy="249.4" r="0.87"/><circle cx="295.8" cy="249.2" r="0.85"/><circle cx="294.2" cy="249.6" r="0.81"/><circle cx="294.5" cy="249.4" r="1.01"/><circle cx="290.9" cy="248.3" r="0.92"/><circle cx="290.7" cy="247.3" r="1.02"/><circle cx="287.7" cy="246.2" r="0.67"/><circle cx="286.5" cy="245.3" r="0.67"/><circle cx="285.1" cy="242.7" r="0.72"/><circle cx="284.7" cy="242.0" r="0.77"/><circle cx="285.8" cy="242.0" r="0.73"/><circle cx="284.3" cy="238.7" r="0.81"/><circle cx="284.3" cy="238.3" r="0.70"/><circle cx="285.0" cy="237.1" r="0.79"/><circle cx="286.0" cy="233.7" r="0.66"/><circle cx="285.4" cy="233.3" r="0.81"/><circle cx="287.5" cy="229.2" r="0.94"/><circle cx="288.3" cy="228.6" r="0.90"/><circle cx="289.0" cy="228.7" r="0.66"/><circle cx="290.9" cy="227.4" r="0.97"/><circle cx="293.0" cy="225.9" r="0.99"/><circle cx="294.7" cy="225.6" r="0.94"/><circle cx="296.3" cy="225.9" r="0.71"/><circle cx="298.6" cy="226.0" r="1.01"/><circle cx="298.7" cy="226.4" r="0.79"/><circle cx="299.7" cy="227.0" r="0.80"/><circle cx="302.5" cy="226.7" r="0.66"/><circle cx="305.8" cy="229.0" r="0.78"/><circle cx="305.8" cy="230.0" r="0.74"/><circle cx="305.5" cy="229.7" r="0.97"/><circle cx="307.5" cy="232.3" r="0.77"/><circle cx="308.9" cy="234.8" r="0.72"/></g>
<g fill="#7e2f22" opacity="0.92" filter="url(#dotblur)"><circle cx="304.5" cy="235.8" r="0.73"/><circle cx="305.3" cy="238.0" r="0.94"/><circle cx="303.9" cy="241.3" r="0.75"/><circle cx="303.6" cy="242.6" r="0.85"/><circle cx="301.0" cy="244.2" r="0.99"/><circle cx="297.4" cy="246.6" r="0.82"/><circle cx="294.8" cy="245.4" r="1.02"/><circle cx="293.2" cy="245.5" r="0.78"/><circle cx="291.2" cy="243.5" r="0.70"/><circle cx="290.8" cy="243.3" r="0.70"/><circle cx="288.6" cy="241.1" r="0.85"/><circle cx="287.9" cy="237.8" r="0.91"/><circle cx="287.7" cy="235.1" r="0.76"/><circle cx="290.5" cy="232.7" r="0.91"/><circle cx="289.6" cy="231.6" r="0.82"/><circle cx="293.4" cy="229.6" r="0.89"/><circle cx="295.0" cy="230.0" r="0.96"/><circle cx="298.2" cy="229.0" r="0.88"/><circle cx="302.0" cy="231.0" r="0.95"/><circle cx="302.8" cy="230.7" r="0.74"/><circle cx="304.8" cy="234.1" r="0.88"/></g>
<g fill="#7e2f22" opacity="0.92" filter="url(#dotblur)"><circle cx="283.6" cy="244.2" r="0.87"/><circle cx="283.4" cy="244.6" r="0.68"/><circle cx="284.1" cy="247.0" r="0.76"/><circle cx="283.0" cy="247.9" r="0.97"/><circle cx="282.3" cy="248.3" r="0.70"/><circle cx="280.2" cy="251.3" r="1.00"/><circle cx="280.4" cy="251.9" r="0.81"/><circle cx="278.9" cy="251.3" r="0.76"/><circle cx="277.3" cy="252.0" r="0.86"/><circle cx="277.1" cy="252.4" r="0.74"/><circle cx="274.3" cy="252.2" r="0.90"/><circle cx="275.2" cy="252.8" r="0.83"/><circle cx="274.4" cy="251.2" r="0.74"/><circle cx="271.7" cy="249.1" r="0.73"/><circle cx="271.2" cy="247.8" r="0.97"/><circle cx="270.9" cy="247.2" r="0.70"/><circle cx="270.6" cy="246.7" r="0.97"/><circle cx="270.0" cy="243.9" r="0.83"/><circle cx="269.5" cy="242.1" r="0.66"/><circle cx="269.7" cy="242.4" r="0.91"/><circle cx="270.6" cy="237.6" r="0.87"/><circle cx="270.9" cy="237.6" r="0.73"/><circle cx="270.3" cy="237.3" r="0.86"/><circle cx="271.6" cy="235.8" r="0.94"/><circle cx="273.9" cy="234.0" r="0.84"/><circle cx="274.9" cy="232.8" r="0.78"/><circle cx="277.1" cy="232.7" r="0.72"/><circle cx="277.5" cy="232.5" r="0.91"/><circle cx="279.3" cy="233.0" r="0.79"/><circle cx="280.2" cy="234.6" r="0.94"/><circle cx="280.1" cy="233.2" r="0.92"/><circle cx="281.7" cy="236.2" r="0.92"/><circle cx="283.0" cy="238.0" r="0.70"/><circle cx="283.1" cy="238.7" r="0.66"/><circle cx="283.2" cy="238.8" r="0.69"/><circle cx="284.1" cy="240.9" r="0.90"/></g>
<g fill="#7e2f22" opacity="0.92" filter="url(#dotblur)"><circle cx="282.6" cy="242.5" r="0.76"/><circle cx="281.4" cy="244.9" r="0.95"/><circle cx="280.3" cy="246.8" r="0.84"/><circle cx="280.4" cy="248.5" r="0.84"/><circle cx="279.4" cy="248.9" r="1.02"/><circle cx="277.8" cy="250.1" r="0.88"/><circle cx="275.3" cy="249.4" r="0.73"/><circle cx="274.5" cy="249.9" r="0.69"/><circle cx="274.3" cy="248.2" r="0.67"/><circle cx="272.5" cy="247.1" r="0.87"/><circle cx="272.3" cy="243.9" r="0.82"/><circle cx="271.2" cy="243.1" r="0.97"/><circle cx="271.2" cy="240.7" r="0.80"/><circle cx="273.1" cy="237.5" r="1.01"/><circle cx="273.0" cy="237.9" r="1.01"/><circle cx="275.0" cy="236.6" r="0.87"/><circle cx="276.4" cy="235.8" r="0.92"/><circle cx="278.9" cy="236.0" r="0.69"/><circle cx="278.8" cy="237.0" r="1.01"/><circle cx="280.2" cy="238.0" r="0.89"/><circle cx="282.0" cy="238.9" r="0.73"/><circle cx="282.3" cy="239.7" r="0.88"/></g>
<g fill="#8f3c2d" opacity="0.92" filter="url(#dotblur)"><circle cx="280.1" cy="242.5" r="0.78"/><circle cx="279.4" cy="245.9" r="0.86"/><circle cx="278.7" cy="247.6" r="0.76"/><circle cx="275.9" cy="246.8" r="0.72"/><circle cx="274.2" cy="246.1" r="0.86"/><circle cx="273.4" cy="242.1" r="0.77"/><circle cx="274.4" cy="239.1" r="0.98"/><circle cx="276.7" cy="238.5" r="0.78"/><circle cx="277.5" cy="238.1" r="0.68"/><circle cx="279.7" cy="240.1" r="0.68"/></g>
<g fill="#873629" opacity="0.92" filter="url(#dotblur)"><circle cx="295.3" cy="218.3" r="0.81"/><circle cx="295.8" cy="220.3" r="0.73"/><circle cx="294.7" cy="220.3" r="0.77"/><circle cx="294.2" cy="221.4" r="0.68"/><circle cx="291.8" cy="222.3" r="0.91"/><circle cx="289.7" cy="222.1" r="0.81"/><circle cx="289.7" cy="221.8" r="0.92"/><circle cx="285.0" cy="222.6" r="0.81"/><circle cx="285.6" cy="222.7" r="0.95"/><circle cx="281.0" cy="222.5" r="0.79"/><circle cx="279.2" cy="222.5" r="0.90"/><circle cx="279.1" cy="222.6" r="0.81"/><circle cx="275.8" cy="221.5" r="0.99"/><circle cx="274.2" cy="221.0" r="0.86"/><circle cx="272.5" cy="220.9" r="0.98"/><circle cx="272.5" cy="221.0" r="0.95"/><circle cx="271.6" cy="219.3" r="0.92"/><circle cx="272.4" cy="219.0" r="0.72"/><circle cx="271.6" cy="217.8" r="0.91"/><circle cx="273.7" cy="216.8" r="0.70"/><circle cx="274.2" cy="217.5" r="0.99"/><circle cx="277.6" cy="216.0" r="1.01"/><circle cx="278.0" cy="215.3" r="0.74"/><circle cx="281.2" cy="215.1" r="0.80"/><circle cx="284.0" cy="214.8" r="0.69"/><circle cx="284.9" cy="215.5" r="0.82"/><circle cx="287.6" cy="215.0" r="0.70"/><circle cx="287.9" cy="215.5" r="0.73"/><circle cx="291.8" cy="215.6" r="0.67"/><circle cx="291.8" cy="216.0" r="0.70"/><circle cx="292.9" cy="216.4" r="0.95"/><circle cx="295.0" cy="217.4" r="0.66"/><circle cx="295.7" cy="218.6" r="0.96"/></g>
<g fill="#8f3c2d" opacity="0.92" filter="url(#dotblur)"><circle cx="290.9" cy="219.0" r="0.69"/><circle cx="291.1" cy="219.6" r="0.88"/><circle cx="289.1" cy="219.9" r="1.02"/><circle cx="287.3" cy="220.6" r="0.82"/><circle cx="283.2" cy="220.7" r="0.81"/><circle cx="281.3" cy="220.7" r="0.91"/><circle cx="280.1" cy="221.6" r="0.88"/><circle cx="277.7" cy="219.6" r="0.88"/><circle cx="277.0" cy="219.5" r="0.93"/><circle cx="277.3" cy="218.2" r="1.02"/><circle cx="277.6" cy="217.5" r="0.69"/><circle cx="279.0" cy="217.3" r="0.79"/><circle cx="281.7" cy="216.4" r="0.66"/><circle cx="285.1" cy="217.1" r="0.68"/><circle cx="286.1" cy="217.2" r="1.00"/><circle cx="289.2" cy="218.2" r="0.79"/><circle cx="289.9" cy="218.6" r="0.95"/></g>
<g fill="#873629" opacity="0.92" filter="url(#dotblur)"><circle cx="286.1" cy="218.7" r="0.81"/><circle cx="283.0" cy="219.7" r="0.97"/><circle cx="281.7" cy="218.6" r="0.84"/><circle cx="283.7" cy="219.0" r="0.89"/></g>
<g fill="#7e2f22" opacity="0.92" filter="url(#dotblur)"><circle cx="318.3" cy="219.8" r="0.90"/><circle cx="316.8" cy="221.8" r="0.97"/><circle cx="317.4" cy="221.4" r="0.82"/><circle cx="315.2" cy="222.6" r="0.97"/><circle cx="312.6" cy="223.6" r="0.79"/><circle cx="311.5" cy="223.5" r="0.75"/><circle cx="310.8" cy="223.2" r="0.94"/><circle cx="308.0" cy="222.7" r="0.70"/><circle cx="306.4" cy="222.4" r="0.78"/><circle cx="305.0" cy="221.8" r="0.84"/><circle cx="304.4" cy="221.6" r="0.66"/><circle cx="304.5" cy="220.3" r="1.01"/><circle cx="303.9" cy="218.4" r="0.68"/><circle cx="305.2" cy="217.0" r="0.92"/><circle cx="307.1" cy="216.6" r="0.78"/><circle cx="306.8" cy="217.3" r="0.97"/><circle cx="309.7" cy="215.5" r="0.72"/><circle cx="311.2" cy="216.5" r="0.95"/><circle cx="314.5" cy="216.7" r="1.00"/><circle cx="316.2" cy="217.9" r="0.66"/><circle cx="316.7" cy="218.1" r="0.71"/><circle cx="317.6" cy="218.9" r="0.95"/></g>
<g fill="#8f3c2d" opacity="0.92" filter="url(#dotblur)"><circle cx="314.4" cy="219.9" r="0.73"/><circle cx="314.3" cy="221.2" r="0.96"/><circle cx="312.6" cy="221.7" r="1.02"/><circle cx="310.1" cy="222.3" r="0.70"/><circle cx="308.0" cy="220.8" r="0.94"/><circle cx="307.6" cy="220.7" r="0.98"/><circle cx="306.8" cy="219.5" r="0.83"/><circle cx="308.5" cy="217.7" r="0.81"/><circle cx="309.4" cy="217.2" r="1.02"/><circle cx="312.6" cy="218.6" r="0.85"/><circle cx="314.5" cy="219.1" r="0.78"/></g>
<g fill="#873629" opacity="0.92" filter="url(#dotblur)"><circle cx="312.2" cy="220.0" r="0.88"/><circle cx="308.8" cy="219.7" r="0.89"/></g>
<g fill="#8f3c2d" opacity="0.92" filter="url(#dotblur)"><circle cx="342.4" cy="230.0" r="0.69"/><circle cx="342.0" cy="231.9" r="0.91"/><circle cx="341.0" cy="234.6" r="1.02"/><circle cx="339.3" cy="236.2" r="0.91"/><circle cx="340.0" cy="236.7" r="0.80"/><circle cx="337.8" cy="237.7" r="0.92"/><circle cx="336.1" cy="238.8" r="1.01"/><circle cx="334.5" cy="238.9" r="0.89"/><circle cx="335.6" cy="238.8" r="1.00"/><circle cx="331.2" cy="240.0" r="0.90"/><circle cx="332.2" cy="239.4" r="0.93"/><circle cx="329.6" cy="240.7" r="0.77"/><circle cx="329.7" cy="240.4" r="0.93"/><circle cx="326.8" cy="240.1" r="0.88"/><circle cx="325.0" cy="239.5" r="0.77"/><circle cx="322.6" cy="237.4" r="0.74"/><circle cx="323.6" cy="238.6" r="0.69"/><circle cx="321.0" cy="236.5" r="0.88"/><circle cx="320.4" cy="235.0" r="0.93"/><circle cx="319.2" cy="234.2" r="0.99"/><circle cx="317.2" cy="231.4" r="0.85"/><circle cx="317.5" cy="230.7" r="0.81"/><circle cx="318.4" cy="230.0" r="0.82"/><circle cx="317.5" cy="229.6" r="0.80"/><circle cx="317.4" cy="227.9" r="0.83"/><circle cx="318.2" cy="226.0" r="0.83"/><circle cx="318.5" cy="224.8" r="0.79"/><circle cx="320.8" cy="222.4" r="0.71"/><circle cx="319.8" cy="223.2" r="0.82"/><circle cx="322.5" cy="219.7" r="1.02"/><circle cx="323.7" cy="219.8" r="0.73"/><circle cx="324.7" cy="219.1" r="0.97"/><circle cx="323.7" cy="219.3" r="0.92"/><circle cx="325.6" cy="218.5" r="0.85"/><circle cx="328.9" cy="218.2" r="0.94"/><circle cx="330.1" cy="218.1" r="0.72"/><circle cx="331.6" cy="218.7" r="0.78"/><circle cx="332.1" cy="218.8" r="0.71"/><circle cx="334.7" cy="219.4" r="1.01"/><circle cx="336.0" cy="220.2" r="0.92"/><circle cx="338.6" cy="221.6" r="0.96"/><circle cx="338.6" cy="222.4" r="1.01"/><circle cx="339.7" cy="222.4" r="1.02"/><circle cx="340.4" cy="223.7" r="1.00"/><circle cx="341.2" cy="225.9" r="0.96"/><circle cx="342.1" cy="227.4" r="0.78"/><circle cx="342.0" cy="228.5" r="0.90"/><circle cx="342.3" cy="230.2" r="0.72"/></g>
<g fill="#8f3c2d" opacity="0.92" filter="url(#dotblur)"><circle cx="338.7" cy="230.3" r="0.67"/><circle cx="337.4" cy="233.8" r="0.87"/><circle cx="338.2" cy="233.7" r="1.01"/><circle cx="336.1" cy="235.4" r="0.95"/><circle cx="335.8" cy="235.1" r="0.91"/><circle cx="332.9" cy="236.7" r="0.97"/><circle cx="331.1" cy="237.2" r="0.95"/><circle cx="331.3" cy="237.7" r="0.85"/><circle cx="328.9" cy="237.5" r="0.82"/><circle cx="326.7" cy="237.5" r="1.00"/><circle cx="325.5" cy="236.5" r="0.96"/><circle cx="324.1" cy="234.7" r="0.81"/><circle cx="323.4" cy="234.1" r="0.74"/><circle cx="320.6" cy="231.0" r="0.97"/><circle cx="320.6" cy="231.8" r="0.99"/><circle cx="320.9" cy="229.7" r="0.94"/><circle cx="320.3" cy="227.4" r="0.71"/><circle cx="321.0" cy="224.8" r="0.84"/><circle cx="322.3" cy="223.8" r="0.71"/><circle cx="323.2" cy="222.7" r="0.66"/><circle cx="323.5" cy="222.1" r="0.73"/><circle cx="326.7" cy="221.9" r="0.86"/><circle cx="327.7" cy="221.4" r="0.74"/><circle cx="328.9" cy="221.2" r="0.84"/><circle cx="331.6" cy="220.6" r="0.70"/><circle cx="333.8" cy="221.5" r="1.01"/><circle cx="333.7" cy="222.2" r="0.87"/><circle cx="334.5" cy="221.9" r="0.78"/><circle cx="336.7" cy="223.9" r="0.86"/><circle cx="337.3" cy="226.0" r="0.82"/><circle cx="338.5" cy="227.1" r="0.99"/><circle cx="338.8" cy="228.6" r="0.98"/></g>
<g fill="#7e2f22" opacity="0.92" filter="url(#dotblur)"><circle cx="335.6" cy="231.1" r="0.84"/><circle cx="334.3" cy="232.7" r="0.95"/><circle cx="333.2" cy="234.4" r="0.75"/><circle cx="330.6" cy="235.6" r="0.85"/><circle cx="326.6" cy="234.9" r="0.73"/><circle cx="326.1" cy="234.0" r="0.75"/><circle cx="324.8" cy="232.2" r="0.82"/><circle cx="323.5" cy="229.4" r="0.80"/><circle cx="323.0" cy="227.6" r="0.77"/><circle cx="324.7" cy="225.7" r="0.99"/><circle cx="326.8" cy="224.4" r="0.91"/><circle cx="329.4" cy="222.9" r="0.92"/><circle cx="333.1" cy="223.6" r="0.84"/><circle cx="334.6" cy="225.0" r="0.68"/><circle cx="336.3" cy="229.0" r="0.89"/></g>
<g fill="#873629" opacity="0.92" filter="url(#dotblur)"><circle cx="320.5" cy="248.2" r="0.78"/><circle cx="320.9" cy="248.0" r="0.99"/><circle cx="320.6" cy="251.2" r="0.67"/><circle cx="318.8" cy="252.5" r="0.71"/><circle cx="318.5" cy="253.6" r="0.70"/><circle cx="318.5" cy="253.1" r="0.76"/><circle cx="316.8" cy="253.9" r="0.86"/><circle cx="315.5" cy="255.6" r="0.76"/><circle cx="314.6" cy="255.4" r="0.93"/><circle cx="311.2" cy="256.0" r="0.86"/><circle cx="311.3" cy="254.7" r="0.96"/><circle cx="309.7" cy="255.4" r="0.75"/><circle cx="308.4" cy="254.9" r="0.75"/><circle cx="306.8" cy="253.4" r="0.80"/><circle cx="307.1" cy="252.4" r="0.90"/><circle cx="305.8" cy="251.5" r="0.78"/><circle cx="305.2" cy="248.7" r="0.77"/><circle cx="305.2" cy="249.2" r="0.96"/><circle cx="304.2" cy="245.2" r="1.00"/><circle cx="304.9" cy="244.7" r="1.00"/><circle cx="305.1" cy="244.1" r="0.83"/><circle cx="306.5" cy="241.4" r="0.86"/><circle cx="306.2" cy="241.9" r="0.77"/><circle cx="307.4" cy="240.4" r="0.79"/><circle cx="309.3" cy="239.1" r="0.93"/><circle cx="310.4" cy="239.4" r="0.68"/><circle cx="312.5" cy="238.9" r="0.89"/><circle cx="313.6" cy="238.7" r="0.82"/><circle cx="314.8" cy="238.2" r="1.01"/><circle cx="316.6" cy="239.1" r="0.93"/><circle cx="317.8" cy="240.3" r="0.80"/><circle cx="318.9" cy="241.7" r="0.70"/><circle cx="319.0" cy="242.9" r="0.80"/><circle cx="320.2" cy="242.6" r="0.97"/><circle cx="321.2" cy="245.4" r="0.80"/></g>
<g fill="#873629" opacity="0.92" filter="url(#dotblur)"><circle cx="318.5" cy="247.1" r="0.97"/><circle cx="317.7" cy="249.1" r="0.95"/><circle cx="316.9" cy="251.2" r="0.89"/><circle cx="317.4" cy="251.8" r="0.72"/><circle cx="314.4" cy="252.3" r="0.99"/><circle cx="312.2" cy="253.7" r="0.79"/><circle cx="311.3" cy="252.9" r="0.88"/><circle cx="311.2" cy="253.2" r="0.80"/><circle cx="308.0" cy="251.3" r="0.83"/><circle cx="307.4" cy="250.6" r="0.84"/><circle cx="307.0" cy="249.0" r="0.76"/><circle cx="306.8" cy="246.8" r="1.02"/><circle cx="306.0" cy="245.8" r="0.77"/><circle cx="307.7" cy="244.3" r="0.77"/><circle cx="309.6" cy="242.0" r="0.84"/><circle cx="309.7" cy="241.7" r="0.80"/><circle cx="311.4" cy="241.4" r="0.72"/><circle cx="313.5" cy="241.2" r="0.82"/><circle cx="315.1" cy="241.8" r="0.96"/><circle cx="315.9" cy="242.2" r="1.00"/><circle cx="317.4" cy="242.4" r="1.01"/><circle cx="318.6" cy="245.2" r="0.77"/></g>
<g fill="#7e2f22" opacity="0.92" filter="url(#dotblur)"><circle cx="316.7" cy="247.1" r="0.83"/><circle cx="315.0" cy="250.6" r="0.92"/><circle cx="312.9" cy="250.8" r="0.84"/><circle cx="311.9" cy="251.5" r="1.01"/><circle cx="309.5" cy="250.5" r="0.90"/><circle cx="309.0" cy="247.3" r="0.92"/><circle cx="309.4" cy="245.4" r="0.97"/><circle cx="311.2" cy="242.4" r="0.86"/><circle cx="314.2" cy="242.5" r="0.78"/><circle cx="316.5" cy="244.5" r="0.70"/></g>
<g fill="#873629" opacity="0.92" filter="url(#dotblur)"><circle cx="351.1" cy="249.1" r="0.72"/><circle cx="350.9" cy="249.1" r="0.97"/><circle cx="351.0" cy="250.9" r="0.92"/><circle cx="350.8" cy="253.1" r="0.95"/><circle cx="350.1" cy="256.6" r="0.96"/><circle cx="350.2" cy="258.0" r="0.90"/><circle cx="349.5" cy="256.7" r="1.00"/><circle cx="348.9" cy="259.9" r="0.69"/><circle cx="348.4" cy="261.0" r="0.75"/><circle cx="346.3" cy="261.6" r="0.87"/><circle cx="344.9" cy="262.8" r="0.90"/><circle cx="343.4" cy="262.5" r="0.79"/><circle cx="343.0" cy="263.1" r="0.81"/><circle cx="341.9" cy="263.9" r="0.97"/><circle cx="342.2" cy="263.9" r="0.75"/><circle cx="337.8" cy="262.8" r="1.00"/><circle cx="335.4" cy="261.8" r="0.92"/><circle cx="335.5" cy="262.5" r="0.84"/><circle cx="334.0" cy="261.4" r="0.81"/><circle cx="333.5" cy="261.5" r="0.88"/><circle cx="333.0" cy="259.5" r="0.82"/><circle cx="330.8" cy="257.5" r="0.81"/><circle cx="331.1" cy="258.9" r="0.84"/><circle cx="330.1" cy="254.6" r="1.01"/><circle cx="329.7" cy="254.6" r="1.01"/><circle cx="328.6" cy="252.5" r="0.96"/><circle cx="329.3" cy="251.9" r="0.66"/><circle cx="328.9" cy="250.1" r="0.77"/><circle cx="330.2" cy="246.7" r="0.94"/><circle cx="329.7" cy="247.4" r="0.72"/><circle cx="331.6" cy="244.5" r="0.93"/><circle cx="331.6" cy="242.4" r="0.78"/><circle cx="333.0" cy="241.8" r="0.99"/><circle cx="332.3" cy="242.0" r="0.70"/><circle cx="332.7" cy="241.8" r="0.95"/><circle cx="336.9" cy="240.1" r="0.87"/><circle cx="337.4" cy="239.9" r="0.86"/><circle cx="339.0" cy="239.4" r="0.68"/><circle cx="340.0" cy="239.5" r="0.80"/><circle cx="342.3" cy="239.6" r="0.91"/><circle cx="342.9" cy="239.7" r="1.00"/><circle cx="343.5" cy="239.3" r="0.98"/><circle cx="344.4" cy="240.1" r="0.74"/><circle cx="347.2" cy="242.0" r="0.96"/><circle cx="348.4" cy="243.5" r="0.74"/><circle cx="349.5" cy="244.2" r="0.73"/><circle cx="350.1" cy="244.8" r="0.86"/><circle cx="349.6" cy="245.8" r="0.82"/><circle cx="351.2" cy="246.9" r="0.79"/></g>
<g fill="#7e2f22" opacity="0.92" filter="url(#dotblur)"><circle cx="348.8" cy="248.1" r="0.71"/><circle cx="349.0" cy="252.1" r="0.84"/><circle cx="347.8" cy="253.9" r="0.76"/><circle cx="348.5" cy="255.0" r="0.96"/><circle cx="346.6" cy="257.1" r="0.92"/><circle cx="345.1" cy="258.2" r="0.86"/><circle cx="345.4" cy="259.8" r="0.93"/><circle cx="343.9" cy="259.8" r="0.72"/><circle cx="341.6" cy="260.1" r="0.71"/><circle cx="340.7" cy="260.9" r="0.67"/><circle cx="339.2" cy="260.3" r="0.80"/><circle cx="337.1" cy="260.3" r="0.89"/><circle cx="335.7" cy="259.0" r="0.80"/><circle cx="333.7" cy="256.7" r="0.68"/><circle cx="334.4" cy="257.3" r="0.88"/><circle cx="332.7" cy="255.1" r="0.76"/><circle cx="331.6" cy="253.9" r="0.92"/><circle cx="331.3" cy="250.7" r="0.69"/><circle cx="332.7" cy="248.9" r="0.86"/><circle cx="332.2" cy="247.3" r="0.82"/><circle cx="332.9" cy="246.7" r="0.78"/><circle cx="335.2" cy="244.2" r="0.94"/><circle cx="337.1" cy="243.1" r="1.00"/><circle cx="336.2" cy="242.4" r="1.02"/><circle cx="337.6" cy="242.0" r="0.73"/><circle cx="339.4" cy="242.2" r="0.94"/><circle cx="342.6" cy="242.5" r="0.81"/><circle cx="343.6" cy="243.6" r="0.87"/><circle cx="345.2" cy="243.6" r="0.84"/><circle cx="345.5" cy="244.5" r="0.97"/><circle cx="346.9" cy="246.8" r="0.76"/><circle cx="347.7" cy="248.3" r="0.98"/></g>
<g fill="#873629" opacity="0.92" filter="url(#dotblur)"><circle cx="346.6" cy="249.9" r="0.67"/><circle cx="345.5" cy="252.6" r="0.99"/><circle cx="345.1" cy="255.5" r="0.85"/><circle cx="344.1" cy="256.0" r="0.68"/><circle cx="340.6" cy="258.0" r="0.86"/><circle cx="337.5" cy="256.5" r="0.69"/><circle cx="335.5" cy="255.6" r="0.75"/><circle cx="335.6" cy="254.1" r="0.72"/><circle cx="333.8" cy="251.8" r="1.00"/><circle cx="335.1" cy="248.3" r="0.97"/><circle cx="336.6" cy="246.5" r="0.70"/><circle cx="339.0" cy="244.4" r="0.90"/><circle cx="340.1" cy="245.3" r="0.88"/><circle cx="342.8" cy="246.5" r="0.85"/><circle cx="345.3" cy="247.1" r="0.96"/></g>
<g fill="#7e2f22" opacity="0.92" filter="url(#dotblur)"><circle cx="325.2" cy="270.4" r="0.82"/><circle cx="324.9" cy="268.9" r="0.75"/><circle cx="325.3" cy="270.6" r="0.67"/><circle cx="323.5" cy="273.4" r="0.83"/><circle cx="323.0" cy="273.2" r="0.76"/><circle cx="321.5" cy="274.2" r="0.70"/><circle cx="321.3" cy="273.8" r="0.91"/><circle cx="319.2" cy="275.8" r="0.90"/><circle cx="317.0" cy="275.7" r="1.00"/><circle cx="314.8" cy="276.4" r="0.83"/><circle cx="311.9" cy="277.5" r="0.92"/><circle cx="312.1" cy="277.1" r="0.95"/><circle cx="309.7" cy="276.8" r="0.90"/><circle cx="306.6" cy="276.8" r="0.87"/><circle cx="305.1" cy="275.8" r="0.68"/><circle cx="305.6" cy="276.6" r="1.00"/><circle cx="300.6" cy="275.8" r="0.90"/><circle cx="300.2" cy="274.9" r="0.97"/><circle cx="297.9" cy="274.6" r="0.91"/><circle cx="298.7" cy="274.4" r="0.94"/><circle cx="298.0" cy="272.6" r="0.89"/><circle cx="296.2" cy="272.2" r="0.75"/><circle cx="295.3" cy="271.5" r="0.85"/><circle cx="296.1" cy="271.2" r="0.69"/><circle cx="294.5" cy="269.9" r="0.79"/><circle cx="294.9" cy="267.9" r="0.97"/><circle cx="294.7" cy="268.3" r="1.00"/><circle cx="295.6" cy="267.6" r="0.91"/><circle cx="297.8" cy="265.5" r="0.89"/><circle cx="297.9" cy="264.5" r="0.81"/><circle cx="297.8" cy="264.6" r="0.97"/><circle cx="299.8" cy="263.7" r="0.89"/><circle cx="303.2" cy="261.8" r="0.82"/><circle cx="306.1" cy="262.4" r="0.74"/><circle cx="304.4" cy="262.0" r="0.95"/><circle cx="309.8" cy="261.7" r="0.99"/><circle cx="311.5" cy="261.1" r="0.66"/><circle cx="310.9" cy="261.6" r="0.75"/><circle cx="313.9" cy="261.5" r="0.77"/><circle cx="317.5" cy="263.1" r="0.92"/><circle cx="319.4" cy="262.8" r="0.73"/><circle cx="321.3" cy="263.9" r="0.94"/><circle cx="321.2" cy="263.8" r="0.68"/><circle cx="321.5" cy="264.7" r="0.81"/><circle cx="324.2" cy="265.7" r="0.99"/><circle cx="323.5" cy="266.1" r="0.69"/><circle cx="324.9" cy="266.0" r="0.98"/><circle cx="325.4" cy="269.4" r="0.91"/></g>
<g fill="#8f3c2d" opacity="0.92" filter="url(#dotblur)"><circle cx="320.7" cy="270.1" r="0.68"/><circle cx="320.8" cy="269.6" r="0.98"/><circle cx="320.4" cy="271.5" r="0.66"/><circle cx="320.2" cy="272.3" r="0.69"/><circle cx="318.2" cy="272.3" r="0.89"/><circle cx="315.4" cy="273.8" r="1.01"/><circle cx="312.2" cy="275.3" r="1.02"/><circle cx="309.9" cy="275.3" r="0.99"/><circle cx="308.0" cy="275.0" r="0.81"/><circle cx="305.3" cy="274.1" r="0.81"/><circle cx="304.1" cy="274.7" r="0.98"/><circle cx="301.5" cy="272.9" r="0.74"/><circle cx="301.7" cy="272.2" r="0.84"/><circle cx="300.6" cy="271.5" r="0.72"/><circle cx="298.7" cy="269.9" r="0.99"/><circle cx="298.7" cy="269.8" r="0.86"/><circle cx="299.4" cy="268.5" r="0.97"/><circle cx="299.6" cy="267.6" r="1.02"/><circle cx="300.8" cy="266.0" r="0.72"/><circle cx="303.6" cy="265.0" r="0.93"/><circle cx="303.6" cy="264.1" r="0.93"/><circle cx="306.5" cy="263.7" r="0.91"/><circle cx="308.8" cy="263.7" r="0.94"/><circle cx="311.8" cy="264.1" r="0.98"/><circle cx="312.5" cy="263.6" r="1.01"/><circle cx="317.0" cy="265.1" r="0.94"/><circle cx="318.0" cy="265.4" r="0.70"/><circle cx="318.6" cy="265.3" r="0.86"/><circle cx="320.2" cy="266.5" r="0.92"/><circle cx="320.7" cy="269.1" r="0.66"/></g>
<g fill="#8f3c2d" opacity="0.92" filter="url(#dotblur)"><circle cx="317.7" cy="269.2" r="0.81"/><circle cx="316.4" cy="270.1" r="0.92"/><circle cx="314.6" cy="272.4" r="0.94"/><circle cx="313.1" cy="272.2" r="0.88"/><circle cx="308.4" cy="273.2" r="0.94"/><circle cx="305.5" cy="271.5" r="0.69"/><circle cx="303.9" cy="271.1" r="0.73"/><circle cx="302.1" cy="269.0" r="0.84"/><circle cx="304.1" cy="267.5" r="0.67"/><circle cx="306.2" cy="266.8" r="0.67"/><circle cx="307.8" cy="265.1" r="0.72"/><circle cx="310.8" cy="265.3" r="1.01"/><circle cx="315.9" cy="267.1" r="0.75"/><circle cx="316.7" cy="267.4" r="0.67"/></g>
<g fill="#7e2f22" opacity="0.92" filter="url(#dotblur)"><circle cx="292.7" cy="266.4" r="0.84"/><circle cx="292.9" cy="268.2" r="0.81"/><circle cx="292.8" cy="269.2" r="0.80"/><circle cx="291.5" cy="271.6" r="0.90"/><circle cx="291.7" cy="271.1" r="0.73"/><circle cx="289.2" cy="274.2" r="0.86"/><circle cx="288.0" cy="274.7" r="0.80"/><circle cx="287.1" cy="275.0" r="0.77"/><circle cx="285.3" cy="275.8" r="0.69"/><circle cx="283.4" cy="275.6" r="0.88"/><circle cx="282.6" cy="275.8" r="1.02"/><circle cx="280.4" cy="276.3" r="0.92"/><circle cx="279.1" cy="276.9" r="0.67"/><circle cx="277.4" cy="276.5" r="0.94"/><circle cx="276.1" cy="275.7" r="0.92"/><circle cx="273.5" cy="274.9" r="1.02"/><circle cx="273.7" cy="274.7" r="0.85"/><circle cx="271.1" cy="272.6" r="0.76"/><circle cx="271.2" cy="272.5" r="0.86"/><circle cx="270.0" cy="271.5" r="0.79"/><circle cx="269.4" cy="270.1" r="0.96"/><circle cx="268.9" cy="269.9" r="1.01"/><circle cx="269.1" cy="266.7" r="1.01"/><circle cx="269.7" cy="265.8" r="0.83"/><circle cx="269.6" cy="264.7" r="0.79"/><circle cx="269.8" cy="263.6" r="0.78"/><circle cx="270.8" cy="262.4" r="0.72"/><circle cx="270.8" cy="261.9" r="0.92"/><circle cx="272.2" cy="260.2" r="0.81"/><circle cx="272.9" cy="260.9" r="0.86"/><circle cx="274.2" cy="259.2" r="0.73"/><circle cx="276.1" cy="258.9" r="0.96"/><circle cx="276.7" cy="258.7" r="0.79"/><circle cx="278.3" cy="257.6" r="1.01"/><circle cx="282.1" cy="257.7" r="0.93"/><circle cx="281.0" cy="257.1" r="0.85"/><circle cx="284.3" cy="257.8" r="0.68"/><circle cx="286.1" cy="258.6" r="0.68"/><circle cx="287.0" cy="258.4" r="0.95"/><circle cx="290.4" cy="260.8" r="0.67"/><circle cx="289.5" cy="261.0" r="0.83"/><circle cx="291.2" cy="261.7" r="0.69"/><circle cx="290.6" cy="261.6" r="0.88"/><circle cx="292.4" cy="264.5" r="0.73"/><circle cx="293.2" cy="265.7" r="0.69"/></g>
<g fill="#8f3c2d" opacity="0.92" filter="url(#dotblur)"><circle cx="288.8" cy="267.3" r="0.68"/><circle cx="289.4" cy="267.8" r="0.96"/><circle cx="287.8" cy="270.6" r="0.95"/><circle cx="287.7" cy="270.6" r="0.67"/><circle cx="286.0" cy="272.1" r="0.75"/><circle cx="284.0" cy="272.8" r="0.98"/><circle cx="281.9" cy="273.6" r="0.83"/><circle cx="279.9" cy="273.6" r="1.02"/><circle cx="278.9" cy="273.1" r="0.84"/><circle cx="276.4" cy="273.7" r="0.71"/><circle cx="275.4" cy="271.5" r="1.02"/><circle cx="274.7" cy="271.9" r="0.91"/><circle cx="272.5" cy="270.1" r="0.78"/><circle cx="272.4" cy="268.6" r="1.01"/><circle cx="272.4" cy="266.7" r="0.77"/><circle cx="272.9" cy="265.4" r="0.77"/><circle cx="273.6" cy="264.1" r="0.74"/><circle cx="274.3" cy="263.1" r="0.72"/><circle cx="274.9" cy="262.8" r="0.75"/><circle cx="277.7" cy="260.9" r="0.75"/><circle cx="278.4" cy="261.3" r="0.82"/><circle cx="281.2" cy="260.4" r="0.87"/><circle cx="281.2" cy="260.2" r="0.86"/><circle cx="284.4" cy="260.3" r="0.76"/><circle cx="286.6" cy="261.7" r="0.93"/><circle cx="286.0" cy="261.9" r="0.66"/><circle cx="289.2" cy="264.6" r="0.67"/><circle cx="289.6" cy="266.0" r="0.97"/></g>
<g fill="#873629" opacity="0.92" filter="url(#dotblur)"><circle cx="285.8" cy="267.1" r="0.92"/><circle cx="285.6" cy="269.9" r="0.88"/><circle cx="283.5" cy="270.9" r="1.01"/><circle cx="280.5" cy="270.9" r="0.74"/><circle cx="278.1" cy="270.4" r="0.84"/><circle cx="277.0" cy="270.1" r="0.94"/><circle cx="275.2" cy="266.1" r="0.72"/><circle cx="276.2" cy="264.8" r="0.73"/><circle cx="279.1" cy="262.6" r="0.70"/><circle cx="281.1" cy="262.8" r="0.77"/><circle cx="282.8" cy="263.3" r="0.94"/><circle cx="284.9" cy="265.1" r="0.99"/></g>
<g fill="#7e2f22" opacity="0.92" filter="url(#dotblur)"><circle cx="343.0" cy="273.1" r="0.71"/><circle cx="343.5" cy="273.0" r="0.76"/><circle cx="343.3" cy="274.0" r="0.69"/><circle cx="341.3" cy="274.6" r="0.81"/><circle cx="338.6" cy="275.4" r="0.90"/><circle cx="338.5" cy="275.3" r="0.92"/><circle cx="335.8" cy="276.7" r="0.99"/><circle cx="334.3" cy="276.3" r="0.68"/><circle cx="332.8" cy="275.9" r="0.75"/><circle cx="331.4" cy="274.4" r="0.88"/><circle cx="330.1" cy="273.5" r="0.95"/><circle cx="329.5" cy="272.7" r="0.93"/><circle cx="329.2" cy="272.4" r="0.70"/><circle cx="330.4" cy="270.4" r="0.91"/><circle cx="331.9" cy="269.1" r="0.74"/><circle cx="333.8" cy="268.3" r="0.86"/><circle cx="335.0" cy="267.9" r="0.85"/><circle cx="337.2" cy="267.5" r="0.84"/><circle cx="339.0" cy="268.9" r="0.91"/><circle cx="339.4" cy="268.3" r="0.92"/><circle cx="341.2" cy="268.3" r="0.96"/><circle cx="342.1" cy="269.2" r="0.89"/><circle cx="342.6" cy="270.6" r="0.87"/></g>
<g fill="#873629" opacity="0.92" filter="url(#dotblur)"><circle cx="340.7" cy="272.4" r="0.89"/><circle cx="340.9" cy="273.7" r="0.84"/><circle cx="338.8" cy="274.6" r="0.67"/><circle cx="336.7" cy="274.8" r="0.94"/><circle cx="334.0" cy="273.6" r="1.00"/><circle cx="333.3" cy="273.0" r="0.69"/><circle cx="332.4" cy="272.1" r="0.97"/><circle cx="332.7" cy="271.3" r="0.85"/><circle cx="334.6" cy="270.5" r="0.72"/><circle cx="336.6" cy="270.4" r="0.98"/><circle cx="339.5" cy="270.7" r="1.00"/><circle cx="340.6" cy="271.4" r="0.82"/></g>
<g fill="#7e2f22" opacity="0.92" filter="url(#dotblur)"><circle cx="337.9" cy="272.6" r="0.99"/><circle cx="336.7" cy="272.8" r="1.00"/><circle cx="335.9" cy="272.0" r="0.67"/></g>
<g fill="#873629" opacity="0.92" filter="url(#dotblur)"><circle cx="359.4" cy="262.1" r="1.02"/><circle cx="359.7" cy="264.0" r="0.80"/><circle cx="359.1" cy="265.8" r="0.93"/><circle cx="357.8" cy="267.0" r="0.95"/><circle cx="357.0" cy="268.5" r="0.99"/><circle cx="357.3" cy="269.4" r="0.84"/><circle cx="356.2" cy="270.1" r="0.95"/><circle cx="354.2" cy="271.3" r="0.75"/><circle cx="354.3" cy="271.4" r="0.66"/><circle cx="351.9" cy="270.5" r="0.87"/><circle cx="350.8" cy="269.9" r="0.97"/><circle cx="349.7" cy="268.6" r="0.66"/><circle cx="349.4" cy="266.8" r="0.74"/><circle cx="349.3" cy="265.4" r="0.90"/><circle cx="348.0" cy="263.5" r="0.77"/><circle cx="348.3" cy="262.4" r="0.91"/><circle cx="348.7" cy="262.0" r="0.81"/><circle cx="347.9" cy="259.2" r="0.70"/><circle cx="348.4" cy="257.1" r="0.72"/><circle cx="349.5" cy="254.5" r="0.71"/><circle cx="349.7" cy="254.2" r="1.02"/><circle cx="350.6" cy="253.0" r="1.01"/><circle cx="352.0" cy="251.9" r="0.69"/><circle cx="353.0" cy="251.9" r="0.75"/><circle cx="353.7" cy="251.3" r="0.87"/><circle cx="355.6" cy="252.1" r="0.98"/><circle cx="356.1" cy="253.3" r="0.97"/><circle cx="357.5" cy="253.4" r="0.71"/><circle cx="358.0" cy="255.7" r="0.94"/><circle cx="359.6" cy="258.6" r="0.75"/><circle cx="359.6" cy="258.0" r="0.79"/></g>
<g fill="#7e2f22" opacity="0.92" filter="url(#dotblur)"><circle cx="357.2" cy="261.0" r="0.83"/><circle cx="357.8" cy="262.3" r="0.66"/><circle cx="357.4" cy="265.6" r="0.74"/><circle cx="356.3" cy="266.9" r="0.96"/><circle cx="354.5" cy="268.4" r="0.68"/><circle cx="353.6" cy="267.7" r="0.69"/><circle cx="353.1" cy="267.7" r="0.82"/><circle cx="351.8" cy="267.2" r="0.84"/><circle cx="350.6" cy="264.4" r="0.97"/><circle cx="350.5" cy="263.6" r="0.85"/><circle cx="349.8" cy="260.3" r="0.84"/><circle cx="350.3" cy="259.8" r="0.98"/><circle cx="350.6" cy="257.4" r="0.78"/><circle cx="351.1" cy="255.5" r="0.85"/><circle cx="352.8" cy="254.7" r="0.94"/><circle cx="354.0" cy="254.2" r="0.76"/><circle cx="355.1" cy="255.1" r="0.82"/><circle cx="355.7" cy="255.2" r="0.79"/><circle cx="356.9" cy="257.5" r="0.69"/><circle cx="358.0" cy="258.2" r="0.89"/></g>
<g fill="#7e2f22" opacity="0.92" filter="url(#dotblur)"><circle cx="356.7" cy="260.9" r="0.94"/><circle cx="355.7" cy="264.7" r="0.89"/><circle cx="353.9" cy="265.1" r="0.97"/><circle cx="351.6" cy="265.0" r="0.90"/><circle cx="351.8" cy="262.7" r="0.77"/><circle cx="352.0" cy="259.3" r="0.76"/><circle cx="352.0" cy="258.3" r="0.69"/><circle cx="353.8" cy="257.1" r="0.75"/><circle cx="355.5" cy="258.2" r="0.95"/></g>
<g fill="#8f3c2d" opacity="0.92" filter="url(#dotblur)"><circle cx="359.0" cy="227.7" r="0.73"/><circle cx="359.0" cy="232.1" r="0.97"/><circle cx="359.6" cy="233.2" r="0.79"/><circle cx="358.8" cy="236.2" r="0.94"/><circle cx="358.1" cy="236.9" r="1.01"/><circle cx="358.0" cy="237.5" r="1.00"/><circle cx="357.7" cy="238.3" r="0.98"/><circle cx="357.3" cy="238.1" r="0.69"/><circle cx="355.8" cy="237.7" r="0.96"/><circle cx="355.7" cy="235.3" r="0.77"/><circle cx="354.7" cy="233.1" r="0.66"/><circle cx="355.2" cy="232.2" r="0.72"/><circle cx="354.3" cy="229.8" r="0.67"/><circle cx="354.4" cy="228.0" r="0.91"/><circle cx="355.7" cy="223.3" r="0.81"/><circle cx="355.5" cy="223.4" r="0.97"/><circle cx="356.6" cy="221.4" r="0.71"/><circle cx="355.8" cy="220.2" r="0.87"/><circle cx="357.2" cy="219.7" r="0.91"/><circle cx="358.1" cy="221.3" r="0.84"/><circle cx="358.3" cy="220.1" r="0.94"/><circle cx="359.1" cy="223.2" r="0.78"/><circle cx="359.1" cy="224.4" r="0.91"/><circle cx="358.4" cy="226.0" r="0.88"/></g>
<g fill="#8f3c2d" opacity="0.92" filter="url(#dotblur)"><circle cx="357.8" cy="229.1" r="0.97"/><circle cx="358.2" cy="232.3" r="0.83"/><circle cx="358.2" cy="233.2" r="0.92"/><circle cx="357.4" cy="234.1" r="0.84"/><circle cx="355.6" cy="232.9" r="0.90"/><circle cx="356.2" cy="231.0" r="0.94"/><circle cx="356.3" cy="228.6" r="0.96"/><circle cx="355.6" cy="226.9" r="0.87"/><circle cx="356.2" cy="224.3" r="0.99"/><circle cx="356.1" cy="224.4" r="0.85"/><circle cx="357.2" cy="224.8" r="1.01"/><circle cx="358.1" cy="226.6" r="0.86"/></g>
<g fill="#883020" opacity="0.9" filter="url(#dotblur)"><circle cx="288.2" cy="235.0" r="0.88"/><circle cx="289.0" cy="233.4" r="0.94"/><circle cx="290.0" cy="232.1" r="0.75"/><circle cx="291.5" cy="231.2" r="0.88"/><circle cx="293.1" cy="230.8" r="0.76"/><circle cx="294.5" cy="229.8" r="0.77"/><circle cx="295.5" cy="228.5" r="0.93"/><circle cx="296.1" cy="226.9" r="0.82"/><circle cx="297.1" cy="225.5" r="0.83"/><circle cx="297.4" cy="223.8" r="0.83"/><circle cx="297.0" cy="222.2" r="0.88"/><circle cx="296.5" cy="220.6" r="0.88"/></g>
<g fill="#883020" opacity="0.9" filter="url(#dotblur)"><circle cx="313.6" cy="239.2" r="0.90"/><circle cx="313.4" cy="240.8" r="0.90"/><circle cx="313.5" cy="242.5" r="0.74"/><circle cx="313.7" cy="244.2" r="0.90"/><circle cx="314.1" cy="245.9" r="0.89"/><circle cx="314.9" cy="247.3" r="0.81"/><circle cx="316.0" cy="248.7" r="0.90"/><circle cx="317.3" cy="249.8" r="0.92"/><circle cx="318.9" cy="250.4" r="0.83"/><circle cx="320.0" cy="251.7" r="0.73"/><circle cx="321.2" cy="252.9" r="0.79"/><circle cx="322.6" cy="253.9" r="0.91"/><circle cx="323.7" cy="255.1" r="0.85"/><circle cx="325.1" cy="256.2" r="0.72"/></g>
<g fill="#883020" opacity="0.9" filter="url(#dotblur)"><circle cx="335.9" cy="246.8" r="0.84"/><circle cx="334.2" cy="246.2" r="0.74"/><circle cx="332.6" cy="245.7" r="0.82"/><circle cx="331.3" cy="244.6" r="0.90"/><circle cx="329.8" cy="243.9" r="0.94"/><circle cx="328.1" cy="243.5" r="0.76"/><circle cx="326.5" cy="242.9" r="0.93"/><circle cx="325.1" cy="242.0" r="0.81"/><circle cx="323.4" cy="241.8" r="0.95"/><circle cx="321.7" cy="241.6" r="0.88"/></g>
<g fill="#883020" opacity="0.9" filter="url(#dotblur)"><circle cx="332.1" cy="238.7" r="0.72"/><circle cx="333.3" cy="239.9" r="0.77"/><circle cx="333.8" cy="241.5" r="0.79"/><circle cx="334.5" cy="243.1" r="0.77"/><circle cx="334.5" cy="244.8" r="0.72"/><circle cx="333.9" cy="246.4" r="0.95"/><circle cx="333.8" cy="248.1" r="0.86"/><circle cx="334.3" cy="249.7" r="0.85"/><circle cx="335.3" cy="251.1" r="0.94"/><circle cx="336.7" cy="252.0" r="0.85"/><circle cx="338.3" cy="252.6" r="0.69"/><circle cx="340.0" cy="252.4" r="0.91"/><circle cx="341.7" cy="252.7" r="0.70"/><circle cx="343.3" cy="252.9" r="0.71"/><circle cx="345.0" cy="252.5" r="0.95"/><circle cx="346.6" cy="252.9" r="0.81"/></g>
<g fill="#883020" opacity="0.9" filter="url(#dotblur)"><circle cx="292.8" cy="260.7" r="0.87"/><circle cx="291.3" cy="259.9" r="0.73"/><circle cx="289.6" cy="259.7" r="0.82"/><circle cx="287.9" cy="259.6" r="0.84"/><circle cx="286.3" cy="260.1" r="0.91"/><circle cx="284.9" cy="261.1" r="0.85"/><circle cx="283.8" cy="262.4" r="0.69"/><circle cx="283.0" cy="263.9" r="0.89"/><circle cx="282.8" cy="265.6" r="0.82"/><circle cx="281.9" cy="267.0" r="0.75"/><circle cx="281.0" cy="268.5" r="0.80"/><circle cx="280.4" cy="270.1" r="0.74"/></g>
<g fill="#883020" opacity="0.9" filter="url(#dotblur)"><circle cx="311.0" cy="233.2" r="0.77"/><circle cx="309.9" cy="234.5" r="0.69"/><circle cx="309.3" cy="236.1" r="0.87"/><circle cx="308.9" cy="237.7" r="0.76"/><circle cx="308.4" cy="239.4" r="0.76"/><circle cx="308.7" cy="241.0" r="0.89"/><circle cx="309.8" cy="242.4" r="0.79"/><circle cx="311.0" cy="243.6" r="0.73"/><circle cx="312.5" cy="244.4" r="0.70"/><circle cx="314.1" cy="245.0" r="0.77"/><circle cx="315.3" cy="246.2" r="0.83"/><circle cx="316.7" cy="247.1" r="0.77"/></g>
<g fill="#883020" opacity="0.9" filter="url(#dotblur)"><circle cx="310.8" cy="265.3" r="0.74"/><circle cx="311.9" cy="264.0" r="0.95"/><circle cx="312.4" cy="262.3" r="0.73"/><circle cx="312.7" cy="260.7" r="0.81"/><circle cx="312.4" cy="259.0" r="0.69"/><circle cx="312.2" cy="257.3" r="0.69"/><circle cx="312.0" cy="255.6" r="0.94"/><circle cx="311.7" cy="253.9" r="0.88"/><circle cx="311.4" cy="252.3" r="0.75"/><circle cx="310.8" cy="250.7" r="0.84"/></g>
<g fill="#883020" opacity="0.9" filter="url(#dotblur)"><circle cx="290.9" cy="249.7" r="0.92"/><circle cx="290.6" cy="248.0" r="0.81"/><circle cx="290.7" cy="246.3" r="0.79"/><circle cx="290.4" cy="244.6" r="0.75"/><circle cx="291.0" cy="243.0" r="0.85"/><circle cx="291.7" cy="241.5" r="0.72"/><circle cx="292.6" cy="240.1" r="0.76"/><circle cx="292.9" cy="238.4" r="0.74"/><circle cx="292.7" cy="236.7" r="0.80"/><circle cx="291.9" cy="235.2" r="0.76"/><circle cx="291.2" cy="233.7" r="0.84"/><circle cx="290.2" cy="232.3" r="0.73"/><circle cx="288.7" cy="231.4" r="0.72"/><circle cx="287.6" cy="230.1" r="0.81"/><circle cx="287.3" cy="228.4" r="0.71"/><circle cx="287.0" cy="226.8" r="0.95"/></g>
<g fill="#883020" opacity="0.9" filter="url(#dotblur)"><circle cx="280.1" cy="253.9" r="0.69"/><circle cx="278.4" cy="253.6" r="0.69"/><circle cx="276.7" cy="253.7" r="0.83"/><circle cx="275.1" cy="253.2" r="0.80"/><circle cx="273.4" cy="253.2" r="0.88"/><circle cx="271.7" cy="253.1" r="0.95"/><circle cx="270.0" cy="253.0" r="0.75"/><circle cx="268.3" cy="252.5" r="0.83"/><circle cx="266.7" cy="252.2" r="0.77"/><circle cx="265.2" cy="251.3" r="0.84"/><circle cx="264.1" cy="250.0" r="0.74"/><circle cx="262.5" cy="249.4" r="0.84"/><circle cx="261.0" cy="248.7" r="0.84"/><circle cx="259.3" cy="248.6" r="0.68"/><circle cx="257.6" cy="249.1" r="0.78"/></g>
<g fill="#7078b0" opacity="0.7" filter="url(#dotblur)"><circle cx="355.0" cy="241.7" r="0.62"/><circle cx="338.5" cy="230.8" r="0.41"/><circle cx="315.7" cy="245.3" r="0.64"/><circle cx="309.5" cy="254.2" r="0.55"/><circle cx="296.9" cy="219.1" r="0.61"/><circle cx="303.2" cy="218.2" r="0.63"/><circle cx="303.8" cy="254.4" r="0.56"/><circle cx="357.0" cy="240.9" r="0.48"/><circle cx="337.9" cy="259.8" r="0.38"/><circle cx="291.7" cy="262.5" r="0.53"/><circle cx="278.7" cy="220.8" r="0.63"/><circle cx="307.7" cy="253.0" r="0.57"/><circle cx="289.0" cy="263.6" r="0.45"/><circle cx="318.6" cy="233.8" r="0.56"/><circle cx="286.9" cy="239.3" r="0.64"/><circle cx="349.3" cy="231.7" r="0.58"/><circle cx="347.3" cy="244.0" r="0.36"/><circle cx="308.9" cy="242.7" r="0.52"/><circle cx="331.9" cy="257.5" r="0.52"/><circle cx="288.8" cy="230.4" r="0.43"/><circle cx="318.8" cy="261.7" r="0.57"/><circle cx="350.5" cy="251.9" r="0.47"/><circle cx="348.2" cy="238.9" r="0.48"/><circle cx="350.0" cy="272.8" r="0.62"/><circle cx="288.8" cy="235.5" r="0.42"/><circle cx="285.3" cy="233.1" r="0.56"/><circle cx="352.1" cy="244.7" r="0.56"/><circle cx="338.6" cy="226.8" r="0.38"/><circle cx="281.0" cy="237.0" r="0.47"/><circle cx="304.0" cy="241.0" r="0.55"/><circle cx="281.5" cy="218.3" r="0.65"/><circle cx="275.8" cy="250.9" r="0.60"/><circle cx="352.5" cy="218.0" r="0.36"/><circle cx="306.8" cy="260.4" r="0.46"/><circle cx="333.4" cy="228.7" r="0.62"/><circle cx="280.5" cy="226.9" r="0.36"/><circle cx="279.9" cy="237.0" r="0.61"/><circle cx="348.4" cy="253.7" r="0.54"/><circle cx="319.2" cy="267.4" r="0.58"/><circle cx="352.6" cy="250.4" r="0.56"/><circle cx="333.0" cy="236.1" r="0.63"/><circle cx="289.9" cy="252.7" r="0.52"/><circle cx="288.3" cy="267.3" r="0.43"/><circle cx="312.4" cy="247.9" r="0.52"/><circle cx="331.2" cy="228.8" r="0.49"/><circle cx="344.6" cy="243.0" r="0.61"/><circle cx="348.3" cy="267.0" r="0.40"/><circle cx="284.9" cy="246.9" r="0.46"/><circle cx="333.8" cy="262.1" r="0.52"/><circle cx="283.7" cy="267.3" r="0.36"/><circle cx="347.3" cy="242.3" r="0.37"/><circle cx="289.3" cy="271.3" r="0.64"/><circle cx="355.1" cy="226.8" r="0.52"/><circle cx="297.2" cy="259.2" r="0.46"/><circle cx="341.8" cy="250.1" r="0.55"/><circle cx="331.3" cy="253.6" r="0.48"/><circle cx="291.0" cy="255.4" r="0.48"/><circle cx="324.5" cy="237.7" r="0.39"/><circle cx="335.4" cy="248.4" r="0.36"/><circle cx="295.8" cy="238.8" r="0.42"/></g>
<g fill="#6a74b0" opacity="0.8" filter="url(#dotblur)"><circle cx="353.6" cy="218.8" r="0.53"/><circle cx="343.1" cy="219.2" r="0.61"/><circle cx="348.2" cy="227.9" r="0.57"/><circle cx="345.8" cy="219.5" r="0.59"/><circle cx="346.1" cy="229.9" r="0.62"/><circle cx="352.2" cy="225.6" r="0.43"/><circle cx="343.3" cy="218.9" r="0.41"/><circle cx="349.4" cy="220.7" r="0.45"/><circle cx="348.6" cy="223.2" r="0.48"/><circle cx="345.1" cy="233.5" r="0.44"/><circle cx="346.7" cy="229.4" r="0.59"/><circle cx="345.2" cy="225.1" r="0.60"/><circle cx="343.9" cy="235.1" r="0.41"/><circle cx="347.7" cy="235.4" r="0.37"/><circle cx="351.5" cy="229.7" r="0.54"/><circle cx="353.5" cy="218.2" r="0.61"/><circle cx="343.4" cy="218.7" r="0.52"/><circle cx="344.6" cy="228.0" r="0.58"/><circle cx="345.9" cy="222.1" r="0.57"/><circle cx="354.1" cy="220.7" r="0.60"/><circle cx="344.0" cy="227.1" r="0.54"/><circle cx="343.0" cy="233.5" r="0.49"/><circle cx="347.6" cy="237.4" r="0.55"/><circle cx="349.4" cy="224.5" r="0.37"/><circle cx="353.9" cy="238.9" r="0.63"/><circle cx="351.5" cy="231.1" r="0.63"/><circle cx="344.5" cy="223.8" r="0.53"/><circle cx="350.5" cy="221.8" r="0.56"/><circle cx="348.7" cy="229.4" r="0.65"/><circle cx="352.9" cy="216.8" r="0.46"/><circle cx="348.9" cy="221.7" r="0.53"/></g>
<g fill="#6a74b0" opacity="0.8" filter="url(#dotblur)"><circle cx="325.6" cy="268.9" r="0.64"/><circle cx="323.7" cy="260.6" r="0.60"/><circle cx="326.5" cy="267.0" r="0.44"/><circle cx="329.0" cy="270.9" r="0.49"/><circle cx="320.5" cy="254.4" r="0.57"/><circle cx="325.7" cy="252.9" r="0.37"/><circle cx="328.3" cy="254.3" r="0.49"/><circle cx="320.1" cy="256.8" r="0.43"/><circle cx="321.5" cy="260.4" r="0.41"/><circle cx="320.0" cy="262.3" r="0.36"/><circle cx="321.4" cy="265.4" r="0.45"/><circle cx="326.8" cy="255.8" r="0.48"/><circle cx="329.3" cy="270.5" r="0.64"/><circle cx="325.0" cy="256.9" r="0.65"/><circle cx="322.8" cy="266.6" r="0.60"/><circle cx="325.7" cy="257.4" r="0.42"/><circle cx="323.3" cy="259.9" r="0.56"/><circle cx="323.8" cy="261.8" r="0.47"/><circle cx="322.1" cy="258.2" r="0.41"/><circle cx="319.7" cy="269.6" r="0.61"/></g>
<g fill="#6a74b0" opacity="0.8" filter="url(#dotblur)"><circle cx="303.5" cy="256.7" r="0.41"/><circle cx="304.3" cy="255.5" r="0.58"/><circle cx="299.2" cy="258.4" r="0.55"/><circle cx="303.9" cy="257.1" r="0.40"/><circle cx="303.9" cy="261.0" r="0.55"/><circle cx="303.4" cy="261.1" r="0.62"/></g>
<rect x="271.1" y="216" width="86.69999999999999" height="59.7" filter="url(#mottL)" opacity="0.45"/>
</g>
<line x1="78.70" y1="269.60" x2="87.60" y2="269.60" stroke="#111" stroke-width="1.3"/>
<line x1="165.10" y1="269.60" x2="173.70" y2="269.60" stroke="#111" stroke-width="1.3"/>
<line x1="257.00" y1="269.60" x2="265.60" y2="269.60" stroke="#111" stroke-width="1.3"/>
<line x1="343.10" y1="269.60" x2="351.70" y2="269.60" stroke="#111" stroke-width="1.3"/>
</svg>
</body></html>
